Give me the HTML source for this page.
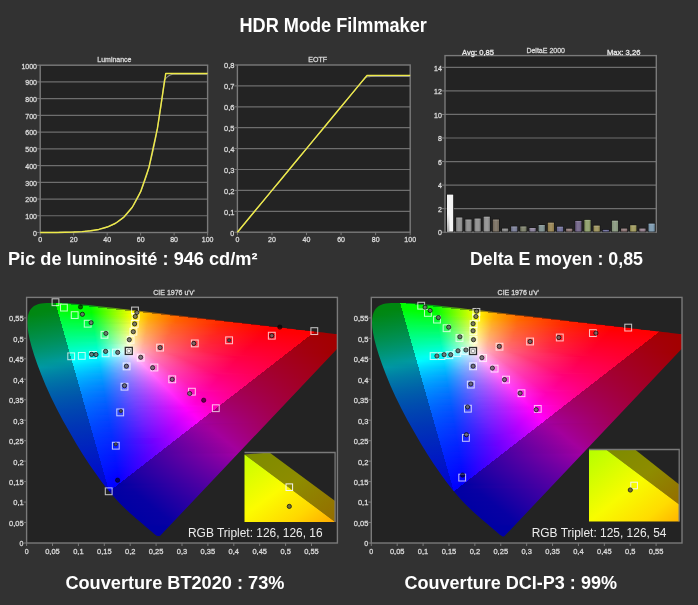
<!DOCTYPE html>
<html><head><meta charset="utf-8"><style>
html,body{margin:0;padding:0;background:#323232;width:698px;height:605px;overflow:hidden}
svg{position:absolute;left:0;top:0;font-family:"Liberation Sans", sans-serif;will-change:transform}
.cie,.bgp{position:absolute;overflow:hidden}
.bgp{background:#232323}
.cie i{position:absolute;display:block}
</style></head><body>
<div class="bgp" style="left:26.6px;top:297.4px;width:310.79999999999995px;height:245.60000000000002px"></div><div class="cie" style="left:26px;top:297px;width:312px;height:246px;clip-path:polygon(133.7px 239.3px,133.6px 239.2px,133.6px 239.2px,133.5px 239.3px,133.5px 239.3px,133.4px 239.3px,133.3px 239.3px,133.2px 239.3px,133.2px 239.3px,133.1px 239.4px,133.1px 239.5px,133.0px 239.5px,132.9px 239.5px,132.7px 239.5px,132.6px 239.5px,132.4px 239.5px,132.3px 239.5px,132.1px 239.5px,131.9px 239.4px,131.6px 239.3px,131.2px 239.1px,130.8px 238.8px,130.2px 238.4px,129.6px 237.9px,128.9px 237.4px,128.1px 236.7px,127.1px 236.0px,126.1px 235.1px,124.9px 234.1px,123.6px 233.0px,122.2px 231.7px,120.7px 230.4px,118.9px 228.9px,117.0px 227.3px,114.9px 225.5px,112.5px 223.5px,110.0px 221.4px,107.3px 219.1px,104.4px 216.5px,101.2px 213.6px,97.8px 210.3px,94.2px 206.7px,90.3px 202.6px,85.8px 197.5px,80.8px 191.4px,75.2px 184.2px,69.4px 176.1px,63.2px 167.2px,56.7px 157.2px,50.1px 146.5px,43.5px 135.1px,36.9px 123.5px,30.6px 111.6px,24.8px 99.8px,19.7px 88.4px,15.2px 77.5px,11.3px 67.3px,8.1px 58.0px,5.6px 49.7px,3.7px 42.4px,2.4px 36.0px,1.6px 30.5px,1.3px 25.8px,1.5px 21.7px,2.0px 18.2px,3.0px 15.2px,4.3px 12.7px,6.0px 10.7px,8.0px 9.1px,10.2px 7.9px,12.6px 7.1px,15.1px 6.5px,17.8px 6.2px,20.7px 6.0px,23.6px 5.9px,26.5px 5.8px,29.5px 5.8px,32.4px 5.9px,35.4px 6.0px,38.5px 6.1px,41.6px 6.3px,44.9px 6.5px,48.2px 6.8px,51.7px 7.1px,55.3px 7.4px,59.0px 7.7px,62.8px 8.1px,66.9px 8.5px,71.0px 9.0px,75.4px 9.5px,79.9px 10.0px,84.6px 10.5px,89.5px 11.1px,94.7px 11.7px,100.0px 12.3px,105.5px 12.9px,111.3px 13.6px,117.3px 14.3px,123.5px 15.1px,129.9px 15.8px,136.5px 16.6px,143.3px 17.4px,150.3px 18.2px,157.5px 19.1px,164.8px 19.9px,172.3px 20.8px,179.9px 21.7px,187.5px 22.6px,195.0px 23.5px,202.3px 24.4px,209.6px 25.2px,216.9px 26.1px,224.0px 26.9px,230.9px 27.7px,237.4px 28.5px,243.6px 29.2px,249.6px 29.9px,255.2px 30.6px,260.5px 31.2px,265.5px 31.8px,270.1px 32.4px,274.4px 32.9px,278.4px 33.3px,282.1px 33.8px,285.6px 34.2px,288.9px 34.6px,292.0px 34.9px,294.9px 35.3px,297.7px 35.6px,300.2px 35.9px,302.6px 36.2px,304.8px 36.5px,306.8px 36.7px,308.6px 36.9px,310.2px 37.1px,311.6px 37.3px,313.0px 37.4px,314.1px 37.6px,315.2px 37.7px,316.2px 37.8px,317.0px 37.9px,317.7px 38.0px,318.3px 38.1px,318.8px 38.1px,319.3px 38.2px,319.8px 38.2px,320.2px 38.3px,320.6px 38.3px,321.0px 38.4px,321.3px 38.4px,321.7px 38.5px,322.1px 38.5px,322.5px 38.5px,322.7px 38.6px,322.9px 38.6px,323.1px 38.6px,323.2px 38.6px,323.3px 38.7px,323.4px 38.7px,323.5px 38.7px,323.5px 38.7px)"><i style="top:6px;left:0;width:312px;height:1px;background:linear-gradient(90deg,#008710 13.5px,#008710 29.5px,#00ff00 30.5px,#00ff00 35.5px,#00a314 36.5px,#00a314 46.5px)"></i><i style="top:7px;left:0;width:312px;height:1px;background:linear-gradient(90deg,#008710 9.5px,#008710 29.5px,#00ff00 30.5px,#00ff00 44.5px,#00a314 45.5px,#00a314 58.5px)"></i><i style="top:8px;left:0;width:312px;height:1px;background:linear-gradient(90deg,#008710 7.5px,#008710 29.5px,#00ff00 30.5px,#00ff00 53.5px,#00a314 54.5px,#05a313 65.5px,#0ea312 67.5px)"></i><i style="top:9px;left:0;width:312px;height:1px;background:linear-gradient(90deg,#008710 5.5px,#008710 29.5px,#00ff00 30.5px,#00ff00 62.5px,#00a314 63.5px,#34a30f 77.5px)"></i><i style="top:10px;left:0;width:312px;height:1px;background:linear-gradient(90deg,#008710 4.5px,#008710 30.5px,#00ff00 31.5px,#00ff00 64.5px,#30ff00 71.5px,#23a310 72.5px,#51a30d 85.5px)"></i><i style="top:11px;left:0;width:312px;height:1px;background:linear-gradient(90deg,#008710 3.5px,#008710 30.5px,#00ff00 31.5px,#00ff00 64.5px,#63ff00 80.5px,#43a30e 81.5px,#72a30c 94.5px)"></i><i style="top:12px;left:0;width:312px;height:1px;background:linear-gradient(90deg,#008710 2.5px,#008710 30.5px,#00ff00 31.5px,#00ff00 64.5px,#96ff00 89.5px,#64a30c 90.5px,#95a30a 103.5px)"></i><i style="top:13px;left:0;width:312px;height:1px;background:linear-gradient(90deg,#008710 2.5px,#008714 31.5px,#00ff07 32.5px,#06ff00 65.5px,#cbff00 98.5px,#86a30b 99.5px,#a39d09 108.5px,#a39208 111.5px)"></i><i style="top:14px;left:0;width:312px;height:1px;background:linear-gradient(90deg,#008710 1.5px,#008716 31.5px,#00ff0d 32.5px,#04ff00 65.5px,#fffa00 107.5px,#a39c09 108.5px,#a37706 120.5px)"></i><i style="top:15px;left:0;width:312px;height:1px;background:linear-gradient(90deg,#008710 1.5px,#008719 31.5px,#00ff13 32.5px,#03ff00 65.5px,#feff00 106.5px,#ffca00 116.5px,#a37e07 117.5px,#a36405 128.5px)"></i><i style="top:16px;left:0;width:312px;height:1px;background:linear-gradient(90deg,#008710 1.5px,#00881b 31.5px,#00ff18 32.5px,#01ff07 65.5px,#84ff00 86.5px,#fff900 107.5px,#ffa900 124.5px,#ffa600 125.5px,#a36805 126.5px,#a35403 137.5px)"></i><i style="top:17px;left:0;width:312px;height:1px;background:linear-gradient(90deg,#008710 0.5px,#00881e 32.5px,#00ff1d 33.5px,#00ff0e 65.5px,#96ff00 89.5px,#ffff00 106.5px,#ffb000 122.5px,#ff8a00 134.5px,#a35704 135.5px,#a34803 145.5px)"></i><i style="top:18px;left:0;width:312px;height:1px;background:linear-gradient(90deg,#008712 0.5px,#008820 32.5px,#00ff22 33.5px,#00ff15 65.5px,#f9ff00 105.5px,#ffa500 125.5px,#ff7400 143.5px,#a34903 144.5px,#a33d02 154.5px)"></i><i style="top:19px;left:0;width:312px;height:1px;background:linear-gradient(90deg,#008715 0.5px,#008823 32.5px,#00ff27 33.5px,#00ff1b 65.5px,#fffd00 106.5px,#ffaf00 122.5px,#ff6800 149.5px,#ff6200 152.5px,#a33e02 153.5px,#a33402 162.5px)"></i><i style="top:20px;left:0;width:312px;height:1px;background:linear-gradient(90deg,#008718 0.5px,#008925 33.5px,#00ff2b 34.5px,#05ff21 66.5px,#fffd09 106.5px,#ffae00 122.5px,#ff6700 149.5px,#ff5300 161.5px,#a33401 162.5px,#a32c01 171.5px)"></i><i style="top:21px;left:0;width:312px;height:1px;background:linear-gradient(90deg,#00881a 0.5px,#008928 33.5px,#00ff30 34.5px,#03ff27 66.5px,#fffc12 106.5px,#ffad03 122.5px,#ff6600 149.5px,#ff4500 170.5px,#a32b01 171.5px,#a32501 179.5px)"></i><i style="top:22px;left:0;width:312px;height:1px;background:linear-gradient(90deg,#00881d 0.5px,#00892a 33.5px,#00ff35 34.5px,#01ff2c 66.5px,#95ff24 89.5px,#fffb1a 106.5px,#ffac0a 122.5px,#ff6500 149.5px,#ff3900 179.5px,#a32401 180.5px,#a31e01 188.5px)"></i><i style="top:23px;left:0;width:312px;height:1px;background:linear-gradient(90deg,#00881f 0.5px,#008a2c 33.5px,#00ff39 34.5px,#00ff32 66.5px,#89ff2b 87.5px,#fffb22 106.5px,#ffac11 122.5px,#ff6500 149.5px,#ff2f00 188.5px,#a31d01 189.5px,#a31900 196.5px)"></i><i style="top:24px;left:0;width:312px;height:1px;background:linear-gradient(90deg,#008821 0.5px,#008a2f 34.5px,#00ff3e 35.5px,#00ff37 66.5px,#fdff2b 105.5px,#ffab17 122.5px,#ff6404 149.5px,#ff2500 197.5px,#a31700 198.5px,#a31400 204.5px)"></i><i style="top:25px;left:0;width:312px;height:1px;background:linear-gradient(90deg,#008923 0.5px,#008a31 34.5px,#00ff42 35.5px,#00ff3d 66.5px,#fffa31 106.5px,#ffaa1d 122.5px,#ff630a 149.5px,#ff2500 197.5px,#ff1d00 206.5px,#a31200 207.5px,#a30e00 213.5px)"></i><i style="top:26px;left:0;width:312px;height:1px;background:linear-gradient(90deg,#008926 0.5px,#008b33 34.5px,#00ff47 35.5px,#05ff42 67.5px,#fff938 106.5px,#ffa922 122.5px,#ff630e 149.5px,#ff2400 197.5px,#ff1400 215.5px,#a30d00 216.5px,#a30a00 221.5px)"></i><i style="top:27px;left:0;width:312px;height:1px;background:linear-gradient(90deg,#008928 0.5px,#008b36 35.5px,#00ff4b 36.5px,#04ff48 67.5px,#ffff40 105.5px,#ffb02a 120.5px,#ff6a15 145.5px,#ff2800 192.5px,#ff0d00 224.5px,#a30700 225.5px,#a30500 230.5px)"></i><i style="top:28px;left:0;width:312px;height:1px;background:linear-gradient(90deg,#00892a 0.5px,#008b38 35.5px,#00ff50 36.5px,#02ff4d 67.5px,#bcff49 95.5px,#ffff47 105.5px,#ffb02f 120.5px,#ff6919 145.5px,#ff2803 192.5px,#ff0400 233.5px,#a30200 234.5px,#a30000 238.5px)"></i><i style="top:29px;left:0;width:312px;height:1px;background:linear-gradient(90deg,#008a2c 0.5px,#008c3b 35.5px,#00ff54 36.5px,#00ff52 67.5px,#7bff51 85.5px,#fffe4e 105.5px,#ffaf34 120.5px,#ff681d 145.5px,#ff2706 192.5px,#ff0000 242.5px,#a30000 243.5px,#a30000 247.5px)"></i><i style="top:30px;left:0;width:312px;height:1px;background:linear-gradient(90deg,#008a2f 0.5px,#008c3d 35.5px,#00ff59 36.5px,#00ff58 67.5px,#fffd55 105.5px,#ffae39 120.5px,#ff6821 145.5px,#ff260a 192.5px,#ff0000 242.5px,#ff0000 251.5px,#a30000 252.5px,#a30000 255.5px)"></i><i style="top:31px;left:0;width:312px;height:1px;background:linear-gradient(90deg,#008a31 0.5px,#008d40 36.5px,#00ff5d 37.5px,#00ff5d 67.5px,#fffd5b 105.5px,#ffad3e 120.5px,#ff6725 145.5px,#ff260d 192.5px,#ff0000 241.5px,#ff0000 260.5px,#a30000 261.5px,#a30000 264.5px)"></i><i style="top:32px;left:0;width:312px;height:1px;background:linear-gradient(90deg,#008b33 0.5px,#008d42 36.5px,#00ff62 37.5px,#06ff62 68.5px,#fffc62 105.5px,#ffad43 120.5px,#ff6628 145.5px,#ff2510 192.5px,#ff0000 241.5px,#ff0000 269.5px,#a30000 270.5px,#a30000 272.5px)"></i><i style="top:33px;left:0;width:312px;height:1px;background:linear-gradient(90deg,#008b35 0.5px,#008d45 36.5px,#00ff66 37.5px,#05ff68 68.5px,#fffb69 105.5px,#ffac48 120.5px,#ff652c 145.5px,#ff2412 192.5px,#ff0003 240.5px,#ff0000 278.5px,#a30000 279.5px,#a30000 281.5px)"></i><i style="top:34px;left:0;width:312px;height:1px;background:linear-gradient(90deg,#008b38 0.5px,#008e47 37.5px,#00ff6b 38.5px,#03ff6d 68.5px,#fcff71 104.5px,#ffab4d 120.5px,#ff6530 145.5px,#ff2415 192.5px,#ff0006 239.5px,#ff0000 287.5px,#a30000 288.5px,#a30000 289.5px)"></i><i style="top:35px;left:0;width:312px;height:1px;background:linear-gradient(90deg,#008c3a 0.5px,#008e4a 37.5px,#00ff70 38.5px,#01ff72 68.5px,#87ff75 87.5px,#fffa76 105.5px,#ffaa52 120.5px,#ff6433 145.5px,#ff2318 192.5px,#ff0009 238.5px,#ff0000 287.5px,#a30000 288.5px,#a30000 298.5px)"></i><i style="top:36px;left:0;width:312px;height:1px;background:linear-gradient(90deg,#008c3c 0.5px,#008f4c 37.5px,#00ff74 38.5px,#00ff78 68.5px,#9bff7c 90.5px,#fff97c 105.5px,#ffa957 120.5px,#ff6337 145.5px,#ff221a 192.5px,#ff000b 237.5px,#ff0000 285.5px,#a30000 286.5px,#a30000 306.5px)"></i><i style="top:37px;left:0;width:312px;height:1px;background:linear-gradient(90deg,#008d3f 1.5px,#008f4f 37.5px,#00ff79 38.5px,#00ff7d 68.5px,#feff86 104.5px,#ffad5e 119.5px,#ff673c 143.5px,#ff261e 188.5px,#ff000e 236.5px,#ff0002 284.5px,#a30001 285.5px,#a30000 311.5px)"></i><i style="top:38px;left:0;width:312px;height:1px;background:linear-gradient(90deg,#008d42 1.5px,#008f52 38.5px,#00ff7d 39.5px,#00ff83 68.5px,#ffff8d 104.5px,#ffb065 118.5px,#ff6a42 141.5px,#ff2923 184.5px,#ff0010 235.5px,#ff0005 283.5px,#a30003 284.5px,#a30000 311.5px)"></i><i style="top:39px;left:0;width:312px;height:1px;background:linear-gradient(90deg,#008d44 1.5px,#009054 38.5px,#00ff82 39.5px,#05ff88 69.5px,#fffe93 104.5px,#ffaf6a 118.5px,#ff6946 141.5px,#ff2826 184.5px,#ff0013 234.5px,#ff0007 282.5px,#a30004 283.5px,#a30000 311.5px)"></i><i style="top:40px;left:0;width:312px;height:1px;background:linear-gradient(90deg,#008e46 1.5px,#009057 38.5px,#00ff87 39.5px,#04ff8e 69.5px,#fffe9a 104.5px,#ffae6f 118.5px,#ff6949 141.5px,#ff2828 184.5px,#ff0015 233.5px,#ff0009 280.5px,#a30006 281.5px,#a30000 311.5px)"></i><i style="top:41px;left:0;width:312px;height:1px;background:linear-gradient(90deg,#008e49 2.5px,#00915a 39.5px,#00ff8b 40.5px,#02ff93 69.5px,#9bff9b 90.5px,#fffda0 104.5px,#ffae74 118.5px,#ff684d 141.5px,#ff272b 184.5px,#ff0017 232.5px,#ff000b 279.5px,#a30007 280.5px,#a30000 311.5px)"></i><i style="top:42px;left:0;width:312px;height:1px;background:linear-gradient(90deg,#008f4c 2.5px,#00915d 39.5px,#00ff90 40.5px,#00ff99 69.5px,#86ffa0 87.5px,#fffca7 104.5px,#ffad78 118.5px,#ff6750 141.5px,#ff262d 184.5px,#ff001a 231.5px,#ff000d 278.5px,#a30008 279.5px,#a30000 311.5px)"></i><i style="top:43px;left:0;width:312px;height:1px;background:linear-gradient(90deg,#008f4e 2.5px,#009160 39.5px,#00ff95 40.5px,#00ff9e 69.5px,#fffcad 104.5px,#ffac7d 118.5px,#ff6654 141.5px,#ff262f 184.5px,#ff001c 230.5px,#ff000f 276.5px,#a3000a 277.5px,#a30000 311.5px)"></i><i style="top:44px;left:0;width:312px;height:1px;background:linear-gradient(90deg,#008f51 2.5px,#009262 39.5px,#00ff99 40.5px,#00ffa4 69.5px,#fffbb4 104.5px,#ffab82 118.5px,#ff6557 141.5px,#ff2532 184.5px,#ff001e 229.5px,#ff0011 275.5px,#a3000b 276.5px,#a30000 311.5px)"></i><i style="top:45px;left:0;width:312px;height:1px;background:linear-gradient(90deg,#009053 2.5px,#009266 40.5px,#00ff9f 41.5px,#06ffaa 70.5px,#fffabb 104.5px,#ffaa87 118.5px,#ff655b 141.5px,#ff2434 184.5px,#ff0020 228.5px,#ff0013 274.5px,#a3000c 275.5px,#a30000 311.5px)"></i><i style="top:46px;left:0;width:312px;height:1px;background:linear-gradient(90deg,#009057 3.5px,#009368 40.5px,#00ffa3 41.5px,#04ffb0 70.5px,#fff9c1 104.5px,#ffa98c 118.5px,#ff645e 141.5px,#ff2236 185.5px,#ff0023 227.5px,#ff0015 273.5px,#a3000d 274.5px,#a30000 311.5px)"></i><i style="top:47px;left:0;width:312px;height:1px;background:linear-gradient(90deg,#009159 3.5px,#00936b 40.5px,#00ffa8 41.5px,#02ffb5 70.5px,#fdffcc 103.5px,#ffad94 117.5px,#ff6765 139.5px,#ff273c 180.5px,#ff0025 226.5px,#ff0017 271.5px,#a3000f 272.5px,#a30000 311.5px)"></i><i style="top:48px;left:0;width:312px;height:1px;background:linear-gradient(90deg,#00915c 3.5px,#00946f 41.5px,#00ffad 42.5px,#00ffbb 70.5px,#76ffc5 85.5px,#feffd3 103.5px,#ffb19c 116.5px,#ff696a 138.5px,#ff2940 178.5px,#ff0027 224.5px,#ff0019 270.5px,#a30010 271.5px,#a30000 311.5px)"></i><i style="top:49px;left:0;width:312px;height:1px;background:linear-gradient(90deg,#00915f 4.5px,#009472 41.5px,#00ffb2 42.5px,#00ffc1 70.5px,#ffffdb 103.5px,#ffb0a1 116.5px,#ff686e 138.5px,#ff2741 179.5px,#ff002a 223.5px,#ff001b 269.5px,#a30011 270.5px,#a30000 311.5px)"></i><i style="top:50px;left:0;width:312px;height:1px;background:linear-gradient(90deg,#009262 4.5px,#009475 41.5px,#00ffb7 42.5px,#00ffc7 70.5px,#fffee2 103.5px,#ffafa6 116.5px,#ff6771 138.5px,#ff2644 179.5px,#ff002c 222.5px,#ff001d 267.5px,#a30012 268.5px,#a30000 311.5px)"></i><i style="top:51px;left:0;width:312px;height:1px;background:linear-gradient(90deg,#009264 4.5px,#009578 41.5px,#00ffbc 42.5px,#00ffcc 70.5px,#fffee9 103.5px,#ffaeab 116.5px,#ff6976 137.5px,#ff2748 177.5px,#ff002e 221.5px,#ff001f 266.5px,#a30013 267.5px,#a30000 311.5px)"></i><i style="top:52px;left:0;width:312px;height:1px;background:linear-gradient(90deg,#009367 4.5px,#00957b 42.5px,#00ffc1 43.5px,#05ffd3 71.5px,#fffdf0 103.5px,#ffadb0 116.5px,#ff687a 137.5px,#ff274a 177.5px,#ff0031 220.5px,#ff0021 265.5px,#a30015 266.5px,#a30000 311.5px)"></i><i style="top:53px;left:0;width:312px;height:1px;background:linear-gradient(90deg,#00936b 5.5px,#00967e 42.5px,#00ffc6 43.5px,#03ffd9 71.5px,#fffcf6 103.5px,#ffacb5 116.5px,#ff677e 137.5px,#ff264c 177.5px,#ff0033 219.5px,#ff0023 264.5px,#a30016 265.5px,#a30000 310.5px)"></i><i style="top:54px;left:0;width:312px;height:1px;background:linear-gradient(90deg,#00936d 5.5px,#009681 42.5px,#00ffcb 43.5px,#01ffdf 71.5px,#8bffef 88.5px,#fffbfd 103.5px,#ffabba 116.5px,#ff6681 137.5px,#ff254f 177.5px,#ff0035 218.5px,#ff0025 262.5px,#a30017 263.5px,#a30000 310.5px)"></i><i style="top:55px;left:0;width:312px;height:1px;background:linear-gradient(90deg,#009470 5.5px,#009785 43.5px,#00ffd1 44.5px,#00ffe5 71.5px,#a2fff9 91.5px,#fff2fd 104.5px,#ffa6bb 117.5px,#ff6181 139.5px,#ff204e 181.5px,#ff0037 218.5px,#ff0027 261.5px,#a30018 262.5px,#a30000 309.5px)"></i><i style="top:56px;left:0;width:312px;height:1px;background:linear-gradient(90deg,#009474 6.5px,#009788 43.5px,#00ffd6 44.5px,#00ffeb 71.5px,#affbff 93.5px,#ffeafd 105.5px,#ff9cb9 119.5px,#ff577d 143.5px,#ff1549 190.5px,#ff0039 218.5px,#ff0028 260.5px,#a30019 261.5px,#a30001 308.5px)"></i><i style="top:57px;left:0;width:312px;height:1px;background:linear-gradient(90deg,#009577 6.5px,#00978b 43.5px,#00ffdb 44.5px,#00fff1 71.5px,#95f8ff 90.5px,#ffe2fd 106.5px,#ff97ba 120.5px,#ff547f 144.5px,#ff134a 192.5px,#ff003b 217.5px,#ff002b 258.5px,#a3001b 259.5px,#a30003 307.5px)"></i><i style="top:58px;left:0;width:312px;height:1px;background:linear-gradient(90deg,#00957a 6.5px,#00988f 43.5px,#00ffe0 44.5px,#06fff9 72.5px,#76f6ff 86.5px,#ffdafd 107.5px,#ff8fb8 122.5px,#ff4c7b 148.5px,#ff0a47 200.5px,#ff003a 223.5px,#ff002c 257.5px,#a3001c 258.5px,#a30004 306.5px)"></i><i style="top:59px;left:0;width:312px;height:1px;background:linear-gradient(90deg,#00967d 7.5px,#009893 44.5px,#00ffe6 45.5px,#04ffff 72.5px,#6cf1ff 85.5px,#ffd2fd 108.5px,#ff87b5 124.5px,#ff4478 152.5px,#ff0145 207.5px,#ff002e 256.5px,#a3001d 257.5px,#a30005 305.5px)"></i><i style="top:60px;left:0;width:312px;height:1px;background:linear-gradient(90deg,#009681 7.5px,#009996 44.5px,#00ffec 45.5px,#02f9ff 72.5px,#62ecff 84.5px,#ffcbfd 109.5px,#ff83b7 125.5px,#ff417a 153.5px,#ff0046 208.5px,#ff0030 255.5px,#a3001e 256.5px,#a30007 304.5px)"></i><i style="top:61px;left:0;width:312px;height:1px;background:linear-gradient(90deg,#009684 7.5px,#00999a 44.5px,#00fff1 45.5px,#00f5ff 70.5px,#00f3ff 72.5px,#58e7ff 83.5px,#ffc4fd 110.5px,#ff7eb8 126.5px,#ff3d7a 155.5px,#ff0046 211.5px,#ff0032 253.5px,#a30020 254.5px,#a30008 303.5px)"></i><i style="top:62px;left:0;width:312px;height:1px;background:linear-gradient(90deg,#009788 8.5px,#009a9e 45.5px,#00fff7 46.5px,#00edff 72.5px,#69deff 86.5px,#ffbdfd 111.5px,#ff77b6 128.5px,#ff3878 158.5px,#ff0048 210.5px,#ff0034 252.5px,#a30021 253.5px,#a30009 302.5px)"></i><i style="top:63px;left:0;width:312px;height:1px;background:linear-gradient(90deg,#00978b 8.5px,#009aa1 45.5px,#00fffd 46.5px,#00e8ff 72.5px,#73d6ff 88.5px,#ffb7fd 112.5px,#ff73b7 129.5px,#ff3579 159.5px,#ff004b 209.5px,#ff0036 251.5px,#a30022 252.5px,#a3000a 301.5px)"></i><i style="top:64px;left:0;width:312px;height:1px;background:linear-gradient(90deg,#00988e 8.5px,#0099a4 45.5px,#00fcff 46.5px,#06e1ff 73.5px,#76d0ff 89.5px,#ffb0fd 113.5px,#ff6db5 131.5px,#ff3078 162.5px,#ff004e 208.5px,#ff0039 249.5px,#a30024 250.5px,#a3000b 300.5px)"></i><i style="top:65px;left:0;width:312px;height:1px;background:linear-gradient(90deg,#009892 9.5px,#0096a4 45.5px,#00f7ff 46.5px,#04dcff 73.5px,#6dccff 88.5px,#ffaafc 114.5px,#ff69b6 132.5px,#ff2c78 164.5px,#ff0050 207.5px,#ff003b 248.5px,#a30025 249.5px,#a3000c 299.5px)"></i><i style="top:66px;left:0;width:312px;height:1px;background:linear-gradient(90deg,#009995 9.5px,#0093a4 46.5px,#00f1ff 47.5px,#02d7ff 73.5px,#64c8ff 87.5px,#ffa5fc 115.5px,#ff65b7 133.5px,#ff2a79 165.5px,#ff0053 206.5px,#ff003c 247.5px,#a30026 248.5px,#a3000d 298.5px)"></i><i style="top:67px;left:0;width:312px;height:1px;background:linear-gradient(90deg,#009999 9.5px,#0091a4 46.5px,#00ecff 47.5px,#00d2ff 73.5px,#56c6ff 85.5px,#ff9ffc 116.5px,#ff5fb5 135.5px,#ff2578 168.5px,#ff0055 206.5px,#ff003e 246.5px,#a30027 247.5px,#a3000f 297.5px)"></i><i style="top:68px;left:0;width:312px;height:1px;background:linear-gradient(90deg,#009a9d 10.5px,#008ea4 46.5px,#00e7ff 47.5px,#00ceff 73.5px,#65beff 88.5px,#ff99fc 117.5px,#ff5cb6 136.5px,#ff2278 170.5px,#ff0057 205.5px,#ff0041 244.5px,#a30029 245.5px,#a30010 296.5px)"></i><i style="top:69px;left:0;width:312px;height:1px;background:linear-gradient(90deg,#009aa1 10.5px,#008ba4 47.5px,#00e2ff 48.5px,#00c9ff 73.5px,#6eb7ff 90.5px,#ff94fc 118.5px,#ff56b4 138.5px,#ff1d77 173.5px,#ff005a 204.5px,#ff0043 243.5px,#a3002a 244.5px,#a30011 295.5px)"></i><i style="top:70px;left:0;width:312px;height:1px;background:linear-gradient(90deg,#009aa4 10.5px,#0089a5 47.5px,#00ddff 48.5px,#06c4ff 74.5px,#76b1ff 92.5px,#ff8ffc 119.5px,#ff53b5 139.5px,#ff1b78 174.5px,#ff005c 203.5px,#ff0045 242.5px,#a3002c 243.5px,#a30012 294.5px)"></i><i style="top:71px;left:0;width:312px;height:1px;background:linear-gradient(90deg,#0097a4 11.5px,#0086a5 47.5px,#00d9ff 48.5px,#04c0ff 74.5px,#6eaeff 91.5px,#ff8afc 120.5px,#ff50b6 140.5px,#ff1878 176.5px,#ff005f 202.5px,#ff0047 240.5px,#a3002d 241.5px,#a30013 293.5px)"></i><i style="top:72px;left:0;width:312px;height:1px;background:linear-gradient(90deg,#0094a4 11.5px,#0084a5 47.5px,#00d5ff 48.5px,#03bcff 74.5px,#66abff 90.5px,#ff85fc 121.5px,#ff4bb4 142.5px,#ff1477 179.5px,#ff0061 202.5px,#ff004a 239.5px,#a3002f 240.5px,#a30014 292.5px)"></i><i style="top:73px;left:0;width:312px;height:1px;background:linear-gradient(90deg,#0091a4 12.5px,#0081a5 48.5px,#00d0ff 49.5px,#01b8ff 74.5px,#5aa9ff 88.5px,#ff80fc 122.5px,#ff48b5 143.5px,#ff1178 180.5px,#ff0064 201.5px,#ff004c 238.5px,#a30030 239.5px,#a30015 292.5px)"></i><i style="top:74px;left:0;width:312px;height:1px;background:linear-gradient(90deg,#008ea4 12.5px,#007fa6 48.5px,#00ccff 49.5px,#00b4ff 74.5px,#5da5ff 89.5px,#ff7bfc 123.5px,#ff45b6 144.5px,#ff0f79 181.5px,#ff0067 200.5px,#ff004e 237.5px,#a30031 238.5px,#a30016 291.5px)"></i><i style="top:75px;left:0;width:312px;height:1px;background:linear-gradient(90deg,#008ca4 12.5px,#007da6 48.5px,#00c8ff 49.5px,#00b0ff 74.5px,#6a9eff 92.5px,#ff77fc 124.5px,#ff40b5 146.5px,#ff0a77 185.5px,#ff0065 204.5px,#ff0050 235.5px,#a30033 236.5px,#a30017 290.5px)"></i><i style="top:76px;left:0;width:312px;height:1px;background:linear-gradient(90deg,#0089a5 13.5px,#007ba6 49.5px,#00c3ff 50.5px,#06acff 75.5px,#7697ff 95.5px,#ff73fc 125.5px,#ff3db5 147.5px,#ff0778 186.5px,#ff005c 219.5px,#ff0053 234.5px,#a30034 235.5px,#a30018 289.5px)"></i><i style="top:77px;left:0;width:312px;height:1px;background:linear-gradient(90deg,#0086a5 13.5px,#0079a6 49.5px,#00c0ff 50.5px,#05a8ff 75.5px,#6f95ff 94.5px,#ff6efc 126.5px,#ff39b4 149.5px,#ff0277 189.5px,#ff0055 233.5px,#a30036 234.5px,#a30019 288.5px)"></i><i style="top:78px;left:0;width:312px;height:1px;background:linear-gradient(90deg,#0084a5 14.5px,#0077a6 49.5px,#00bcff 50.5px,#03a5ff 75.5px,#6893ff 93.5px,#ff6afc 127.5px,#ff36b5 150.5px,#ff0077 191.5px,#ff0057 231.5px,#a30038 232.5px,#a3001a 287.5px)"></i><i style="top:79px;left:0;width:312px;height:1px;background:linear-gradient(90deg,#0082a5 14.5px,#0075a7 49.5px,#00b9ff 50.5px,#01a2ff 75.5px,#6191ff 92.5px,#ff66fc 128.5px,#ff33b5 151.5px,#ff0078 192.5px,#ff005a 230.5px,#a30039 231.5px,#a3001b 286.5px)"></i><i style="top:80px;left:0;width:312px;height:1px;background:linear-gradient(90deg,#007fa5 14.5px,#0073a7 50.5px,#00b5ff 51.5px,#009fff 75.5px,#5a8fff 91.5px,#ff62fc 129.5px,#ff2fb4 153.5px,#ff007a 192.5px,#ff005c 229.5px,#a3003a 230.5px,#a3001c 285.5px)"></i><i style="top:81px;left:0;width:312px;height:1px;background:linear-gradient(90deg,#007da6 15.5px,#0071a7 50.5px,#00b1ff 51.5px,#009cff 75.5px,#628aff 93.5px,#ff5efc 130.5px,#ff2cb5 154.5px,#ff007d 191.5px,#ff005e 228.5px,#a3003c 229.5px,#a3001d 284.5px)"></i><i style="top:82px;left:0;width:312px;height:1px;background:linear-gradient(90deg,#007ba6 15.5px,#006fa7 50.5px,#00aeff 51.5px,#0698ff 76.5px,#7781ff 98.5px,#ff5afc 131.5px,#ff2ab6 155.5px,#ff0080 190.5px,#ff0061 226.5px,#a3003e 227.5px,#a3001f 283.5px)"></i><i style="top:83px;left:0;width:312px;height:1px;background:linear-gradient(90deg,#0079a6 16.5px,#006da8 51.5px,#00aaff 52.5px,#0595ff 76.5px,#7080ff 97.5px,#ff57fc 132.5px,#ff26b4 157.5px,#ff0082 190.5px,#ff0064 225.5px,#a3003f 226.5px,#a30020 282.5px)"></i><i style="top:84px;left:0;width:312px;height:1px;background:linear-gradient(90deg,#0077a6 16.5px,#006ba8 51.5px,#00a7ff 52.5px,#0392ff 76.5px,#697eff 96.5px,#ff53fc 133.5px,#ff23b5 158.5px,#ff0086 189.5px,#ff0066 224.5px,#a30041 225.5px,#a30021 281.5px)"></i><i style="top:85px;left:0;width:312px;height:1px;background:linear-gradient(90deg,#0075a7 16.5px,#006aa8 51.5px,#00a4ff 52.5px,#028fff 76.5px,#637cff 95.5px,#ff4ffc 134.5px,#ff1fb4 160.5px,#ff0089 188.5px,#ff0069 222.5px,#a30043 223.5px,#a30022 280.5px)"></i><i style="top:86px;left:0;width:312px;height:1px;background:linear-gradient(90deg,#0072a7 17.5px,#0068a9 51.5px,#00a2ff 52.5px,#008cff 76.5px,#597cff 93.5px,#ff4cfb 135.5px,#ff1db4 161.5px,#ff008c 187.5px,#ff006b 221.5px,#a30044 222.5px,#a30023 279.5px)"></i><i style="top:87px;left:0;width:312px;height:1px;background:linear-gradient(90deg,#0071a7 17.5px,#0066a9 52.5px,#009eff 53.5px,#008aff 76.5px,#5f77ff 95.5px,#ff48fb 136.5px,#ff1ab5 162.5px,#ff008f 186.5px,#ff006e 220.5px,#a30046 221.5px,#a30024 278.5px)"></i><i style="top:88px;left:0;width:312px;height:1px;background:linear-gradient(90deg,#006fa8 18.5px,#0065a9 52.5px,#009bff 53.5px,#0686ff 77.5px,#776fff 101.5px,#ff45fb 137.5px,#ff16b4 164.5px,#ff0093 185.5px,#ff0070 219.5px,#a30047 220.5px,#a30025 277.5px)"></i><i style="top:89px;left:0;width:312px;height:1px;background:linear-gradient(90deg,#006da8 18.5px,#0063a9 52.5px,#0099ff 53.5px,#0584ff 77.5px,#716dff 100.5px,#ff42fb 138.5px,#ff14b5 165.5px,#ff0095 185.5px,#ff0074 217.5px,#a30049 218.5px,#a30027 276.5px)"></i><i style="top:90px;left:0;width:312px;height:1px;background:linear-gradient(90deg,#006ba8 19.5px,#0061aa 53.5px,#0095ff 54.5px,#0481ff 77.5px,#6b6cff 99.5px,#ff3efb 139.5px,#ff10b3 167.5px,#ff0098 184.5px,#ff0076 216.5px,#a3004b 217.5px,#a30028 275.5px)"></i><i style="top:91px;left:0;width:312px;height:1px;background:linear-gradient(90deg,#0069a8 19.5px,#0060aa 53.5px,#0093ff 54.5px,#027fff 77.5px,#656bff 98.5px,#ff3bfb 140.5px,#ff0db4 168.5px,#ff009b 184.5px,#ff0079 215.5px,#a3004d 216.5px,#a30028 275.5px)"></i><i style="top:92px;left:0;width:312px;height:1px;background:linear-gradient(90deg,#0068a9 19.5px,#005eaa 53.5px,#0090ff 54.5px,#017cff 77.5px,#5b6aff 96.5px,#ff38fb 141.5px,#ff0bb5 169.5px,#ff009d 184.5px,#ff007c 213.5px,#a3004f 214.5px,#a3002a 274.5px)"></i><i style="top:93px;left:0;width:312px;height:1px;background:linear-gradient(90deg,#0066a9 20.5px,#005dab 53.5px,#008eff 54.5px,#007aff 77.5px,#5d67ff 97.5px,#ff35fb 142.5px,#ff07b4 171.5px,#ff0082 209.5px,#ff007f 212.5px,#a30051 213.5px,#a3002b 273.5px)"></i><i style="top:94px;left:0;width:312px;height:1px;background:linear-gradient(90deg,#0064a9 20.5px,#005bab 54.5px,#008bff 55.5px,#0677ff 78.5px,#775eff 104.5px,#ff32fb 143.5px,#ff04b4 172.5px,#ff0082 211.5px,#a30052 212.5px,#a3002c 272.5px)"></i><i style="top:95px;left:0;width:312px;height:1px;background:linear-gradient(90deg,#0062aa 21.5px,#005aab 54.5px,#0088ff 55.5px,#0575ff 78.5px,#715dff 103.5px,#ff2efb 144.5px,#ff00b5 173.5px,#ff0084 210.5px,#a30054 211.5px,#a3002d 271.5px)"></i><i style="top:96px;left:0;width:312px;height:1px;background:linear-gradient(90deg,#0061aa 21.5px,#0059ac 54.5px,#0086ff 55.5px,#0472ff 78.5px,#6c5cff 102.5px,#ff2bfb 145.5px,#ff00b4 175.5px,#ff0088 208.5px,#a30056 209.5px,#a3002f 270.5px)"></i><i style="top:97px;left:0;width:312px;height:1px;background:linear-gradient(90deg,#005faa 22.5px,#0057ac 55.5px,#0083ff 56.5px,#0270ff 78.5px,#665bff 101.5px,#ff28fb 146.5px,#ff00b6 175.5px,#ff008b 207.5px,#a30058 208.5px,#a30030 269.5px)"></i><i style="top:98px;left:0;width:312px;height:1px;background:linear-gradient(90deg,#005eab 22.5px,#0056ac 55.5px,#0081ff 56.5px,#016eff 78.5px,#5d5bff 99.5px,#ff25fb 147.5px,#ff00ba 174.5px,#ff008e 206.5px,#a3005a 207.5px,#a30031 268.5px)"></i><i style="top:99px;left:0;width:312px;height:1px;background:linear-gradient(90deg,#005cab 23.5px,#0054ad 55.5px,#007fff 56.5px,#006cff 78.5px,#585aff 98.5px,#ff22fb 148.5px,#ff00be 173.5px,#ff0092 204.5px,#a3005d 205.5px,#a30032 267.5px)"></i><i style="top:100px;left:0;width:312px;height:1px;background:linear-gradient(90deg,#005bab 23.5px,#0053ad 55.5px,#007dff 56.5px,#0669ff 79.5px,#774fff 107.5px,#ff20fb 149.5px,#ff00c3 172.5px,#ff0095 203.5px,#a3005f 204.5px,#a30034 266.5px)"></i><i style="top:101px;left:0;width:312px;height:1px;background:linear-gradient(90deg,#0059ac 24.5px,#0052ad 56.5px,#007aff 57.5px,#0567ff 79.5px,#724fff 106.5px,#ff1dfb 150.5px,#ff00c5 172.5px,#ff0098 202.5px,#a30060 203.5px,#a30035 265.5px)"></i><i style="top:102px;left:0;width:312px;height:1px;background:linear-gradient(90deg,#0058ac 24.5px,#0050ae 56.5px,#0078ff 57.5px,#0466ff 79.5px,#6c4eff 105.5px,#ff1afb 151.5px,#ff00c9 171.5px,#ff009c 200.5px,#a30063 201.5px,#a30036 264.5px)"></i><i style="top:103px;left:0;width:312px;height:1px;background:linear-gradient(90deg,#0056ac 25.5px,#004fae 56.5px,#0076ff 57.5px,#0364ff 79.5px,#674dff 104.5px,#ff17fb 152.5px,#ff00ce 170.5px,#ff009f 199.5px,#a30065 200.5px,#a30038 263.5px)"></i><i style="top:104px;left:0;width:312px;height:1px;background:linear-gradient(90deg,#0055ac 25.5px,#004eae 56.5px,#0074ff 57.5px,#0162ff 79.5px,#624cff 103.5px,#ff14fb 153.5px,#ff00d0 170.5px,#ff00a3 198.5px,#a30067 199.5px,#a30039 262.5px)"></i><i style="top:105px;left:0;width:312px;height:1px;background:linear-gradient(90deg,#0053ad 26.5px,#004daf 57.5px,#0071ff 58.5px,#0060ff 79.5px,#574dff 100.5px,#ff11fb 154.5px,#ff00d5 169.5px,#ff00a6 197.5px,#a30069 198.5px,#a3003a 261.5px)"></i><i style="top:106px;left:0;width:312px;height:1px;background:linear-gradient(90deg,#0052ad 26.5px,#004baf 57.5px,#006fff 58.5px,#065dff 80.5px,#7742ff 110.5px,#ff0efb 155.5px,#ff00d7 169.5px,#ff00aa 195.5px,#a3006c 196.5px,#a3003c 260.5px)"></i><i style="top:107px;left:0;width:312px;height:1px;background:linear-gradient(90deg,#0051ae 27.5px,#004aaf 57.5px,#006dff 58.5px,#055cff 80.5px,#7242ff 109.5px,#ff0bfb 156.5px,#ff00da 169.5px,#ff00ae 194.5px,#a3006e 195.5px,#a3003d 259.5px)"></i><i style="top:108px;left:0;width:312px;height:1px;background:linear-gradient(90deg,#004fae 27.5px,#0049b0 58.5px,#006bff 59.5px,#045aff 80.5px,#6d41ff 108.5px,#ff07fb 157.5px,#ff00c8 179.5px,#ff00b1 193.5px,#a30071 194.5px,#a3003f 258.5px)"></i><i style="top:109px;left:0;width:312px;height:1px;background:linear-gradient(90deg,#004eae 28.5px,#0048b0 58.5px,#0069ff 59.5px,#0358ff 80.5px,#6840ff 107.5px,#ff04fb 158.5px,#ff00b6 191.5px,#a30074 192.5px,#a30040 257.5px)"></i><i style="top:110px;left:0;width:312px;height:1px;background:linear-gradient(90deg,#004daf 28.5px,#0047b0 58.5px,#0067ff 59.5px,#0257ff 80.5px,#6440ff 106.5px,#ff00fb 159.5px,#ff00ba 190.5px,#a30076 191.5px,#a30041 257.5px)"></i><i style="top:111px;left:0;width:312px;height:1px;background:linear-gradient(90deg,#004baf 29.5px,#0046b1 58.5px,#0066ff 59.5px,#0155ff 80.5px,#5c40ff 104.5px,#ff00fb 160.5px,#ff00be 189.5px,#a30078 190.5px,#a30042 256.5px)"></i><i style="top:112px;left:0;width:312px;height:1px;background:linear-gradient(90deg,#004aaf 29.5px,#0044b1 59.5px,#0063ff 60.5px,#0653ff 81.5px,#7736ff 113.5px,#ff00fb 161.5px,#ff00c1 188.5px,#a3007b 189.5px,#a30044 255.5px)"></i><i style="top:113px;left:0;width:312px;height:1px;background:linear-gradient(90deg,#0049b0 30.5px,#0043b1 59.5px,#0062ff 60.5px,#0551ff 81.5px,#7236ff 112.5px,#ff00fe 161.5px,#ff00c7 186.5px,#a3007e 187.5px,#a30045 254.5px)"></i><i style="top:114px;left:0;width:312px;height:1px;background:linear-gradient(90deg,#0048b0 30.5px,#0042b2 59.5px,#0060ff 60.5px,#0450ff 81.5px,#6e35ff 111.5px,#fb00ff 160.5px,#ff00cb 185.5px,#a30081 186.5px,#a30047 253.5px)"></i><i style="top:115px;left:0;width:312px;height:1px;background:linear-gradient(90deg,#0047b0 31.5px,#0041b2 60.5px,#005eff 61.5px,#034eff 81.5px,#6935ff 110.5px,#f500ff 159.5px,#ff00ee 169.5px,#ff00cf 184.5px,#a30083 185.5px,#a30048 252.5px)"></i><i style="top:116px;left:0;width:312px;height:1px;background:linear-gradient(90deg,#0046b1 31.5px,#0040b2 60.5px,#005cff 61.5px,#024dff 81.5px,#6534ff 109.5px,#f000ff 158.5px,#ff00f6 167.5px,#ff00d5 182.5px,#a30087 183.5px,#a3004a 251.5px)"></i><i style="top:117px;left:0;width:312px;height:1px;background:linear-gradient(90deg,#0044b1 32.5px,#003fb3 60.5px,#005bff 61.5px,#014bff 81.5px,#5e35ff 107.5px,#eb00ff 157.5px,#ff00f8 167.5px,#ff00d9 181.5px,#a30089 182.5px,#a3004b 250.5px)"></i><i style="top:118px;left:0;width:312px;height:1px;background:linear-gradient(90deg,#0043b1 32.5px,#003eb3 60.5px,#0059ff 61.5px,#0649ff 82.5px,#772bff 116.5px,#e600ff 156.5px,#ff00f8 168.5px,#ff00dd 180.5px,#a3008c 181.5px,#a3004d 249.5px)"></i><i style="top:119px;left:0;width:312px;height:1px;background:linear-gradient(90deg,#0042b2 33.5px,#003db3 61.5px,#0057ff 62.5px,#0548ff 82.5px,#732bff 115.5px,#e100ff 155.5px,#ff00f8 169.5px,#ff00e1 179.5px,#a3008f 180.5px,#a3004f 248.5px)"></i><i style="top:120px;left:0;width:312px;height:1px;background:linear-gradient(90deg,#0041b2 33.5px,#003cb4 61.5px,#0056ff 62.5px,#0446ff 82.5px,#6e2aff 114.5px,#de00ff 155.5px,#ff00f8 170.5px,#ff00e8 177.5px,#a30093 178.5px,#a30050 247.5px)"></i><i style="top:121px;left:0;width:312px;height:1px;background:linear-gradient(90deg,#0040b2 34.5px,#003bb4 61.5px,#0054ff 62.5px,#0345ff 82.5px,#6a2aff 113.5px,#d900ff 154.5px,#ff00f8 171.5px,#ff00ec 176.5px,#a30096 177.5px,#a30052 246.5px)"></i><i style="top:122px;left:0;width:312px;height:1px;background:linear-gradient(90deg,#003fb3 34.5px,#003ab4 62.5px,#0052ff 63.5px,#0243ff 82.5px,#662aff 112.5px,#d500ff 153.5px,#ff00f8 172.5px,#ff00f1 175.5px,#a30099 176.5px,#a30054 245.5px)"></i><i style="top:123px;left:0;width:312px;height:1px;background:linear-gradient(90deg,#003eb3 35.5px,#0039b5 62.5px,#0051ff 63.5px,#0142ff 82.5px,#5f2aff 110.5px,#d000ff 152.5px,#ff00f8 173.5px,#a3009d 174.5px,#a30055 244.5px)"></i><i style="top:124px;left:0;width:312px;height:1px;background:linear-gradient(90deg,#003db4 35.5px,#0038b5 62.5px,#004fff 63.5px,#0640ff 83.5px,#7720ff 119.5px,#cb00ff 151.5px,#ff00fd 172.5px,#a300a0 173.5px,#a30057 243.5px)"></i><i style="top:125px;left:0;width:312px;height:1px;background:linear-gradient(90deg,#003bb4 36.5px,#0037b6 62.5px,#004eff 63.5px,#053fff 83.5px,#7320ff 118.5px,#c900ff 151.5px,#fc00ff 171.5px,#a300a3 172.5px,#a30059 242.5px)"></i><i style="top:126px;left:0;width:312px;height:1px;background:linear-gradient(90deg,#003ab4 37.5px,#0036b6 63.5px,#004cff 64.5px,#043dff 83.5px,#6f20ff 117.5px,#c500ff 150.5px,#f700ff 170.5px,#9f00a3 171.5px,#a3005b 241.5px)"></i><i style="top:127px;left:0;width:312px;height:1px;background:linear-gradient(90deg,#0039b5 37.5px,#0035b6 63.5px,#004bff 64.5px,#033cff 83.5px,#6b20ff 116.5px,#c000ff 149.5px,#f000ff 168.5px,#9b00a3 169.5px,#a3008f 190.5px,#a3005d 240.5px)"></i><i style="top:128px;left:0;width:312px;height:1px;background:linear-gradient(90deg,#0038b5 38.5px,#0034b7 63.5px,#0049ff 64.5px,#033bff 83.5px,#671fff 115.5px,#bc00ff 148.5px,#eb00ff 167.5px,#9800a3 168.5px,#a30097 185.5px,#a3005e 239.5px)"></i><i style="top:129px;left:0;width:312px;height:1px;background:linear-gradient(90deg,#0037b5 38.5px,#0033b7 64.5px,#0047ff 65.5px,#023aff 83.5px,#6020ff 113.5px,#b700ff 147.5px,#e600ff 166.5px,#9500a3 167.5px,#a30099 185.5px,#a3005f 239.5px)"></i><i style="top:130px;left:0;width:312px;height:1px;background:linear-gradient(90deg,#0036b6 39.5px,#0032b7 64.5px,#0046ff 65.5px,#0638ff 84.5px,#7716ff 122.5px,#b300ff 146.5px,#df00ff 164.5px,#9000a3 165.5px,#a3009a 185.5px,#a30061 238.5px)"></i><i style="top:131px;left:0;width:312px;height:1px;background:linear-gradient(90deg,#0035b6 39.5px,#0032b8 64.5px,#0045ff 65.5px,#0537ff 84.5px,#7316ff 121.5px,#af00ff 145.5px,#db00ff 163.5px,#8d00a3 164.5px,#a3009c 185.5px,#a30063 237.5px)"></i><i style="top:132px;left:0;width:312px;height:1px;background:linear-gradient(90deg,#0034b7 40.5px,#0031b8 64.5px,#0044ff 65.5px,#0435ff 84.5px,#6f16ff 120.5px,#ab00ff 144.5px,#d600ff 162.5px,#8b00a3 163.5px,#a3009c 186.5px,#a30065 236.5px)"></i><i style="top:133px;left:0;width:312px;height:1px;background:linear-gradient(90deg,#0033b7 41.5px,#0030b9 65.5px,#0042ff 66.5px,#0434ff 84.5px,#6c16ff 119.5px,#a700ff 143.5px,#d200ff 161.5px,#8800a3 162.5px,#a3009d 187.5px,#a30067 235.5px)"></i><i style="top:134px;left:0;width:312px;height:1px;background:linear-gradient(90deg,#0032b7 41.5px,#002fb9 65.5px,#0041ff 66.5px,#0333ff 84.5px,#6816ff 118.5px,#a300ff 142.5px,#cb00ff 159.5px,#8400a3 160.5px,#a3009d 188.5px,#a30069 234.5px)"></i><i style="top:135px;left:0;width:312px;height:1px;background:linear-gradient(90deg,#0031b8 42.5px,#002eb9 65.5px,#003fff 66.5px,#0731ff 85.5px,#7b0cff 126.5px,#a400ff 143.5px,#c700ff 158.5px,#8100a3 159.5px,#a3009c 190.5px,#a3006b 233.5px)"></i><i style="top:136px;left:0;width:312px;height:1px;background:linear-gradient(90deg,#0031b8 42.5px,#002dba 66.5px,#003dff 67.5px,#0630ff 85.5px,#770cff 125.5px,#a000ff 142.5px,#c300ff 157.5px,#7e00a3 158.5px,#a3009c 191.5px,#a3006d 232.5px)"></i><i style="top:137px;left:0;width:312px;height:1px;background:linear-gradient(90deg,#0030b9 43.5px,#002cba 66.5px,#003cff 67.5px,#052fff 85.5px,#730cff 124.5px,#9c00ff 141.5px,#bd00ff 155.5px,#7a00a3 156.5px,#a3009d 192.5px,#a30070 231.5px)"></i><i style="top:138px;left:0;width:312px;height:1px;background:linear-gradient(90deg,#002fb9 43.5px,#002bba 66.5px,#003bff 67.5px,#042eff 85.5px,#700cff 123.5px,#9800ff 140.5px,#b900ff 154.5px,#7800a3 155.5px,#a3009d 193.5px,#a30072 230.5px)"></i><i style="top:139px;left:0;width:312px;height:1px;background:linear-gradient(90deg,#002eb9 44.5px,#002bbb 66.5px,#003aff 67.5px,#042dff 85.5px,#6c0cff 122.5px,#9400ff 139.5px,#b500ff 153.5px,#7500a3 154.5px,#a3009d 194.5px,#a30074 229.5px)"></i><i style="top:140px;left:0;width:312px;height:1px;background:linear-gradient(90deg,#002dba 45.5px,#002abb 67.5px,#0038ff 68.5px,#032cff 85.5px,#690cff 121.5px,#9300ff 139.5px,#b100ff 152.5px,#7200a3 153.5px,#a3009e 195.5px,#a30076 228.5px)"></i><i style="top:141px;left:0;width:312px;height:1px;background:linear-gradient(90deg,#002cba 45.5px,#0029bc 67.5px,#0037ff 68.5px,#072aff 86.5px,#7a00ff 129.5px,#ab00ff 150.5px,#6f00a3 151.5px,#a3009c 197.5px,#a30079 227.5px)"></i><i style="top:142px;left:0;width:312px;height:1px;background:linear-gradient(90deg,#002bbb 46.5px,#0028bc 67.5px,#0036ff 68.5px,#0629ff 86.5px,#7700ff 128.5px,#a700ff 149.5px,#6c00a3 150.5px,#a3009d 198.5px,#a3007b 226.5px)"></i><i style="top:143px;left:0;width:312px;height:1px;background:linear-gradient(90deg,#002abb 46.5px,#0027bc 68.5px,#0034ff 69.5px,#0528ff 86.5px,#7300ff 127.5px,#a300ff 148.5px,#6a00a3 149.5px,#a3009d 199.5px,#a3007d 225.5px)"></i><i style="top:144px;left:0;width:312px;height:1px;background:linear-gradient(90deg,#0029bb 47.5px,#0026bd 68.5px,#0033ff 69.5px,#0527ff 86.5px,#7000ff 126.5px,#9d00ff 146.5px,#6600a3 147.5px,#a3009e 200.5px,#a30080 224.5px)"></i><i style="top:145px;left:0;width:312px;height:1px;background:linear-gradient(90deg,#0028bc 48.5px,#0025bd 68.5px,#0032ff 69.5px,#0426ff 86.5px,#6d01ff 125.5px,#9a00ff 145.5px,#6400a3 146.5px,#a3009e 201.5px,#a30082 223.5px)"></i><i style="top:146px;left:0;width:312px;height:1px;background:linear-gradient(90deg,#0027bc 48.5px,#0025bd 68.5px,#0031ff 69.5px,#0325ff 86.5px,#6901ff 124.5px,#9600ff 144.5px,#6100a3 145.5px,#a3009d 203.5px,#a30085 222.5px)"></i><i style="top:147px;left:0;width:312px;height:1px;background:linear-gradient(90deg,#0027bd 49.5px,#0024be 69.5px,#0030ff 70.5px,#0723ff 87.5px,#7800ff 131.5px,#9300ff 143.5px,#5f00a3 144.5px,#a3009d 204.5px,#a30086 222.5px)"></i><i style="top:148px;left:0;width:312px;height:1px;background:linear-gradient(90deg,#0026bd 49.5px,#0023be 69.5px,#002fff 70.5px,#0622ff 87.5px,#7500ff 130.5px,#8d00ff 141.5px,#5c00a3 142.5px,#a3009d 205.5px,#a30089 221.5px)"></i><i style="top:149px;left:0;width:312px;height:1px;background:linear-gradient(90deg,#0025bd 50.5px,#0022bf 69.5px,#002eff 70.5px,#0521ff 87.5px,#7100ff 129.5px,#8a00ff 140.5px,#5900a3 141.5px,#a3009e 206.5px,#a3008c 220.5px)"></i><i style="top:150px;left:0;width:312px;height:1px;background:linear-gradient(90deg,#0024be 51.5px,#0021bf 70.5px,#002cff 71.5px,#0520ff 87.5px,#6e00ff 128.5px,#8600ff 139.5px,#5700a3 140.5px,#a3009d 208.5px,#a3008e 219.5px)"></i><i style="top:151px;left:0;width:312px;height:1px;background:linear-gradient(90deg,#0023be 51.5px,#0021c0 70.5px,#002bff 71.5px,#041fff 87.5px,#6b00ff 127.5px,#8100ff 137.5px,#5400a3 138.5px,#a3009d 209.5px,#a30091 218.5px)"></i><i style="top:152px;left:0;width:312px;height:1px;background:linear-gradient(90deg,#0022bf 52.5px,#0020c0 70.5px,#002aff 71.5px,#031eff 87.5px,#6800ff 126.5px,#7d00ff 136.5px,#5200a3 137.5px,#a3009d 210.5px,#a30094 217.5px)"></i><i style="top:153px;left:0;width:312px;height:1px;background:linear-gradient(90deg,#0022bf 52.5px,#001fc0 70.5px,#0029ff 71.5px,#071dff 88.5px,#6500ff 125.5px,#7a00ff 135.5px,#4f00a3 136.5px,#a3009e 211.5px,#a30097 216.5px)"></i><i style="top:154px;left:0;width:312px;height:1px;background:linear-gradient(90deg,#0021c0 53.5px,#001ec1 71.5px,#0028ff 72.5px,#061cff 88.5px,#6400ff 125.5px,#7700ff 134.5px,#4d00a3 135.5px,#a3009e 212.5px,#a3009a 215.5px)"></i><i style="top:155px;left:0;width:312px;height:1px;background:linear-gradient(90deg,#0020c0 54.5px,#001dc1 71.5px,#0027ff 72.5px,#051bff 88.5px,#6000ff 124.5px,#7200ff 132.5px,#4a00a3 133.5px,#a3009d 214.5px)"></i><i style="top:156px;left:0;width:312px;height:1px;background:linear-gradient(90deg,#001fc0 54.5px,#001dc2 71.5px,#0026ff 72.5px,#051aff 88.5px,#5d00ff 123.5px,#6f00ff 131.5px,#4800a3 132.5px,#a300a0 213.5px)"></i><i style="top:157px;left:0;width:312px;height:1px;background:linear-gradient(90deg,#001ec1 55.5px,#001cc2 72.5px,#0024ff 73.5px,#0419ff 88.5px,#5a00ff 122.5px,#6b00ff 130.5px,#4600a3 131.5px,#a300a3 212.5px)"></i><i style="top:158px;left:0;width:312px;height:1px;background:linear-gradient(90deg,#001dc1 56.5px,#001bc2 72.5px,#0023ff 73.5px,#0318ff 88.5px,#5700ff 121.5px,#6600ff 128.5px,#4300a3 129.5px,#a000a3 211.5px)"></i><i style="top:159px;left:0;width:312px;height:1px;background:linear-gradient(90deg,#001dc2 56.5px,#001ac3 72.5px,#0022ff 73.5px,#0716ff 89.5px,#5400ff 120.5px,#6300ff 127.5px,#4100a3 128.5px,#9d00a3 210.5px)"></i><i style="top:160px;left:0;width:312px;height:1px;background:linear-gradient(90deg,#001cc2 57.5px,#001ac3 72.5px,#0021ff 73.5px,#0615ff 89.5px,#5100ff 119.5px,#6000ff 126.5px,#3f00a3 127.5px,#9900a3 209.5px)"></i><i style="top:161px;left:0;width:312px;height:1px;background:linear-gradient(90deg,#001bc3 57.5px,#0019c4 73.5px,#0020ff 74.5px,#0515ff 89.5px,#4e00ff 118.5px,#5d00ff 125.5px,#3d00a3 126.5px,#9600a3 208.5px)"></i><i style="top:162px;left:0;width:312px;height:1px;background:linear-gradient(90deg,#001ac3 58.5px,#0018c4 73.5px,#001fff 74.5px,#0514ff 89.5px,#4b00ff 117.5px,#5800ff 123.5px,#3a00a3 124.5px,#9300a3 207.5px)"></i><i style="top:163px;left:0;width:312px;height:1px;background:linear-gradient(90deg,#0019c4 59.5px,#0017c5 73.5px,#001eff 74.5px,#0413ff 89.5px,#4b00ff 117.5px,#5500ff 122.5px,#3800a3 123.5px,#9000a3 206.5px)"></i><i style="top:164px;left:0;width:312px;height:1px;background:linear-gradient(90deg,#0018c4 59.5px,#0017c5 74.5px,#001dff 75.5px,#0312ff 89.5px,#4800ff 116.5px,#5200ff 121.5px,#3600a3 122.5px,#8d00a3 205.5px)"></i><i style="top:165px;left:0;width:312px;height:1px;background:linear-gradient(90deg,#0018c4 60.5px,#0016c5 74.5px,#001cff 75.5px,#0710ff 90.5px,#4700ff 116.5px,#4d00ff 119.5px,#3300a3 120.5px,#8a00a3 204.5px)"></i><i style="top:166px;left:0;width:312px;height:1px;background:linear-gradient(90deg,#0017c5 61.5px,#0015c6 74.5px,#001bff 75.5px,#060fff 90.5px,#4400ff 115.5px,#4a00ff 118.5px,#3100a3 119.5px,#8900a3 204.5px)"></i><i style="top:167px;left:0;width:312px;height:1px;background:linear-gradient(90deg,#0016c5 61.5px,#0014c6 74.5px,#001aff 75.5px,#050fff 90.5px,#4300ff 115.5px,#4800ff 117.5px,#2f00a3 118.5px,#8600a3 203.5px)"></i><i style="top:168px;left:0;width:312px;height:1px;background:linear-gradient(90deg,#0015c6 62.5px,#0013c7 75.5px,#0018ff 76.5px,#050eff 90.5px,#4300ff 115.5px,#4500ff 116.5px,#2d00a3 117.5px,#8300a3 202.5px)"></i><i style="top:169px;left:0;width:312px;height:1px;background:linear-gradient(90deg,#0014c6 63.5px,#0013c7 75.5px,#0018ff 76.5px,#040dff 90.5px,#4000ff 114.5px,#2a00a3 115.5px,#8000a3 201.5px)"></i><i style="top:170px;left:0;width:312px;height:1px;background:linear-gradient(90deg,#0014c7 63.5px,#0012c8 75.5px,#0017ff 76.5px,#030cff 90.5px,#3d00ff 113.5px,#2800a3 114.5px,#7e00a3 200.5px)"></i><i style="top:171px;left:0;width:312px;height:1px;background:linear-gradient(90deg,#0013c7 64.5px,#0011c8 76.5px,#0015ff 77.5px,#060aff 91.5px,#3a00ff 112.5px,#2600a3 113.5px,#7b00a3 199.5px)"></i><i style="top:172px;left:0;width:312px;height:1px;background:linear-gradient(90deg,#0012c8 65.5px,#0010c9 76.5px,#0014ff 77.5px,#0609ff 91.5px,#3500ff 110.5px,#2300a3 111.5px,#7800a3 198.5px)"></i><i style="top:173px;left:0;width:312px;height:1px;background:linear-gradient(90deg,#0011c8 66.5px,#0010c9 76.5px,#0014ff 77.5px,#0508ff 91.5px,#3200ff 109.5px,#2100a3 110.5px,#7600a3 197.5px)"></i><i style="top:174px;left:0;width:312px;height:1px;background:linear-gradient(90deg,#0010c9 66.5px,#000fca 76.5px,#0013ff 77.5px,#0507ff 91.5px,#3000ff 108.5px,#2000a3 109.5px,#7300a3 196.5px)"></i><i style="top:175px;left:0;width:312px;height:1px;background:linear-gradient(90deg,#000fc9 67.5px,#000eca 77.5px,#0011ff 78.5px,#0406ff 91.5px,#2d00ff 107.5px,#1e00a3 108.5px,#7100a3 195.5px)"></i><i style="top:176px;left:0;width:312px;height:1px;background:linear-gradient(90deg,#000fca 68.5px,#000dcb 77.5px,#0010ff 78.5px,#0406ff 91.5px,#2800ff 105.5px,#1b00a3 106.5px,#6e00a3 194.5px)"></i><i style="top:177px;left:0;width:312px;height:1px;background:linear-gradient(90deg,#000eca 68.5px,#000dcb 77.5px,#0010ff 78.5px,#0603ff 92.5px,#2500ff 104.5px,#1900a3 105.5px,#6c00a3 193.5px)"></i><i style="top:178px;left:0;width:312px;height:1px;background:linear-gradient(90deg,#000dcb 69.5px,#000ccc 78.5px,#000eff 79.5px,#0602ff 92.5px,#2200ff 103.5px,#1700a3 104.5px,#6900a3 192.5px)"></i><i style="top:179px;left:0;width:312px;height:1px;background:linear-gradient(90deg,#000ccb 70.5px,#000bcc 78.5px,#000dff 79.5px,#0501ff 92.5px,#1d00ff 101.5px,#1400a3 102.5px,#6700a3 191.5px)"></i><i style="top:180px;left:0;width:312px;height:1px;background:linear-gradient(90deg,#000bcc 71.5px,#000acd 78.5px,#000cff 79.5px,#0500ff 92.5px,#1a00ff 100.5px,#1200a3 101.5px,#6400a3 190.5px)"></i><i style="top:181px;left:0;width:312px;height:1px;background:linear-gradient(90deg,#000acc 71.5px,#0009cd 78.5px,#000cff 79.5px,#0400ff 92.5px,#1700ff 99.5px,#1000a3 100.5px,#6200a3 189.5px)"></i><i style="top:182px;left:0;width:312px;height:1px;background:linear-gradient(90deg,#000acd 72.5px,#0009ce 79.5px,#000aff 80.5px,#0700ff 93.5px,#1400ff 98.5px,#0e00a3 99.5px,#5f00a3 188.5px)"></i><i style="top:183px;left:0;width:312px;height:1px;background:linear-gradient(90deg,#0009ce 73.5px,#0008ce 79.5px,#0009ff 80.5px,#0600ff 93.5px,#0f00ff 96.5px,#0b00a3 97.5px,#5d00a3 187.5px)"></i><i style="top:184px;left:0;width:312px;height:1px;background:linear-gradient(90deg,#0008ce 73.5px,#0007cf 79.5px,#0008ff 80.5px,#0600ff 93.5px,#0c00ff 95.5px,#0900a3 96.5px,#5b00a3 186.5px)"></i><i style="top:185px;left:0;width:312px;height:1px;background:linear-gradient(90deg,#0007cf 74.5px,#0006cf 80.5px,#0007ff 81.5px,#0500ff 93.5px,#0800ff 94.5px,#0700a3 95.5px,#5a00a3 186.5px)"></i><i style="top:186px;left:0;width:312px;height:1px;background:linear-gradient(90deg,#0006d0 75.5px,#0005d0 80.5px,#0006ff 81.5px,#0100ff 92.5px,#0300a3 93.5px,#5700a3 185.5px)"></i><i style="top:187px;left:0;width:312px;height:1px;background:linear-gradient(90deg,#0005d0 76.5px,#0004d1 80.5px,#0005ff 81.5px,#0000ff 91.5px,#0000a3 92.5px,#5500a3 184.5px)"></i><i style="top:188px;left:0;width:312px;height:1px;background:linear-gradient(90deg,#0004d1 77.5px,#0003d1 80.5px,#0004ff 81.5px,#0000ff 90.5px,#0000a3 91.5px,#5300a3 183.5px)"></i><i style="top:189px;left:0;width:312px;height:1px;background:linear-gradient(90deg,#0003d2 77.5px,#0002d2 81.5px,#0002ff 82.5px,#0000ff 89.5px,#0000a3 90.5px,#5100a3 182.5px)"></i><i style="top:190px;left:0;width:312px;height:1px;background:linear-gradient(90deg,#0002d2 78.5px,#0001d3 81.5px,#0000ff 82.5px,#0000ff 87.5px,#0000a3 88.5px,#2000a3 129.5px,#4e00a3 181.5px)"></i><i style="top:191px;left:0;width:312px;height:1px;background:linear-gradient(90deg,#0000d3 79.5px,#0000d4 81.5px,#0000ff 82.5px,#0000ff 86.5px,#0000a3 87.5px,#0d00a3 109.5px,#4c00a3 180.5px)"></i><i style="top:192px;left:0;width:312px;height:1px;background:linear-gradient(90deg,#0000d4 80.5px,#0000d4 82.5px,#0000ff 83.5px,#0000ff 85.5px,#0000a3 86.5px,#0b00a3 108.5px,#4a00a3 179.5px)"></i><i style="top:193px;left:0;width:312px;height:1px;background:linear-gradient(90deg,#0000d4 81.5px,#0000d4 82.5px,#0000ff 83.5px,#0000a3 84.5px,#0900a3 107.5px,#4800a3 178.5px)"></i><i style="top:194px;left:0;width:312px;height:1px;background:linear-gradient(90deg,#0000d4 81.5px,#0000d4 82.5px,#0000a3 83.5px,#0800a3 108.5px,#4600a3 177.5px)"></i><i style="top:195px;left:0;width:312px;height:1px;background:linear-gradient(90deg,#0000a3 82.5px,#0700a3 108.5px,#4400a3 176.5px)"></i><i style="top:196px;left:0;width:312px;height:1px;background:linear-gradient(90deg,#0000a3 83.5px,#0800a3 110.5px,#4200a3 175.5px)"></i><i style="top:197px;left:0;width:312px;height:1px;background:linear-gradient(90deg,#0000a3 84.5px,#0800a3 111.5px,#4000a3 174.5px)"></i><i style="top:198px;left:0;width:312px;height:1px;background:linear-gradient(90deg,#0000a3 85.5px,#0700a3 112.5px,#3d00a3 173.5px)"></i><i style="top:199px;left:0;width:312px;height:1px;background:linear-gradient(90deg,#0000a3 86.5px,#0700a3 113.5px,#3b00a3 172.5px)"></i><i style="top:200px;left:0;width:312px;height:1px;background:linear-gradient(90deg,#0000a3 86.5px,#0700a3 114.5px,#3900a3 171.5px)"></i><i style="top:201px;left:0;width:312px;height:1px;background:linear-gradient(90deg,#0000a3 87.5px,#0800a3 116.5px,#3700a3 170.5px)"></i><i style="top:202px;left:0;width:312px;height:1px;background:linear-gradient(90deg,#0000a3 88.5px,#0700a3 117.5px,#3500a3 169.5px)"></i><i style="top:203px;left:0;width:312px;height:1px;background:linear-gradient(90deg,#0000a3 89.5px,#0700a3 118.5px,#3300a3 168.5px)"></i><i style="top:204px;left:0;width:312px;height:1px;background:linear-gradient(90deg,#0000a3 90.5px,#0700a3 119.5px,#3200a3 168.5px)"></i><i style="top:205px;left:0;width:312px;height:1px;background:linear-gradient(90deg,#0000a3 91.5px,#0800a3 121.5px,#3000a3 167.5px)"></i><i style="top:206px;left:0;width:312px;height:1px;background:linear-gradient(90deg,#0000a3 92.5px,#0700a3 122.5px,#2e00a3 166.5px)"></i><i style="top:207px;left:0;width:312px;height:1px;background:linear-gradient(90deg,#0000a3 93.5px,#0700a3 123.5px,#2c00a3 165.5px)"></i><i style="top:208px;left:0;width:312px;height:1px;background:linear-gradient(90deg,#0000a3 94.5px,#0700a3 124.5px,#2a00a3 164.5px)"></i><i style="top:209px;left:0;width:312px;height:1px;background:linear-gradient(90deg,#0000a3 95.5px,#0700a3 125.5px,#2900a3 163.5px)"></i><i style="top:210px;left:0;width:312px;height:1px;background:linear-gradient(90deg,#0000a3 96.5px,#0800a3 127.5px,#2700a3 162.5px)"></i><i style="top:211px;left:0;width:312px;height:1px;background:linear-gradient(90deg,#0000a3 97.5px,#0700a3 128.5px,#2500a3 161.5px)"></i><i style="top:212px;left:0;width:312px;height:1px;background:linear-gradient(90deg,#0000a3 98.5px,#0700a3 129.5px,#2300a3 160.5px)"></i><i style="top:213px;left:0;width:312px;height:1px;background:linear-gradient(90deg,#0000a3 99.5px,#0700a3 130.5px,#2100a3 159.5px)"></i><i style="top:214px;left:0;width:312px;height:1px;background:linear-gradient(90deg,#0000a3 100.5px,#0800a3 132.5px,#1f00a3 158.5px)"></i><i style="top:215px;left:0;width:312px;height:1px;background:linear-gradient(90deg,#0000a3 101.5px,#0700a3 133.5px,#1d00a3 157.5px)"></i><i style="top:216px;left:0;width:312px;height:1px;background:linear-gradient(90deg,#0000a3 102.5px,#0700a3 134.5px,#1b00a3 156.5px)"></i><i style="top:217px;left:0;width:312px;height:1px;background:linear-gradient(90deg,#0000a3 104.5px,#0700a3 135.5px,#1900a3 155.5px)"></i><i style="top:218px;left:0;width:312px;height:1px;background:linear-gradient(90deg,#0000a3 105.5px,#0800a3 137.5px,#1700a3 154.5px)"></i><i style="top:219px;left:0;width:312px;height:1px;background:linear-gradient(90deg,#0000a3 106.5px,#0700a3 138.5px,#1500a3 153.5px)"></i><i style="top:220px;left:0;width:312px;height:1px;background:linear-gradient(90deg,#0000a3 107.5px,#0700a3 139.5px,#1300a3 152.5px)"></i><i style="top:221px;left:0;width:312px;height:1px;background:linear-gradient(90deg,#0000a3 108.5px,#0700a3 140.5px,#1100a3 151.5px)"></i><i style="top:222px;left:0;width:312px;height:1px;background:linear-gradient(90deg,#0000a3 109.5px,#0800a3 142.5px,#1000a3 151.5px)"></i><i style="top:223px;left:0;width:312px;height:1px;background:linear-gradient(90deg,#0000a3 111.5px,#0700a3 143.5px,#0e00a3 150.5px)"></i><i style="top:224px;left:0;width:312px;height:1px;background:linear-gradient(90deg,#0000a3 112.5px,#0700a3 144.5px,#0c00a3 149.5px)"></i><i style="top:225px;left:0;width:312px;height:1px;background:linear-gradient(90deg,#0000a3 113.5px,#0700a3 145.5px,#0a00a3 148.5px)"></i><i style="top:226px;left:0;width:312px;height:1px;background:linear-gradient(90deg,#0000a3 114.5px,#0800a3 147.5px)"></i><i style="top:227px;left:0;width:312px;height:1px;background:linear-gradient(90deg,#0000a3 115.5px,#0500a3 146.5px)"></i><i style="top:228px;left:0;width:312px;height:1px;background:linear-gradient(90deg,#0000a3 116.5px,#0300a3 145.5px)"></i><i style="top:229px;left:0;width:312px;height:1px;background:linear-gradient(90deg,#0000a3 118.5px,#0000a3 144.5px)"></i><i style="top:230px;left:0;width:312px;height:1px;background:linear-gradient(90deg,#0000a3 119.5px,#0000a3 143.5px)"></i><i style="top:231px;left:0;width:312px;height:1px;background:linear-gradient(90deg,#0000a3 120.5px,#0000a3 142.5px)"></i><i style="top:232px;left:0;width:312px;height:1px;background:linear-gradient(90deg,#0000a3 121.5px,#0000a3 141.5px)"></i><i style="top:233px;left:0;width:312px;height:1px;background:linear-gradient(90deg,#0000a3 122.5px,#0000a3 140.5px)"></i><i style="top:234px;left:0;width:312px;height:1px;background:linear-gradient(90deg,#0000a3 123.5px,#0000a3 139.5px)"></i><i style="top:235px;left:0;width:312px;height:1px;background:linear-gradient(90deg,#0000a3 125.5px,#0000a3 138.5px)"></i><i style="top:236px;left:0;width:312px;height:1px;background:linear-gradient(90deg,#0000a3 126.5px,#0000a3 137.5px)"></i><i style="top:237px;left:0;width:312px;height:1px;background:linear-gradient(90deg,#0000a3 127.5px,#0000a3 136.5px)"></i><i style="top:238px;left:0;width:312px;height:1px;background:linear-gradient(90deg,#0000a3 128.5px,#0000a3 135.5px)"></i></div><div class="bgp" style="left:371.3px;top:297.4px;width:310.7px;height:245.60000000000002px"></div><div class="cie" style="left:371px;top:297px;width:311px;height:246px;clip-path:polygon(133.3px 239.3px,133.3px 239.2px,133.2px 239.2px,133.2px 239.3px,133.1px 239.3px,133.1px 239.3px,133.0px 239.3px,132.9px 239.3px,132.8px 239.3px,132.8px 239.4px,132.7px 239.5px,132.7px 239.5px,132.6px 239.5px,132.4px 239.5px,132.2px 239.5px,132.1px 239.5px,131.9px 239.5px,131.7px 239.5px,131.5px 239.4px,131.3px 239.3px,130.9px 239.1px,130.4px 238.8px,129.9px 238.4px,129.2px 237.9px,128.5px 237.4px,127.7px 236.7px,126.8px 236.0px,125.7px 235.1px,124.6px 234.1px,123.3px 233.0px,121.9px 231.7px,120.3px 230.4px,118.6px 228.9px,116.7px 227.3px,114.5px 225.5px,112.2px 223.5px,109.7px 221.4px,107.0px 219.1px,104.1px 216.5px,100.9px 213.6px,97.5px 210.3px,93.9px 206.7px,89.9px 202.6px,85.5px 197.5px,80.5px 191.4px,74.9px 184.2px,69.0px 176.1px,62.9px 167.2px,56.4px 157.2px,49.8px 146.5px,43.2px 135.1px,36.6px 123.5px,30.3px 111.6px,24.5px 99.8px,19.4px 88.4px,14.9px 77.5px,11.0px 67.3px,7.8px 58.0px,5.3px 49.7px,3.4px 42.4px,2.1px 36.0px,1.3px 30.5px,1.0px 25.8px,1.2px 21.7px,1.7px 18.2px,2.7px 15.2px,4.0px 12.7px,5.7px 10.7px,7.7px 9.1px,9.9px 7.9px,12.3px 7.1px,14.8px 6.5px,17.5px 6.2px,20.4px 6.0px,23.3px 5.9px,26.2px 5.8px,29.2px 5.8px,32.1px 5.9px,35.1px 6.0px,38.2px 6.1px,41.3px 6.3px,44.6px 6.5px,47.9px 6.8px,51.4px 7.1px,54.9px 7.4px,58.7px 7.7px,62.5px 8.1px,66.5px 8.5px,70.7px 9.0px,75.1px 9.5px,79.6px 10.0px,84.3px 10.5px,89.2px 11.1px,94.3px 11.7px,99.7px 12.3px,105.2px 12.9px,111.0px 13.6px,116.9px 14.3px,123.1px 15.1px,129.5px 15.8px,136.1px 16.6px,143.0px 17.4px,150.0px 18.2px,157.2px 19.1px,164.5px 19.9px,171.9px 20.8px,179.5px 21.7px,187.1px 22.6px,194.6px 23.5px,202.0px 24.4px,209.3px 25.2px,216.5px 26.1px,223.6px 26.9px,230.5px 27.7px,237.0px 28.5px,243.2px 29.2px,249.2px 29.9px,254.8px 30.6px,260.1px 31.2px,265.1px 31.8px,269.7px 32.4px,274.0px 32.9px,278.0px 33.3px,281.7px 33.8px,285.2px 34.2px,288.5px 34.6px,291.6px 34.9px,294.5px 35.3px,297.3px 35.6px,299.8px 35.9px,302.2px 36.2px,304.4px 36.5px,306.4px 36.7px,308.2px 36.9px,309.8px 37.1px,311.2px 37.3px,312.6px 37.4px,313.7px 37.6px,314.8px 37.7px,315.8px 37.8px,316.6px 37.9px,317.3px 38.0px,317.9px 38.1px,318.4px 38.1px,318.9px 38.2px,319.4px 38.2px,319.8px 38.3px,320.2px 38.3px,320.6px 38.4px,320.9px 38.4px,321.3px 38.5px,321.7px 38.5px,322.0px 38.5px,322.3px 38.6px,322.5px 38.6px,322.7px 38.6px,322.8px 38.6px,322.9px 38.7px,323.0px 38.7px,323.1px 38.7px,323.1px 38.7px)"><i style="top:6px;left:0;width:311px;height:1px;background:linear-gradient(90deg,#008710 13.5px,#008710 28.5px,#00ff00 29.5px,#00ff00 34.5px,#00a314 35.5px,#00a314 46.5px)"></i><i style="top:7px;left:0;width:311px;height:1px;background:linear-gradient(90deg,#008710 9.5px,#008710 29.5px,#00ff00 30.5px,#00ff00 43.5px,#00a314 44.5px,#00a314 57.5px)"></i><i style="top:8px;left:0;width:311px;height:1px;background:linear-gradient(90deg,#008710 7.5px,#008710 29.5px,#00ff00 30.5px,#00ff00 52.5px,#00a314 53.5px,#07a313 65.5px,#10a312 67.5px)"></i><i style="top:9px;left:0;width:311px;height:1px;background:linear-gradient(90deg,#008710 5.5px,#008710 29.5px,#00ff00 30.5px,#00ff00 61.5px,#00a314 62.5px,#31a30f 76.5px)"></i><i style="top:10px;left:0;width:311px;height:1px;background:linear-gradient(90deg,#008710 4.5px,#008710 29.5px,#00ff00 30.5px,#04ff00 64.5px,#2cff00 70.5px,#20a310 71.5px,#52a30d 85.5px)"></i><i style="top:11px;left:0;width:311px;height:1px;background:linear-gradient(90deg,#008710 3.5px,#008710 30.5px,#00ff00 31.5px,#02ff00 64.5px,#60ff00 79.5px,#41a30e 80.5px,#73a30b 94.5px)"></i><i style="top:12px;left:0;width:311px;height:1px;background:linear-gradient(90deg,#008710 2.5px,#008710 30.5px,#00ff00 31.5px,#00ff00 64.5px,#7bff00 84.5px,#92ff00 88.5px,#61a30c 89.5px,#92a30a 102.5px)"></i><i style="top:13px;left:0;width:311px;height:1px;background:linear-gradient(90deg,#008710 2.5px,#008713 30.5px,#00ff08 31.5px,#00ff00 64.5px,#a9ff00 92.5px,#c7ff00 97.5px,#83a30b 98.5px,#a39f09 107.5px,#a39108 111.5px)"></i><i style="top:14px;left:0;width:311px;height:1px;background:linear-gradient(90deg,#008710 1.5px,#008717 31.5px,#00ff0d 32.5px,#00ff00 64.5px,#fffe00 106.5px,#fff800 107.5px,#a39b09 108.5px,#a37906 119.5px)"></i><i style="top:15px;left:0;width:311px;height:1px;background:linear-gradient(90deg,#008710 1.5px,#008819 31.5px,#00ff13 32.5px,#06ff00 65.5px,#fffe00 106.5px,#ffc800 116.5px,#a37d07 117.5px,#a36405 128.5px)"></i><i style="top:16px;left:0;width:311px;height:1px;background:linear-gradient(90deg,#008710 0.5px,#00881c 31.5px,#00ff18 32.5px,#04ff07 65.5px,#fffd00 106.5px,#ffaf00 122.5px,#ffa500 125.5px,#a36705 126.5px,#a35503 136.5px)"></i><i style="top:17px;left:0;width:311px;height:1px;background:linear-gradient(90deg,#008710 0.5px,#00881e 31.5px,#00ff1d 32.5px,#03ff0e 65.5px,#c2ff00 96.5px,#fffc00 106.5px,#ffaf00 122.5px,#ff8a00 134.5px,#a35604 135.5px,#a34703 145.5px)"></i><i style="top:18px;left:0;width:311px;height:1px;background:linear-gradient(90deg,#008712 0.5px,#008821 32.5px,#00ff22 33.5px,#01ff15 65.5px,#86ff07 86.5px,#fffc00 106.5px,#ffae00 122.5px,#ff7400 143.5px,#a34903 144.5px,#a33d02 153.5px)"></i><i style="top:19px;left:0;width:311px;height:1px;background:linear-gradient(90deg,#008715 0.5px,#008823 32.5px,#00ff27 33.5px,#00ff1b 65.5px,#92ff0e 88.5px,#fffb00 106.5px,#ffad00 122.5px,#ff6700 149.5px,#ff6100 152.5px,#a33d02 153.5px,#a33401 162.5px)"></i><i style="top:20px;left:0;width:311px;height:1px;background:linear-gradient(90deg,#008718 0.5px,#008925 32.5px,#00ff2b 33.5px,#00ff21 65.5px,#fffb09 106.5px,#ffad00 122.5px,#ff6600 149.5px,#ff5200 161.5px,#a33301 162.5px,#a32c01 170.5px)"></i><i style="top:21px;left:0;width:311px;height:1px;background:linear-gradient(90deg,#00881a 0.5px,#008928 33.5px,#00ff30 34.5px,#00ff27 65.5px,#fffa12 106.5px,#ffac03 122.5px,#ff6600 149.5px,#ff4500 170.5px,#a32b01 171.5px,#a32501 179.5px)"></i><i style="top:22px;left:0;width:311px;height:1px;background:linear-gradient(90deg,#00881d 0.5px,#00892a 33.5px,#00ff35 34.5px,#05ff2c 66.5px,#fff91a 106.5px,#ffab0a 122.5px,#ff6500 149.5px,#ff3900 179.5px,#a32401 180.5px,#a31f01 187.5px)"></i><i style="top:23px;left:0;width:311px;height:1px;background:linear-gradient(90deg,#00881f 0.5px,#008a2c 33.5px,#00ff39 34.5px,#03ff32 66.5px,#ffff23 105.5px,#ffae11 121.5px,#ff6800 147.5px,#ff2f00 188.5px,#a31d01 189.5px,#a31900 196.5px)"></i><i style="top:24px;left:0;width:311px;height:1px;background:linear-gradient(90deg,#008821 0.5px,#008a2e 33.5px,#00ff3e 34.5px,#01ff37 66.5px,#97ff31 89.5px,#ffff2b 105.5px,#ffb118 120.5px,#ff6b07 145.5px,#ff2a00 192.5px,#ff2500 197.5px,#a31700 198.5px,#a31300 204.5px)"></i><i style="top:25px;left:0;width:311px;height:1px;background:linear-gradient(90deg,#008924 0.5px,#008a31 34.5px,#00ff42 35.5px,#00ff3d 66.5px,#85ff38 86.5px,#fffe32 105.5px,#ffb11e 120.5px,#ff6b0c 145.5px,#ff2d00 188.5px,#ff1c00 206.5px,#a31200 207.5px,#a30e00 213.5px)"></i><i style="top:26px;left:0;width:311px;height:1px;background:linear-gradient(90deg,#008926 0.5px,#008b33 34.5px,#00ff47 35.5px,#00ff42 66.5px,#fffd39 105.5px,#ffb024 120.5px,#ff6a10 145.5px,#ff2900 192.5px,#ff1400 215.5px,#a30c00 216.5px,#a30a00 221.5px)"></i><i style="top:27px;left:0;width:311px;height:1px;background:linear-gradient(90deg,#008928 0.5px,#008b36 34.5px,#00ff4b 35.5px,#00ff48 66.5px,#fffd40 105.5px,#ffaf29 120.5px,#ff6915 145.5px,#ff2800 192.5px,#ff0c00 224.5px,#a30700 225.5px,#a30500 229.5px)"></i><i style="top:28px;left:0;width:311px;height:1px;background:linear-gradient(90deg,#00892a 0.5px,#008b38 35.5px,#00ff50 36.5px,#06ff4d 67.5px,#fffc47 105.5px,#ffae2f 120.5px,#ff6819 145.5px,#ff2703 192.5px,#ff0400 233.5px,#a30200 234.5px,#a30000 238.5px)"></i><i style="top:29px;left:0;width:311px;height:1px;background:linear-gradient(90deg,#008a2d 0.5px,#008c3b 35.5px,#00ff54 36.5px,#04ff52 67.5px,#fffc4d 105.5px,#ffae34 120.5px,#ff681d 145.5px,#ff2706 192.5px,#ff0000 242.5px,#a30000 243.5px,#a30000 246.5px)"></i><i style="top:30px;left:0;width:311px;height:1px;background:linear-gradient(90deg,#008a2f 0.5px,#008c3d 35.5px,#00ff59 36.5px,#02ff58 67.5px,#fcff55 104.5px,#ffa938 121.5px,#ff631f 147.5px,#ff2208 196.5px,#ff0000 243.5px,#ff0000 251.5px,#a30000 252.5px,#a30000 255.5px)"></i><i style="top:31px;left:0;width:311px;height:1px;background:linear-gradient(90deg,#008a31 0.5px,#008d3f 35.5px,#00ff5d 36.5px,#00ff5d 67.5px,#77ff5d 84.5px,#fffa5b 105.5px,#ffac3e 120.5px,#ff6624 145.5px,#ff250d 192.5px,#ff0000 242.5px,#ff0000 260.5px,#a30000 261.5px,#a30000 263.5px)"></i><i style="top:32px;left:0;width:311px;height:1px;background:linear-gradient(90deg,#008b33 0.5px,#008d42 36.5px,#00ff62 37.5px,#00ff62 67.5px,#beff63 95.5px,#fffa61 105.5px,#ffab43 120.5px,#ff6528 145.5px,#ff250f 192.5px,#ff0000 241.5px,#ff0000 269.5px,#a30000 270.5px,#a30000 272.5px)"></i><i style="top:33px;left:0;width:311px;height:1px;background:linear-gradient(90deg,#008b36 0.5px,#008d45 36.5px,#00ff66 37.5px,#00ff68 67.5px,#fff968 105.5px,#ffaa48 120.5px,#ff652c 145.5px,#ff2412 192.5px,#ff0003 239.5px,#ff0000 278.5px,#a30000 279.5px,#a30000 280.5px)"></i><i style="top:34px;left:0;width:311px;height:1px;background:linear-gradient(90deg,#008b38 0.5px,#008e47 36.5px,#00ff6b 37.5px,#00ff6d 67.5px,#ffff71 104.5px,#ffae4e 119.5px,#ff6831 143.5px,#ff2716 188.5px,#ff0006 238.5px,#ff0000 287.5px,#a30000 288.5px,#a30000 289.5px)"></i><i style="top:35px;left:0;width:311px;height:1px;background:linear-gradient(90deg,#008c3a 0.5px,#008e4a 37.5px,#00ff70 38.5px,#05ff73 68.5px,#ffff78 104.5px,#ffb155 118.5px,#ff6936 142.5px,#ff291a 186.5px,#ff0009 237.5px,#ff0000 286.5px,#a30000 287.5px,#a30000 297.5px)"></i><i style="top:36px;left:0;width:311px;height:1px;background:linear-gradient(90deg,#008c3d 0.5px,#008f4d 37.5px,#00ff74 38.5px,#03ff78 68.5px,#fffe7e 104.5px,#ffb05a 118.5px,#ff6939 142.5px,#ff281d 186.5px,#ff000c 236.5px,#ff0000 285.5px,#a30000 286.5px,#a30000 306.5px)"></i><i style="top:37px;left:0;width:311px;height:1px;background:linear-gradient(90deg,#008d3f 0.5px,#008f4f 37.5px,#00ff79 38.5px,#01ff7d 68.5px,#89ff81 87.5px,#fffd85 104.5px,#ffaf5f 118.5px,#ff683d 142.5px,#ff271f 186.5px,#ff000e 235.5px,#ff0002 284.5px,#a30001 285.5px,#a30000 310.5px)"></i><i style="top:38px;left:0;width:311px;height:1px;background:linear-gradient(90deg,#008d42 1.5px,#008f52 37.5px,#00ff7d 38.5px,#00ff83 68.5px,#96ff88 89.5px,#fffd8b 104.5px,#ffaf64 118.5px,#ff6741 142.5px,#ff2722 186.5px,#ff0010 234.5px,#ff0005 282.5px,#a30003 283.5px,#a30000 310.5px)"></i><i style="top:39px;left:0;width:311px;height:1px;background:linear-gradient(90deg,#008d44 1.5px,#009055 38.5px,#00ff82 39.5px,#00ff88 68.5px,#fffc92 104.5px,#ffae69 118.5px,#ff6644 142.5px,#ff2624 186.5px,#ff0013 233.5px,#ff0007 281.5px,#a30004 282.5px,#a30000 310.5px)"></i><i style="top:40px;left:0;width:311px;height:1px;background:linear-gradient(90deg,#008e47 1.5px,#009057 38.5px,#00ff87 39.5px,#00ff8e 68.5px,#fffb98 104.5px,#ffad6e 118.5px,#ff6648 142.5px,#ff2426 187.5px,#ff0015 232.5px,#ff0009 280.5px,#a30005 281.5px,#a30000 310.5px)"></i><i style="top:41px;left:0;width:311px;height:1px;background:linear-gradient(90deg,#008e49 1.5px,#00915a 38.5px,#00ff8b 39.5px,#05ff93 69.5px,#fffb9f 104.5px,#ffac73 118.5px,#ff674c 141.5px,#ff262a 185.5px,#ff0017 231.5px,#ff000b 279.5px,#a30007 280.5px,#a30000 310.5px)"></i><i style="top:42px;left:0;width:311px;height:1px;background:linear-gradient(90deg,#008e4c 1.5px,#00915d 39.5px,#00ff90 40.5px,#04ff99 69.5px,#fffaa5 104.5px,#ffab78 118.5px,#ff6650 141.5px,#ff252c 185.5px,#ff001a 230.5px,#ff000d 277.5px,#a30008 278.5px,#a30000 310.5px)"></i><i style="top:43px;left:0;width:311px;height:1px;background:linear-gradient(90deg,#008f4e 2.5px,#009260 39.5px,#00ff95 40.5px,#02ff9e 69.5px,#9dffa8 90.5px,#fff9ac 104.5px,#ffab7c 118.5px,#ff6553 141.5px,#ff242f 185.5px,#ff001c 229.5px,#ff000f 276.5px,#a3000a 277.5px,#a30000 310.5px)"></i><i style="top:44px;left:0;width:311px;height:1px;background:linear-gradient(90deg,#008f51 2.5px,#009262 39.5px,#00ff9a 40.5px,#00ffa4 69.5px,#88ffad 87.5px,#feffb7 103.5px,#ffae84 117.5px,#ff6758 140.5px,#ff2632 183.5px,#ff001e 228.5px,#ff0011 275.5px,#a3000b 276.5px,#a30000 310.5px)"></i><i style="top:45px;left:0;width:311px;height:1px;background:linear-gradient(90deg,#009054 2.5px,#009265 39.5px,#00ff9e 40.5px,#00ffaa 69.5px,#ffffbe 103.5px,#ffb28c 116.5px,#ff6b5f 138.5px,#ff2937 179.5px,#ff0021 227.5px,#ff0013 273.5px,#a3000c 274.5px,#a30000 310.5px)"></i><i style="top:46px;left:0;width:311px;height:1px;background:linear-gradient(90deg,#009056 2.5px,#009369 40.5px,#00ffa3 41.5px,#00ffaf 69.5px,#ffffc5 103.5px,#ffb191 116.5px,#ff6a62 138.5px,#ff293a 179.5px,#ff0023 226.5px,#ff0015 272.5px,#a3000d 273.5px,#a30000 310.5px)"></i><i style="top:47px;left:0;width:311px;height:1px;background:linear-gradient(90deg,#009159 3.5px,#00936b 40.5px,#00ffa8 41.5px,#00ffb5 69.5px,#fffecb 103.5px,#ffb096 116.5px,#ff6966 138.5px,#ff283c 179.5px,#ff0025 225.5px,#ff0017 271.5px,#a3000e 272.5px,#a30000 310.5px)"></i><i style="top:48px;left:0;width:311px;height:1px;background:linear-gradient(90deg,#00915c 3.5px,#00946e 40.5px,#00ffad 41.5px,#04ffbb 70.5px,#fffdd2 103.5px,#ffaf9b 116.5px,#ff6869 138.5px,#ff273f 179.5px,#ff0027 224.5px,#ff0019 270.5px,#a30010 271.5px,#a30000 310.5px)"></i><i style="top:49px;left:0;width:311px;height:1px;background:linear-gradient(90deg,#00915f 3.5px,#009472 41.5px,#00ffb2 42.5px,#02ffc1 70.5px,#fffcd9 103.5px,#ffaea0 116.5px,#ff676d 138.5px,#ff2641 179.5px,#ff0029 224.5px,#ff001b 268.5px,#a30011 269.5px,#a30000 310.5px)"></i><i style="top:50px;left:0;width:311px;height:1px;background:linear-gradient(90deg,#009262 4.5px,#009475 41.5px,#00ffb7 42.5px,#00ffc7 70.5px,#78ffd2 85.5px,#fffce0 103.5px,#ffada5 116.5px,#ff6671 138.5px,#ff2643 179.5px,#ff002b 223.5px,#ff001d 267.5px,#a30012 268.5px,#a30000 310.5px)"></i><i style="top:51px;left:0;width:311px;height:1px;background:linear-gradient(90deg,#009265 4.5px,#009578 41.5px,#00ffbc 42.5px,#00ffcd 70.5px,#fbffe9 102.5px,#ffa8a6 117.5px,#ff6171 140.5px,#ff2043 183.5px,#ff002e 222.5px,#ff001f 266.5px,#a30013 267.5px,#a30000 310.5px)"></i><i style="top:52px;left:0;width:311px;height:1px;background:linear-gradient(90deg,#009367 4.5px,#00957b 41.5px,#00ffc1 42.5px,#00ffd3 70.5px,#fffaed 103.5px,#ffacaf 116.5px,#ff6578 138.5px,#ff2448 179.5px,#ff0030 221.5px,#ff0021 264.5px,#a30015 265.5px,#a30000 310.5px)"></i><i style="top:53px;left:0;width:311px;height:1px;background:linear-gradient(90deg,#00936a 4.5px,#00967e 42.5px,#00ffc7 43.5px,#00ffd9 70.5px,#fff9f4 103.5px,#ffabb4 116.5px,#ff647b 138.5px,#ff234b 179.5px,#ff0033 219.5px,#ff0023 263.5px,#a30016 264.5px,#a30000 310.5px)"></i><i style="top:54px;left:0;width:311px;height:1px;background:linear-gradient(90deg,#00936e 5.5px,#009681 42.5px,#00ffcc 43.5px,#05ffdf 71.5px,#fcfeff 102.5px,#ffaab9 116.5px,#ff637f 138.5px,#ff224d 179.5px,#ff0035 218.5px,#ff0025 262.5px,#a30017 263.5px,#a30000 309.5px)"></i><i style="top:55px;left:0;width:311px;height:1px;background:linear-gradient(90deg,#009471 5.5px,#009785 42.5px,#00ffd1 43.5px,#03ffe5 71.5px,#d2fdff 97.5px,#fff0fb 104.5px,#ffa4ba 117.5px,#ff6080 139.5px,#ff1f4e 181.5px,#ff0037 218.5px,#ff0026 261.5px,#a30018 262.5px,#a30000 308.5px)"></i><i style="top:56px;left:0;width:311px;height:1px;background:linear-gradient(90deg,#009473 5.5px,#009788 43.5px,#00ffd6 44.5px,#01ffec 71.5px,#8dfffd 88.5px,#ffe7fb 105.5px,#ff9bb8 119.5px,#ff567d 143.5px,#ff1449 191.5px,#ff0039 218.5px,#ff0029 259.5px,#a3001a 260.5px,#a30002 307.5px)"></i><i style="top:57px;left:0;width:311px;height:1px;background:linear-gradient(90deg,#009577 6.5px,#00978c 43.5px,#00ffdb 44.5px,#00fff2 71.5px,#7cfcff 86.5px,#ffdffb 106.5px,#ff92b5 121.5px,#ff4e79 147.5px,#ff0b45 199.5px,#ff003a 220.5px,#ff002a 258.5px,#a3001b 259.5px,#a30003 306.5px)"></i><i style="top:58px;left:0;width:311px;height:1px;background:linear-gradient(90deg,#00957a 6.5px,#00988f 43.5px,#00ffe1 44.5px,#00fff8 71.5px,#71f7ff 85.5px,#ffd8fb 107.5px,#ff8eb6 122.5px,#ff4b7b 148.5px,#ff0947 200.5px,#ff003a 222.5px,#ff002c 257.5px,#a3001c 258.5px,#a30005 305.5px)"></i><i style="top:59px;left:0;width:311px;height:1px;background:linear-gradient(90deg,#00967d 6.5px,#009892 43.5px,#00ffe6 44.5px,#00fffe 71.5px,#7ceeff 87.5px,#ffd0fb 108.5px,#ff86b4 124.5px,#ff4378 152.5px,#ff0044 207.5px,#ff002f 255.5px,#a3001e 256.5px,#a30006 304.5px)"></i><i style="top:60px;left:0;width:311px;height:1px;background:linear-gradient(90deg,#009681 7.5px,#009996 44.5px,#00ffec 45.5px,#06f9ff 72.5px,#78e8ff 87.5px,#ffc9fb 109.5px,#ff81b5 125.5px,#ff3f78 154.5px,#ff0044 211.5px,#ff0030 254.5px,#a3001f 255.5px,#a30007 303.5px)"></i><i style="top:61px;left:0;width:311px;height:1px;background:linear-gradient(90deg,#009684 7.5px,#00999a 44.5px,#00fff1 45.5px,#00f6ff 69.5px,#04f3ff 72.5px,#6ee3ff 86.5px,#ffc2fb 110.5px,#ff7ab3 127.5px,#ff3976 157.5px,#ff0046 210.5px,#ff0032 253.5px,#a30020 254.5px,#a30008 303.5px)"></i><i style="top:62px;left:0;width:311px;height:1px;background:linear-gradient(90deg,#009787 7.5px,#009a9d 44.5px,#00fff7 45.5px,#00eeff 71.5px,#9dd4ff 94.5px,#ffbbfb 111.5px,#ff76b5 128.5px,#ff3778 158.5px,#ff0049 209.5px,#ff0034 252.5px,#a30021 253.5px,#a30009 302.5px)"></i><i style="top:63px;left:0;width:311px;height:1px;background:linear-gradient(90deg,#00978b 8.5px,#009aa1 45.5px,#00fffd 46.5px,#00e7ff 72.5px,#5cdaff 84.5px,#ffb5fb 112.5px,#ff72b6 129.5px,#ff3579 159.5px,#ff004b 208.5px,#ff0036 250.5px,#a30023 251.5px,#a3000a 301.5px)"></i><i style="top:64px;left:0;width:311px;height:1px;background:linear-gradient(90deg,#00988e 8.5px,#0099a4 45.5px,#00fcff 46.5px,#00e2ff 72.5px,#66d3ff 86.5px,#ffaffb 113.5px,#ff6cb4 131.5px,#ff2e76 163.5px,#ff004d 208.5px,#ff0038 249.5px,#a30024 250.5px,#a3000b 300.5px)"></i><i style="top:65px;left:0;width:311px;height:1px;background:linear-gradient(90deg,#009892 8.5px,#0096a4 45.5px,#00f6ff 46.5px,#00ddff 72.5px,#75caff 89.5px,#ffa9fb 114.5px,#ff68b5 132.5px,#ff2c78 164.5px,#ff0050 207.5px,#ff003a 248.5px,#a30025 249.5px,#a3000c 299.5px)"></i><i style="top:66px;left:0;width:311px;height:1px;background:linear-gradient(90deg,#009996 9.5px,#0094a4 45.5px,#00f1ff 46.5px,#06d7ff 73.5px,#78c4ff 90.5px,#ffa3fb 115.5px,#ff62b3 134.5px,#ff2776 167.5px,#ff0052 206.5px,#ff003d 246.5px,#a30027 247.5px,#a3000d 298.5px)"></i><i style="top:67px;left:0;width:311px;height:1px;background:linear-gradient(90deg,#009999 9.5px,#0090a4 46.5px,#00ecff 47.5px,#04d2ff 73.5px,#6fc1ff 89.5px,#ff9dfb 116.5px,#ff5eb4 135.5px,#ff2476 169.5px,#ff0055 205.5px,#ff003f 245.5px,#a30028 246.5px,#a3000e 297.5px)"></i><i style="top:68px;left:0;width:311px;height:1px;background:linear-gradient(90deg,#00999d 9.5px,#008ea4 46.5px,#00e7ff 47.5px,#02ceff 73.5px,#61bfff 87.5px,#ff98fb 117.5px,#ff5bb5 136.5px,#ff2278 170.5px,#ff0057 205.5px,#ff0041 244.5px,#a30029 245.5px,#a3000f 296.5px)"></i><i style="top:69px;left:0;width:311px;height:1px;background:linear-gradient(90deg,#009aa1 10.5px,#008ba4 46.5px,#00e2ff 47.5px,#00c9ff 73.5px,#59bbff 86.5px,#ff93fb 118.5px,#ff55b3 138.5px,#ff1d76 173.5px,#ff005a 204.5px,#ff0043 243.5px,#a3002a 244.5px,#a30011 295.5px)"></i><i style="top:70px;left:0;width:311px;height:1px;background:linear-gradient(90deg,#009aa4 10.5px,#0089a5 47.5px,#00ddff 48.5px,#00c5ff 73.5px,#62b5ff 88.5px,#ff8dfa 119.5px,#ff52b4 139.5px,#ff1b78 174.5px,#ff005c 203.5px,#ff0045 241.5px,#a3002c 242.5px,#a30012 294.5px)"></i><i style="top:71px;left:0;width:311px;height:1px;background:linear-gradient(90deg,#0096a4 11.5px,#0086a5 47.5px,#00d9ff 48.5px,#00c1ff 73.5px,#6bafff 90.5px,#ff88fa 120.5px,#ff4db3 141.5px,#ff1575 178.5px,#ff005e 203.5px,#ff0047 240.5px,#a3002d 241.5px,#a30013 293.5px)"></i><i style="top:72px;left:0;width:311px;height:1px;background:linear-gradient(90deg,#0094a4 11.5px,#0084a5 47.5px,#00d4ff 48.5px,#06bcff 74.5px,#78a7ff 93.5px,#ff84fa 121.5px,#ff4ab4 142.5px,#ff1376 179.5px,#ff0061 202.5px,#ff0049 239.5px,#a3002e 240.5px,#a30014 292.5px)"></i><i style="top:73px;left:0;width:311px;height:1px;background:linear-gradient(90deg,#0091a4 11.5px,#0082a5 47.5px,#00d0ff 48.5px,#04b8ff 74.5px,#70a5ff 92.5px,#ff7ffa 122.5px,#ff47b4 143.5px,#ff1178 180.5px,#ff0064 201.5px,#ff004c 237.5px,#a30030 238.5px,#a30015 291.5px)"></i><i style="top:74px;left:0;width:311px;height:1px;background:linear-gradient(90deg,#008ea4 12.5px,#007fa6 48.5px,#00cbff 49.5px,#03b4ff 74.5px,#69a2ff 91.5px,#ff7afa 123.5px,#ff42b3 145.5px,#ff0b75 184.5px,#ff0064 203.5px,#ff004e 236.5px,#a30032 237.5px,#a30016 290.5px)"></i><i style="top:75px;left:0;width:311px;height:1px;background:linear-gradient(90deg,#008ca4 12.5px,#007da6 48.5px,#00c8ff 49.5px,#01b0ff 74.5px,#5ca1ff 89.5px,#ff76fa 124.5px,#ff3fb4 146.5px,#ff0977 185.5px,#ff0064 205.5px,#ff0050 235.5px,#a30033 236.5px,#a30017 289.5px)"></i><i style="top:76px;left:0;width:311px;height:1px;background:linear-gradient(90deg,#0089a5 12.5px,#007ba6 48.5px,#00c4ff 49.5px,#00adff 74.5px,#5f9cff 90.5px,#ff71fa 125.5px,#ff3cb5 147.5px,#ff0778 186.5px,#ff0057 226.5px,#ff0052 234.5px,#a30034 235.5px,#a30018 288.5px)"></i><i style="top:77px;left:0;width:311px;height:1px;background:linear-gradient(90deg,#0086a5 13.5px,#0079a6 48.5px,#00c0ff 49.5px,#00a9ff 74.5px,#6797ff 92.5px,#ff6dfa 126.5px,#ff38b3 149.5px,#ff0076 190.5px,#ff0055 232.5px,#a30036 233.5px,#a30019 287.5px)"></i><i style="top:78px;left:0;width:311px;height:1px;background:linear-gradient(90deg,#0084a5 13.5px,#0077a6 49.5px,#00bcff 50.5px,#06a5ff 75.5px,#788fff 96.5px,#ff69fa 127.5px,#ff35b4 150.5px,#ff0077 191.5px,#ff0057 231.5px,#a30037 232.5px,#a3001a 286.5px)"></i><i style="top:79px;left:0;width:311px;height:1px;background:linear-gradient(90deg,#0081a5 14.5px,#0075a7 49.5px,#00b9ff 50.5px,#05a1ff 75.5px,#718dff 95.5px,#ff65fa 128.5px,#ff31b3 152.5px,#ff0077 193.5px,#ff0059 230.5px,#a30039 231.5px,#a3001b 285.5px)"></i><i style="top:80px;left:0;width:311px;height:1px;background:linear-gradient(90deg,#007fa6 14.5px,#0073a7 49.5px,#00b5ff 50.5px,#039eff 75.5px,#6a8bff 94.5px,#ff61fa 129.5px,#ff2eb3 153.5px,#ff007a 192.5px,#ff005c 228.5px,#a3003b 229.5px,#a3001c 285.5px)"></i><i style="top:81px;left:0;width:311px;height:1px;background:linear-gradient(90deg,#007da6 14.5px,#0071a7 50.5px,#00b1ff 51.5px,#019bff 75.5px,#5f8aff 92.5px,#ff5dfa 130.5px,#ff2cb4 154.5px,#ff007d 191.5px,#ff005f 227.5px,#a3003c 228.5px,#a3001d 284.5px)"></i><i style="top:82px;left:0;width:311px;height:1px;background:linear-gradient(90deg,#007ba6 15.5px,#006fa8 50.5px,#00aeff 51.5px,#0098ff 75.5px,#5888ff 91.5px,#ff59fa 131.5px,#ff28b3 156.5px,#ff0080 190.5px,#ff0061 226.5px,#a3003d 227.5px,#a3001e 283.5px)"></i><i style="top:83px;left:0;width:311px;height:1px;background:linear-gradient(90deg,#0079a6 15.5px,#006da8 50.5px,#00abff 51.5px,#0095ff 75.5px,#6482ff 94.5px,#ff56fa 132.5px,#ff25b4 157.5px,#ff0083 189.5px,#ff0063 225.5px,#a3003f 226.5px,#a3001f 282.5px)"></i><i style="top:84px;left:0;width:311px;height:1px;background:linear-gradient(90deg,#0076a7 16.5px,#006ca8 50.5px,#00a8ff 51.5px,#0691ff 76.5px,#787bff 99.5px,#ff52fa 133.5px,#ff23b4 158.5px,#ff0086 188.5px,#ff0066 223.5px,#a30041 224.5px,#a30021 281.5px)"></i><i style="top:85px;left:0;width:311px;height:1px;background:linear-gradient(90deg,#0075a7 16.5px,#006aa8 51.5px,#00a4ff 52.5px,#058fff 76.5px,#7279ff 98.5px,#ff4efa 134.5px,#ff1fb3 160.5px,#ff008a 187.5px,#ff0069 222.5px,#a30042 223.5px,#a30022 280.5px)"></i><i style="top:86px;left:0;width:311px;height:1px;background:linear-gradient(90deg,#0072a7 17.5px,#0068a9 51.5px,#00a1ff 52.5px,#038cff 76.5px,#6b77ff 97.5px,#ff4bfa 135.5px,#ff1cb4 161.5px,#ff008d 186.5px,#ff006b 221.5px,#a30044 222.5px,#a30023 279.5px)"></i><i style="top:87px;left:0;width:311px;height:1px;background:linear-gradient(90deg,#0071a7 17.5px,#0066a9 51.5px,#009eff 52.5px,#0289ff 76.5px,#6177ff 95.5px,#ff47fa 136.5px,#ff18b2 163.5px,#ff008f 186.5px,#ff006e 219.5px,#a30046 220.5px,#a30024 278.5px)"></i><i style="top:88px;left:0;width:311px;height:1px;background:linear-gradient(90deg,#006fa8 17.5px,#0065a9 52.5px,#009bff 53.5px,#0087ff 76.5px,#5776ff 93.5px,#ff44fa 137.5px,#ff16b3 164.5px,#ff0092 185.5px,#ff0071 218.5px,#a30048 219.5px,#a30025 277.5px)"></i><i style="top:89px;left:0;width:311px;height:1px;background:linear-gradient(90deg,#006da8 18.5px,#0063a9 52.5px,#0098ff 53.5px,#0084ff 76.5px,#5d72ff 95.5px,#ff41fa 138.5px,#ff13b4 165.5px,#ff0096 184.5px,#ff0073 217.5px,#a30049 218.5px,#a30026 276.5px)"></i><i style="top:90px;left:0;width:311px;height:1px;background:linear-gradient(90deg,#006ba8 18.5px,#0061aa 52.5px,#0096ff 53.5px,#0681ff 77.5px,#7869ff 102.5px,#ff3dfa 139.5px,#ff10b3 167.5px,#ff0098 184.5px,#ff0076 216.5px,#a3004b 217.5px,#a30028 275.5px)"></i><i style="top:91px;left:0;width:311px;height:1px;background:linear-gradient(90deg,#0069a8 19.5px,#0060aa 52.5px,#0093ff 53.5px,#057eff 77.5px,#7267ff 101.5px,#ff3afa 140.5px,#ff0db3 168.5px,#ff009a 184.5px,#ff0079 214.5px,#a3004d 215.5px,#a30029 274.5px)"></i><i style="top:92px;left:0;width:311px;height:1px;background:linear-gradient(90deg,#0067a9 19.5px,#005eaa 53.5px,#0090ff 54.5px,#047cff 77.5px,#6c66ff 100.5px,#ff37fa 141.5px,#ff09b2 170.5px,#ff0097 188.5px,#ff007c 213.5px,#a3004f 214.5px,#a3002a 273.5px)"></i><i style="top:93px;left:0;width:311px;height:1px;background:linear-gradient(90deg,#0066a9 20.5px,#005dab 53.5px,#008dff 54.5px,#027aff 77.5px,#6366ff 98.5px,#ff34fa 142.5px,#ff06b3 171.5px,#ff007f 212.5px,#a30050 213.5px,#a3002b 272.5px)"></i><i style="top:94px;left:0;width:311px;height:1px;background:linear-gradient(90deg,#0064a9 20.5px,#005bab 53.5px,#008bff 54.5px,#0177ff 77.5px,#5d65ff 97.5px,#ff31fa 143.5px,#ff03b4 172.5px,#ff0082 210.5px,#a30053 211.5px,#a3002c 271.5px)"></i><i style="top:95px;left:0;width:311px;height:1px;background:linear-gradient(90deg,#0063aa 20.5px,#005aab 54.5px,#0088ff 55.5px,#0075ff 77.5px,#5c63ff 97.5px,#ff2efa 144.5px,#ff00b2 174.5px,#ff0085 209.5px,#a30054 210.5px,#a3002e 270.5px)"></i><i style="top:96px;left:0;width:311px;height:1px;background:linear-gradient(90deg,#0061aa 21.5px,#0058ac 54.5px,#0086ff 55.5px,#0672ff 78.5px,#7859ff 105.5px,#ff2bfa 145.5px,#ff00b3 175.5px,#ff0088 208.5px,#a30056 209.5px,#a3002f 269.5px)"></i><i style="top:97px;left:0;width:311px;height:1px;background:linear-gradient(90deg,#005faa 21.5px,#0057ac 54.5px,#0083ff 55.5px,#0570ff 78.5px,#7258ff 104.5px,#ff28fa 146.5px,#ff00b5 175.5px,#ff008b 207.5px,#a30058 208.5px,#a30030 268.5px)"></i><i style="top:98px;left:0;width:311px;height:1px;background:linear-gradient(90deg,#005eab 22.5px,#0056ac 54.5px,#0081ff 55.5px,#046eff 78.5px,#6d57ff 103.5px,#ff25fa 147.5px,#ff00ba 174.5px,#ff008f 205.5px,#a3005b 206.5px,#a30031 267.5px)"></i><i style="top:99px;left:0;width:311px;height:1px;background:linear-gradient(90deg,#005cab 22.5px,#0054ad 55.5px,#007eff 56.5px,#026cff 78.5px,#6856ff 102.5px,#ff22fa 148.5px,#ff00be 173.5px,#ff0092 204.5px,#a3005c 205.5px,#a30032 267.5px)"></i><i style="top:100px;left:0;width:311px;height:1px;background:linear-gradient(90deg,#005bab 23.5px,#0053ad 55.5px,#007cff 56.5px,#016aff 78.5px,#5f56ff 100.5px,#ff1ffa 149.5px,#ff00c2 172.5px,#ff0095 203.5px,#a3005e 204.5px,#a30033 266.5px)"></i><i style="top:101px;left:0;width:311px;height:1px;background:linear-gradient(90deg,#0059ab 23.5px,#0052ad 55.5px,#007aff 56.5px,#0068ff 78.5px,#5a55ff 99.5px,#ff1cfa 150.5px,#ff00c6 171.5px,#ff0099 201.5px,#a30061 202.5px,#a30035 265.5px)"></i><i style="top:102px;left:0;width:311px;height:1px;background:linear-gradient(90deg,#0058ac 24.5px,#0050ae 56.5px,#0077ff 57.5px,#0665ff 79.5px,#784bff 108.5px,#ff19fa 151.5px,#ff00cb 170.5px,#ff009c 200.5px,#a30063 201.5px,#a30036 264.5px)"></i><i style="top:103px;left:0;width:311px;height:1px;background:linear-gradient(90deg,#0056ac 24.5px,#004fae 56.5px,#0075ff 57.5px,#0563ff 79.5px,#734aff 107.5px,#ff16fa 152.5px,#ff00cf 169.5px,#ff009f 199.5px,#a30065 200.5px,#a30037 263.5px)"></i><i style="top:104px;left:0;width:311px;height:1px;background:linear-gradient(90deg,#0055ac 25.5px,#004eae 56.5px,#0074ff 57.5px,#0462ff 79.5px,#6e49ff 106.5px,#ff13fa 153.5px,#ff00d2 169.5px,#ff00a2 198.5px,#a30067 199.5px,#a30039 262.5px)"></i><i style="top:105px;left:0;width:311px;height:1px;background:linear-gradient(90deg,#0053ad 25.5px,#004daf 56.5px,#0072ff 57.5px,#0360ff 79.5px,#6948ff 105.5px,#ff10fa 154.5px,#ff00d6 168.5px,#ff00a7 196.5px,#a3006a 197.5px,#a3003a 261.5px)"></i><i style="top:106px;left:0;width:311px;height:1px;background:linear-gradient(90deg,#0052ad 26.5px,#004baf 57.5px,#006fff 58.5px,#025eff 79.5px,#6149ff 103.5px,#ff0dfa 155.5px,#ff00d9 168.5px,#ff00aa 195.5px,#a3006c 196.5px,#a3003c 260.5px)"></i><i style="top:107px;left:0;width:311px;height:1px;background:linear-gradient(90deg,#0051ad 26.5px,#004aaf 57.5px,#006dff 58.5px,#005cff 79.5px,#5949ff 101.5px,#ff0afa 156.5px,#ff00d7 170.5px,#ff00ad 194.5px,#a3006e 195.5px,#a3003d 259.5px)"></i><i style="top:108px;left:0;width:311px;height:1px;background:linear-gradient(90deg,#004fae 27.5px,#0049b0 57.5px,#006bff 58.5px,#065aff 80.5px,#783eff 111.5px,#ff07fa 157.5px,#ff00b2 192.5px,#a30071 193.5px,#a3003e 258.5px)"></i><i style="top:109px;left:0;width:311px;height:1px;background:linear-gradient(90deg,#004eae 27.5px,#0048b0 58.5px,#0069ff 59.5px,#0558ff 80.5px,#733dff 110.5px,#ff03fa 158.5px,#ff00b6 191.5px,#a30073 192.5px,#a30040 257.5px)"></i><i style="top:110px;left:0;width:311px;height:1px;background:linear-gradient(90deg,#004daf 28.5px,#0047b0 58.5px,#0067ff 59.5px,#0456ff 80.5px,#6e3dff 109.5px,#ff00fa 159.5px,#ff00b9 190.5px,#a30076 191.5px,#a30041 256.5px)"></i><i style="top:111px;left:0;width:311px;height:1px;background:linear-gradient(90deg,#004caf 28.5px,#0046b1 58.5px,#0066ff 59.5px,#0355ff 80.5px,#6a3cff 108.5px,#ff00fa 160.5px,#ff00bd 189.5px,#a30078 190.5px,#a30043 255.5px)"></i><i style="top:112px;left:0;width:311px;height:1px;background:linear-gradient(90deg,#004aaf 29.5px,#0045b1 58.5px,#0064ff 59.5px,#0253ff 80.5px,#623cff 106.5px,#ff00fa 161.5px,#ff00c2 187.5px,#a3007b 188.5px,#a30044 254.5px)"></i><i style="top:113px;left:0;width:311px;height:1px;background:linear-gradient(90deg,#0049b0 29.5px,#0043b1 59.5px,#0061ff 60.5px,#0152ff 80.5px,#5a3dff 104.5px,#ff00fd 161.5px,#ff00c6 186.5px,#a3007e 187.5px,#a30046 253.5px)"></i><i style="top:114px;left:0;width:311px;height:1px;background:linear-gradient(90deg,#0048b0 30.5px,#0042b2 59.5px,#0060ff 60.5px,#064fff 81.5px,#7832ff 114.5px,#fc00ff 160.5px,#ff00ca 185.5px,#a30080 186.5px,#a30047 252.5px)"></i><i style="top:115px;left:0;width:311px;height:1px;background:linear-gradient(90deg,#0047b0 30.5px,#0041b2 59.5px,#005eff 60.5px,#054eff 81.5px,#7332ff 113.5px,#f600ff 159.5px,#ff00eb 170.5px,#ff00d0 183.5px,#a30084 184.5px,#a30049 251.5px)"></i><i style="top:116px;left:0;width:311px;height:1px;background:linear-gradient(90deg,#0045b1 31.5px,#0040b2 60.5px,#005cff 61.5px,#044cff 81.5px,#6f31ff 112.5px,#f100ff 158.5px,#ff00f5 167.5px,#ff00d4 182.5px,#a30086 183.5px,#a3004a 250.5px)"></i><i style="top:117px;left:0;width:311px;height:1px;background:linear-gradient(90deg,#0044b1 31.5px,#003fb3 60.5px,#005aff 61.5px,#034bff 81.5px,#6b31ff 111.5px,#ec00ff 157.5px,#ff00f7 167.5px,#ff00d8 181.5px,#a30089 182.5px,#a3004b 250.5px)"></i><i style="top:118px;left:0;width:311px;height:1px;background:linear-gradient(90deg,#0043b1 32.5px,#003eb3 60.5px,#0059ff 61.5px,#0249ff 81.5px,#6331ff 109.5px,#e700ff 156.5px,#ff00f7 168.5px,#ff00dc 180.5px,#a3008c 181.5px,#a3004d 249.5px)"></i><i style="top:119px;left:0;width:311px;height:1px;background:linear-gradient(90deg,#0042b2 32.5px,#003db3 60.5px,#0058ff 61.5px,#0148ff 81.5px,#5f31ff 108.5px,#e200ff 155.5px,#ff00fa 168.5px,#ff00e3 178.5px,#a30090 179.5px,#a3004e 248.5px)"></i><i style="top:120px;left:0;width:311px;height:1px;background:linear-gradient(90deg,#0041b2 33.5px,#003cb4 61.5px,#0055ff 62.5px,#0646ff 82.5px,#7827ff 117.5px,#dd00ff 154.5px,#ff00fa 169.5px,#ff00e7 177.5px,#a30093 178.5px,#a30050 247.5px)"></i><i style="top:121px;left:0;width:311px;height:1px;background:linear-gradient(90deg,#0040b2 34.5px,#003bb4 61.5px,#0054ff 62.5px,#0545ff 82.5px,#7427ff 116.5px,#d800ff 153.5px,#ff00fa 170.5px,#ff00ec 176.5px,#a30095 177.5px,#a30052 246.5px)"></i><i style="top:122px;left:0;width:311px;height:1px;background:linear-gradient(90deg,#003fb3 34.5px,#003ab4 61.5px,#0052ff 62.5px,#0443ff 82.5px,#6f26ff 115.5px,#d300ff 152.5px,#ff00fa 171.5px,#ff00f3 174.5px,#a3009a 175.5px,#a30053 245.5px)"></i><i style="top:123px;left:0;width:311px;height:1px;background:linear-gradient(90deg,#003eb3 35.5px,#0039b5 62.5px,#0050ff 63.5px,#0342ff 82.5px,#6b26ff 114.5px,#ce00ff 151.5px,#ff00fa 172.5px,#ff00f7 173.5px,#a3009d 174.5px,#a30055 244.5px)"></i><i style="top:124px;left:0;width:311px;height:1px;background:linear-gradient(90deg,#003db4 35.5px,#0038b5 62.5px,#004fff 63.5px,#0241ff 82.5px,#6726ff 113.5px,#cc00ff 151.5px,#ff00fc 172.5px,#a300a0 173.5px,#a30057 243.5px)"></i><i style="top:125px;left:0;width:311px;height:1px;background:linear-gradient(90deg,#003bb4 36.5px,#0037b6 62.5px,#004eff 63.5px,#013fff 82.5px,#6127ff 111.5px,#c700ff 150.5px,#fd00ff 171.5px,#a300a3 172.5px,#a30059 242.5px)"></i><i style="top:126px;left:0;width:311px;height:1px;background:linear-gradient(90deg,#003ab4 36.5px,#0036b6 62.5px,#004cff 63.5px,#063dff 83.5px,#781dff 120.5px,#c300ff 149.5px,#f500ff 169.5px,#9f00a3 170.5px,#a3005a 241.5px)"></i><i style="top:127px;left:0;width:311px;height:1px;background:linear-gradient(90deg,#0039b5 37.5px,#0035b6 63.5px,#004aff 64.5px,#053cff 83.5px,#741cff 119.5px,#bf00ff 148.5px,#f000ff 168.5px,#9b00a3 169.5px,#a3008a 194.5px,#a3005c 240.5px)"></i><i style="top:128px;left:0;width:311px;height:1px;background:linear-gradient(90deg,#0038b5 37.5px,#0034b7 63.5px,#0049ff 64.5px,#043bff 83.5px,#701cff 118.5px,#ba00ff 147.5px,#ec00ff 167.5px,#9800a3 168.5px,#a30096 185.5px,#a3005e 239.5px)"></i><i style="top:129px;left:0;width:311px;height:1px;background:linear-gradient(90deg,#0037b5 38.5px,#0033b7 63.5px,#0048ff 64.5px,#0339ff 83.5px,#6c1cff 117.5px,#b600ff 146.5px,#e500ff 165.5px,#9400a3 166.5px,#a30099 184.5px,#a30060 238.5px)"></i><i style="top:130px;left:0;width:311px;height:1px;background:linear-gradient(90deg,#0036b6 39.5px,#0032b7 64.5px,#0046ff 65.5px,#0338ff 83.5px,#681cff 116.5px,#b400ff 146.5px,#e000ff 164.5px,#9100a3 165.5px,#a3009b 184.5px,#a30062 237.5px)"></i><i style="top:131px;left:0;width:311px;height:1px;background:linear-gradient(90deg,#0035b6 39.5px,#0031b8 64.5px,#0045ff 65.5px,#0736ff 84.5px,#7c13ff 124.5px,#b000ff 145.5px,#dc00ff 163.5px,#8e00a3 164.5px,#a3009b 185.5px,#a30064 236.5px)"></i><i style="top:132px;left:0;width:311px;height:1px;background:linear-gradient(90deg,#0034b7 40.5px,#0031b8 64.5px,#0043ff 65.5px,#0635ff 84.5px,#7813ff 123.5px,#ac00ff 144.5px,#d700ff 162.5px,#8b00a3 163.5px,#a3009c 186.5px,#a30066 235.5px)"></i><i style="top:133px;left:0;width:311px;height:1px;background:linear-gradient(90deg,#0033b7 40.5px,#0030b8 64.5px,#0042ff 65.5px,#0534ff 84.5px,#7412ff 122.5px,#aa00ff 144.5px,#d000ff 160.5px,#8700a3 161.5px,#a3009c 187.5px,#a30068 234.5px)"></i><i style="top:134px;left:0;width:311px;height:1px;background:linear-gradient(90deg,#0032b7 41.5px,#002fb9 65.5px,#0040ff 66.5px,#0433ff 84.5px,#7012ff 121.5px,#a600ff 143.5px,#cc00ff 159.5px,#8400a3 160.5px,#a3009c 188.5px,#a3006a 233.5px)"></i><i style="top:135px;left:0;width:311px;height:1px;background:linear-gradient(90deg,#0032b8 41.5px,#002eb9 65.5px,#003fff 66.5px,#0432ff 84.5px,#6d12ff 120.5px,#a200ff 142.5px,#c800ff 158.5px,#8100a3 159.5px,#a3009d 189.5px,#a3006c 232.5px)"></i><i style="top:136px;left:0;width:311px;height:1px;background:linear-gradient(90deg,#0031b8 42.5px,#002dba 65.5px,#003eff 66.5px,#0331ff 84.5px,#6912ff 119.5px,#9e00ff 141.5px,#c200ff 156.5px,#7d00a3 157.5px,#a3009d 190.5px,#a3006d 232.5px)"></i><i style="top:137px;left:0;width:311px;height:1px;background:linear-gradient(90deg,#0030b9 43.5px,#002cba 66.5px,#003cff 67.5px,#072fff 85.5px,#7b08ff 127.5px,#b000ff 149.5px,#bd00ff 155.5px,#7b00a3 156.5px,#a3009d 191.5px,#a3006f 231.5px)"></i><i style="top:138px;left:0;width:311px;height:1px;background:linear-gradient(90deg,#002fb9 43.5px,#002bba 66.5px,#003bff 67.5px,#062eff 85.5px,#7808ff 126.5px,#ac00ff 148.5px,#b900ff 154.5px,#7800a3 155.5px,#a3009c 193.5px,#a30071 230.5px)"></i><i style="top:139px;left:0;width:311px;height:1px;background:linear-gradient(90deg,#002eb9 44.5px,#002abb 66.5px,#003aff 67.5px,#052dff 85.5px,#7408ff 125.5px,#a800ff 147.5px,#b600ff 153.5px,#7500a3 154.5px,#a3009d 194.5px,#a30074 229.5px)"></i><i style="top:140px;left:0;width:311px;height:1px;background:linear-gradient(90deg,#002dba 44.5px,#002abb 66.5px,#0039ff 67.5px,#042cff 85.5px,#7108ff 124.5px,#a400ff 146.5px,#af00ff 151.5px,#7200a3 152.5px,#a3009d 195.5px,#a30076 228.5px)"></i><i style="top:141px;left:0;width:311px;height:1px;background:linear-gradient(90deg,#002cba 45.5px,#0029bc 67.5px,#0037ff 68.5px,#042aff 85.5px,#6d08ff 123.5px,#a000ff 145.5px,#ac00ff 150.5px,#6f00a3 151.5px,#a3009d 196.5px,#a30078 227.5px)"></i><i style="top:142px;left:0;width:311px;height:1px;background:linear-gradient(90deg,#002bbb 45.5px,#0028bc 67.5px,#0036ff 68.5px,#0329ff 85.5px,#6a08ff 122.5px,#9c00ff 144.5px,#a800ff 149.5px,#6d00a3 150.5px,#a3009e 197.5px,#a3007b 226.5px)"></i><i style="top:143px;left:0;width:311px;height:1px;background:linear-gradient(90deg,#002abb 46.5px,#0027bc 67.5px,#0035ff 68.5px,#0728ff 86.5px,#7b00ff 130.5px,#a200ff 147.5px,#6900a3 148.5px,#a3009d 199.5px,#a3007d 225.5px)"></i><i style="top:144px;left:0;width:311px;height:1px;background:linear-gradient(90deg,#0029bb 47.5px,#0026bd 68.5px,#0033ff 69.5px,#0627ff 86.5px,#7800ff 129.5px,#9e00ff 146.5px,#6700a3 147.5px,#a3009d 200.5px,#a3007f 224.5px)"></i><i style="top:145px;left:0;width:311px;height:1px;background:linear-gradient(90deg,#0028bc 47.5px,#0025bd 68.5px,#0032ff 69.5px,#0526ff 86.5px,#7400ff 128.5px,#9b00ff 145.5px,#6400a3 146.5px,#a3009d 201.5px,#a30082 223.5px)"></i><i style="top:146px;left:0;width:311px;height:1px;background:linear-gradient(90deg,#0027bc 48.5px,#0025be 68.5px,#0031ff 69.5px,#0525ff 86.5px,#7100ff 127.5px,#9700ff 144.5px,#6200a3 145.5px,#a3009e 202.5px,#a30084 222.5px)"></i><i style="top:147px;left:0;width:311px;height:1px;background:linear-gradient(90deg,#0027bd 48.5px,#0024be 68.5px,#0030ff 69.5px,#0424ff 86.5px,#6e00ff 126.5px,#9100ff 142.5px,#5e00a3 143.5px,#a3009e 203.5px,#a30087 221.5px)"></i><i style="top:148px;left:0;width:311px;height:1px;background:linear-gradient(90deg,#0026bd 49.5px,#0023be 69.5px,#002eff 70.5px,#0323ff 86.5px,#6a00ff 125.5px,#8e00ff 141.5px,#5c00a3 142.5px,#a3009d 205.5px,#a3008a 220.5px)"></i><i style="top:149px;left:0;width:311px;height:1px;background:linear-gradient(90deg,#0025bd 50.5px,#0022bf 69.5px,#002dff 70.5px,#0721ff 87.5px,#7000ff 128.5px,#8a00ff 140.5px,#5a00a3 141.5px,#a3009d 206.5px,#a3008c 219.5px)"></i><i style="top:150px;left:0;width:311px;height:1px;background:linear-gradient(90deg,#0024be 50.5px,#0021bf 69.5px,#002cff 70.5px,#0620ff 87.5px,#6f00ff 128.5px,#8500ff 138.5px,#5600a3 139.5px,#a3009e 207.5px,#a3008f 218.5px)"></i><i style="top:151px;left:0;width:311px;height:1px;background:linear-gradient(90deg,#0023be 51.5px,#0021c0 70.5px,#002bff 71.5px,#051fff 87.5px,#6c00ff 127.5px,#8200ff 137.5px,#5400a3 138.5px,#a3009e 208.5px,#a30092 217.5px)"></i><i style="top:152px;left:0;width:311px;height:1px;background:linear-gradient(90deg,#0022bf 51.5px,#0020c0 70.5px,#002aff 71.5px,#051eff 87.5px,#6800ff 126.5px,#7e00ff 136.5px,#5200a3 137.5px,#a3009d 210.5px,#a30095 216.5px)"></i><i style="top:153px;left:0;width:311px;height:1px;background:linear-gradient(90deg,#0021bf 52.5px,#001fc0 70.5px,#0029ff 71.5px,#041dff 87.5px,#6500ff 125.5px,#7b00ff 135.5px,#5000a3 136.5px,#a3009d 211.5px,#a30098 215.5px)"></i><i style="top:154px;left:0;width:311px;height:1px;background:linear-gradient(90deg,#0021c0 53.5px,#001ec1 70.5px,#0028ff 71.5px,#031cff 87.5px,#6200ff 124.5px,#7600ff 133.5px,#4d00a3 134.5px,#a3009e 212.5px,#a3009a 215.5px)"></i><i style="top:155px;left:0;width:311px;height:1px;background:linear-gradient(90deg,#0020c0 53.5px,#001dc1 71.5px,#0026ff 72.5px,#071bff 88.5px,#6100ff 124.5px,#7200ff 132.5px,#4a00a3 133.5px,#a3009e 213.5px,#a3009d 214.5px)"></i><i style="top:156px;left:0;width:311px;height:1px;background:linear-gradient(90deg,#001fc0 54.5px,#001dc2 71.5px,#0025ff 72.5px,#061aff 88.5px,#5e00ff 123.5px,#6f00ff 131.5px,#4800a3 132.5px,#a300a0 213.5px)"></i><i style="top:157px;left:0;width:311px;height:1px;background:linear-gradient(90deg,#001ec1 55.5px,#001cc2 71.5px,#0025ff 72.5px,#0519ff 88.5px,#5b00ff 122.5px,#6a00ff 129.5px,#4500a3 130.5px,#a300a3 212.5px)"></i><i style="top:158px;left:0;width:311px;height:1px;background:linear-gradient(90deg,#001dc1 55.5px,#001bc2 72.5px,#0023ff 73.5px,#0518ff 88.5px,#5800ff 121.5px,#6700ff 128.5px,#4300a3 129.5px,#a000a3 211.5px)"></i><i style="top:159px;left:0;width:311px;height:1px;background:linear-gradient(90deg,#001cc2 56.5px,#001ac3 72.5px,#0022ff 73.5px,#0417ff 88.5px,#5500ff 120.5px,#6400ff 127.5px,#4100a3 128.5px,#9d00a3 210.5px)"></i><i style="top:160px;left:0;width:311px;height:1px;background:linear-gradient(90deg,#001cc2 57.5px,#001ac3 72.5px,#0021ff 73.5px,#0316ff 88.5px,#5200ff 119.5px,#6100ff 126.5px,#3f00a3 127.5px,#9a00a3 209.5px)"></i><i style="top:161px;left:0;width:311px;height:1px;background:linear-gradient(90deg,#001bc3 57.5px,#0019c4 72.5px,#0020ff 73.5px,#0714ff 89.5px,#4f00ff 118.5px,#5c00ff 124.5px,#3c00a3 125.5px,#9700a3 208.5px)"></i><i style="top:162px;left:0;width:311px;height:1px;background:linear-gradient(90deg,#001ac3 58.5px,#0018c4 73.5px,#001fff 74.5px,#0613ff 89.5px,#4c00ff 117.5px,#5900ff 123.5px,#3a00a3 124.5px,#9400a3 207.5px)"></i><i style="top:163px;left:0;width:311px;height:1px;background:linear-gradient(90deg,#0019c3 58.5px,#0017c5 73.5px,#001eff 74.5px,#0513ff 89.5px,#4b00ff 117.5px,#5600ff 122.5px,#3800a3 123.5px,#9100a3 206.5px)"></i><i style="top:164px;left:0;width:311px;height:1px;background:linear-gradient(90deg,#0018c4 59.5px,#0017c5 73.5px,#001dff 74.5px,#0512ff 89.5px,#4800ff 116.5px,#5100ff 120.5px,#3500a3 121.5px,#8e00a3 205.5px)"></i><i style="top:165px;left:0;width:311px;height:1px;background:linear-gradient(90deg,#0018c4 60.5px,#0016c5 74.5px,#001bff 75.5px,#0411ff 89.5px,#4500ff 115.5px,#4e00ff 119.5px,#3300a3 120.5px,#8b00a3 204.5px)"></i><i style="top:166px;left:0;width:311px;height:1px;background:linear-gradient(90deg,#0017c5 60.5px,#0015c6 74.5px,#001bff 75.5px,#0310ff 89.5px,#4300ff 114.5px,#4b00ff 118.5px,#3100a3 119.5px,#8800a3 203.5px)"></i><i style="top:167px;left:0;width:311px;height:1px;background:linear-gradient(90deg,#0016c5 61.5px,#0014c6 74.5px,#001aff 75.5px,#060eff 90.5px,#4200ff 114.5px,#4800ff 117.5px,#2f00a3 118.5px,#8500a3 202.5px)"></i><i style="top:168px;left:0;width:311px;height:1px;background:linear-gradient(90deg,#0015c6 62.5px,#0014c7 74.5px,#0019ff 75.5px,#060dff 90.5px,#3f00ff 113.5px,#4300ff 115.5px,#2c00a3 116.5px,#8200a3 201.5px)"></i><i style="top:169px;left:0;width:311px;height:1px;background:linear-gradient(90deg,#0014c6 62.5px,#0013c7 75.5px,#0017ff 76.5px,#050cff 90.5px,#3e00ff 113.5px,#4000ff 114.5px,#2a00a3 115.5px,#8000a3 200.5px)"></i><i style="top:170px;left:0;width:311px;height:1px;background:linear-gradient(90deg,#0014c7 63.5px,#0012c8 75.5px,#0017ff 76.5px,#050cff 90.5px,#3e00ff 113.5px,#2800a3 114.5px,#7d00a3 199.5px)"></i><i style="top:171px;left:0;width:311px;height:1px;background:linear-gradient(90deg,#0013c7 64.5px,#0011c8 75.5px,#0016ff 76.5px,#040bff 90.5px,#3900ff 111.5px,#2600a3 112.5px,#7a00a3 198.5px)"></i><i style="top:172px;left:0;width:311px;height:1px;background:linear-gradient(90deg,#0012c8 65.5px,#0010c9 76.5px,#0014ff 77.5px,#040aff 90.5px,#3600ff 110.5px,#2400a3 111.5px,#7800a3 197.5px)"></i><i style="top:173px;left:0;width:311px;height:1px;background:linear-gradient(90deg,#0011c8 65.5px,#0010c9 76.5px,#0013ff 77.5px,#0608ff 91.5px,#3300ff 109.5px,#2200a3 110.5px,#7600a3 197.5px)"></i><i style="top:174px;left:0;width:311px;height:1px;background:linear-gradient(90deg,#0010c9 66.5px,#000fca 76.5px,#0013ff 77.5px,#0607ff 91.5px,#2e00ff 107.5px,#1f00a3 108.5px,#7400a3 196.5px)"></i><i style="top:175px;left:0;width:311px;height:1px;background:linear-gradient(90deg,#000fc9 67.5px,#000eca 76.5px,#0012ff 77.5px,#0506ff 91.5px,#2b00ff 106.5px,#1d00a3 107.5px,#7100a3 195.5px)"></i><i style="top:176px;left:0;width:311px;height:1px;background:linear-gradient(90deg,#000fca 67.5px,#000dcb 77.5px,#0010ff 78.5px,#0505ff 91.5px,#2900ff 105.5px,#1b00a3 106.5px,#6e00a3 194.5px)"></i><i style="top:177px;left:0;width:311px;height:1px;background:linear-gradient(90deg,#000eca 68.5px,#000dcb 77.5px,#000fff 78.5px,#0404ff 91.5px,#2600ff 104.5px,#1900a3 105.5px,#6c00a3 193.5px)"></i><i style="top:178px;left:0;width:311px;height:1px;background:linear-gradient(90deg,#000dcb 69.5px,#000ccc 77.5px,#000fff 78.5px,#0702ff 92.5px,#2100ff 102.5px,#1600a3 103.5px,#6900a3 192.5px)"></i><i style="top:179px;left:0;width:311px;height:1px;background:linear-gradient(90deg,#000ccb 69.5px,#000bcc 78.5px,#000dff 79.5px,#0601ff 92.5px,#1e00ff 101.5px,#1400a3 102.5px,#6700a3 191.5px)"></i><i style="top:180px;left:0;width:311px;height:1px;background:linear-gradient(90deg,#000bcc 70.5px,#000acd 78.5px,#000cff 79.5px,#0600ff 92.5px,#1b00ff 100.5px,#1200a3 101.5px,#6500a3 190.5px)"></i><i style="top:181px;left:0;width:311px;height:1px;background:linear-gradient(90deg,#000acc 71.5px,#0009cd 78.5px,#000bff 79.5px,#0500ff 92.5px,#1600ff 98.5px,#0f00a3 99.5px,#6200a3 189.5px)"></i><i style="top:182px;left:0;width:311px;height:1px;background:linear-gradient(90deg,#0009cd 72.5px,#0009ce 78.5px,#000aff 79.5px,#0500ff 92.5px,#1300ff 97.5px,#0d00a3 98.5px,#6000a3 188.5px)"></i><i style="top:183px;left:0;width:311px;height:1px;background:linear-gradient(90deg,#0009ce 72.5px,#0008ce 79.5px,#0009ff 80.5px,#0400ff 92.5px,#1000ff 96.5px,#0b00a3 97.5px,#5d00a3 187.5px)"></i><i style="top:184px;left:0;width:311px;height:1px;background:linear-gradient(90deg,#0008ce 73.5px,#0007cf 79.5px,#0008ff 80.5px,#0700ff 93.5px,#0d00ff 95.5px,#0900a3 96.5px,#5b00a3 186.5px)"></i><i style="top:185px;left:0;width:311px;height:1px;background:linear-gradient(90deg,#0007cf 74.5px,#0006cf 79.5px,#0007ff 80.5px,#0600ff 93.5px,#0600a3 94.5px,#5900a3 185.5px)"></i><i style="top:186px;left:0;width:311px;height:1px;background:linear-gradient(90deg,#0006d0 75.5px,#0005d0 80.5px,#0005ff 81.5px,#0300ff 92.5px,#0300a3 93.5px,#5700a3 184.5px)"></i><i style="top:187px;left:0;width:311px;height:1px;background:linear-gradient(90deg,#0005d0 75.5px,#0004d1 80.5px,#0004ff 81.5px,#0000ff 91.5px,#0000a3 92.5px,#5400a3 183.5px)"></i><i style="top:188px;left:0;width:311px;height:1px;background:linear-gradient(90deg,#0004d1 76.5px,#0003d1 80.5px,#0003ff 81.5px,#0000ff 89.5px,#0000a3 90.5px,#5200a3 182.5px)"></i><i style="top:189px;left:0;width:311px;height:1px;background:linear-gradient(90deg,#0003d2 77.5px,#0002d2 80.5px,#0002ff 81.5px,#0000ff 88.5px,#0000a3 89.5px,#5000a3 181.5px)"></i><i style="top:190px;left:0;width:311px;height:1px;background:linear-gradient(90deg,#0002d2 78.5px,#0001d3 81.5px,#0000ff 82.5px,#0000ff 87.5px,#0000a3 88.5px,#4e00a3 180.5px)"></i><i style="top:191px;left:0;width:311px;height:1px;background:linear-gradient(90deg,#0000d4 79.5px,#0000d4 81.5px,#0000ff 82.5px,#0000ff 86.5px,#0000a3 87.5px,#0f00a3 111.5px,#4c00a3 179.5px)"></i><i style="top:192px;left:0;width:311px;height:1px;background:linear-gradient(90deg,#0000d4 79.5px,#0000d4 81.5px,#0000ff 82.5px,#0000ff 84.5px,#0000a3 85.5px,#0900a3 106.5px,#4a00a3 179.5px)"></i><i style="top:193px;left:0;width:311px;height:1px;background:linear-gradient(90deg,#0000d4 80.5px,#0000d4 81.5px,#0000ff 82.5px,#0000ff 83.5px,#0000a3 84.5px,#0900a3 107.5px,#4800a3 178.5px)"></i><i style="top:194px;left:0;width:311px;height:1px;background:linear-gradient(90deg,#0000d4 81.5px,#0000d4 82.5px,#0000a3 83.5px,#0900a3 108.5px,#4600a3 177.5px)"></i><i style="top:195px;left:0;width:311px;height:1px;background:linear-gradient(90deg,#0000a3 82.5px,#0900a3 109.5px,#4400a3 176.5px)"></i><i style="top:196px;left:0;width:311px;height:1px;background:linear-gradient(90deg,#0000a3 83.5px,#0700a3 109.5px,#4200a3 175.5px)"></i><i style="top:197px;left:0;width:311px;height:1px;background:linear-gradient(90deg,#0000a3 83.5px,#0700a3 110.5px,#4000a3 174.5px)"></i><i style="top:198px;left:0;width:311px;height:1px;background:linear-gradient(90deg,#0000a3 84.5px,#0800a3 112.5px,#3e00a3 173.5px)"></i><i style="top:199px;left:0;width:311px;height:1px;background:linear-gradient(90deg,#0000a3 85.5px,#0800a3 113.5px,#3c00a3 172.5px)"></i><i style="top:200px;left:0;width:311px;height:1px;background:linear-gradient(90deg,#0000a3 86.5px,#0700a3 114.5px,#3a00a3 171.5px)"></i><i style="top:201px;left:0;width:311px;height:1px;background:linear-gradient(90deg,#0000a3 87.5px,#0700a3 115.5px,#3800a3 170.5px)"></i><i style="top:202px;left:0;width:311px;height:1px;background:linear-gradient(90deg,#0000a3 88.5px,#0800a3 117.5px,#3600a3 169.5px)"></i><i style="top:203px;left:0;width:311px;height:1px;background:linear-gradient(90deg,#0000a3 89.5px,#0800a3 118.5px,#3400a3 168.5px)"></i><i style="top:204px;left:0;width:311px;height:1px;background:linear-gradient(90deg,#0000a3 90.5px,#0700a3 119.5px,#3200a3 167.5px)"></i><i style="top:205px;left:0;width:311px;height:1px;background:linear-gradient(90deg,#0000a3 91.5px,#0700a3 120.5px,#3000a3 166.5px)"></i><i style="top:206px;left:0;width:311px;height:1px;background:linear-gradient(90deg,#0000a3 92.5px,#0700a3 121.5px,#2e00a3 165.5px)"></i><i style="top:207px;left:0;width:311px;height:1px;background:linear-gradient(90deg,#0000a3 93.5px,#0800a3 123.5px,#2c00a3 164.5px)"></i><i style="top:208px;left:0;width:311px;height:1px;background:linear-gradient(90deg,#0000a3 94.5px,#0700a3 124.5px,#2a00a3 163.5px)"></i><i style="top:209px;left:0;width:311px;height:1px;background:linear-gradient(90deg,#0000a3 95.5px,#0700a3 125.5px,#2800a3 162.5px)"></i><i style="top:210px;left:0;width:311px;height:1px;background:linear-gradient(90deg,#0000a3 96.5px,#0700a3 126.5px,#2700a3 162.5px)"></i><i style="top:211px;left:0;width:311px;height:1px;background:linear-gradient(90deg,#0000a3 97.5px,#0800a3 128.5px,#2500a3 161.5px)"></i><i style="top:212px;left:0;width:311px;height:1px;background:linear-gradient(90deg,#0000a3 98.5px,#0700a3 129.5px,#2300a3 160.5px)"></i><i style="top:213px;left:0;width:311px;height:1px;background:linear-gradient(90deg,#0000a3 99.5px,#0700a3 130.5px,#2100a3 159.5px)"></i><i style="top:214px;left:0;width:311px;height:1px;background:linear-gradient(90deg,#0000a3 100.5px,#0700a3 131.5px,#1f00a3 158.5px)"></i><i style="top:215px;left:0;width:311px;height:1px;background:linear-gradient(90deg,#0000a3 101.5px,#0800a3 133.5px,#1d00a3 157.5px)"></i><i style="top:216px;left:0;width:311px;height:1px;background:linear-gradient(90deg,#0000a3 102.5px,#0700a3 134.5px,#1b00a3 156.5px)"></i><i style="top:217px;left:0;width:311px;height:1px;background:linear-gradient(90deg,#0000a3 103.5px,#0700a3 135.5px,#1900a3 155.5px)"></i><i style="top:218px;left:0;width:311px;height:1px;background:linear-gradient(90deg,#0000a3 104.5px,#0700a3 136.5px,#1700a3 154.5px)"></i><i style="top:219px;left:0;width:311px;height:1px;background:linear-gradient(90deg,#0000a3 106.5px,#0800a3 138.5px,#1500a3 153.5px)"></i><i style="top:220px;left:0;width:311px;height:1px;background:linear-gradient(90deg,#0000a3 107.5px,#0700a3 139.5px,#1300a3 152.5px)"></i><i style="top:221px;left:0;width:311px;height:1px;background:linear-gradient(90deg,#0000a3 108.5px,#0700a3 140.5px,#1200a3 151.5px)"></i><i style="top:222px;left:0;width:311px;height:1px;background:linear-gradient(90deg,#0000a3 109.5px,#0700a3 141.5px,#0f00a3 150.5px)"></i><i style="top:223px;left:0;width:311px;height:1px;background:linear-gradient(90deg,#0000a3 110.5px,#0700a3 142.5px,#0d00a3 149.5px)"></i><i style="top:224px;left:0;width:311px;height:1px;background:linear-gradient(90deg,#0000a3 111.5px,#0700a3 144.5px,#0b00a3 148.5px)"></i><i style="top:225px;left:0;width:311px;height:1px;background:linear-gradient(90deg,#0000a3 113.5px,#0700a3 145.5px,#0900a3 147.5px)"></i><i style="top:226px;left:0;width:311px;height:1px;background:linear-gradient(90deg,#0000a3 114.5px,#0700a3 146.5px)"></i><i style="top:227px;left:0;width:311px;height:1px;background:linear-gradient(90deg,#0000a3 115.5px,#0500a3 145.5px)"></i><i style="top:228px;left:0;width:311px;height:1px;background:linear-gradient(90deg,#0000a3 116.5px,#0200a3 144.5px)"></i><i style="top:229px;left:0;width:311px;height:1px;background:linear-gradient(90deg,#0000a3 117.5px,#0000a3 144.5px)"></i><i style="top:230px;left:0;width:311px;height:1px;background:linear-gradient(90deg,#0000a3 118.5px,#0000a3 143.5px)"></i><i style="top:231px;left:0;width:311px;height:1px;background:linear-gradient(90deg,#0000a3 120.5px,#0000a3 142.5px)"></i><i style="top:232px;left:0;width:311px;height:1px;background:linear-gradient(90deg,#0000a3 121.5px,#0000a3 141.5px)"></i><i style="top:233px;left:0;width:311px;height:1px;background:linear-gradient(90deg,#0000a3 122.5px,#0000a3 140.5px)"></i><i style="top:234px;left:0;width:311px;height:1px;background:linear-gradient(90deg,#0000a3 123.5px,#0000a3 139.5px)"></i><i style="top:235px;left:0;width:311px;height:1px;background:linear-gradient(90deg,#0000a3 124.5px,#0000a3 138.5px)"></i><i style="top:236px;left:0;width:311px;height:1px;background:linear-gradient(90deg,#0000a3 125.5px,#0000a3 137.5px)"></i><i style="top:237px;left:0;width:311px;height:1px;background:linear-gradient(90deg,#0000a3 127.5px,#0000a3 136.5px)"></i><i style="top:238px;left:0;width:311px;height:1px;background:linear-gradient(90deg,#0000a3 128.5px,#0000a3 135.5px)"></i><i style="top:239px;left:0;width:311px;height:1px;background:linear-gradient(90deg,#0000a3 130.5px,#0000a3 134.5px)"></i></div>
<svg width="698" height="605" viewBox="0 0 698 605">
<defs>
<linearGradient id="wb" x1="0" y1="0" x2="0" y2="1"><stop offset="0" stop-color="#b0b0b0" stop-opacity="0"/><stop offset="1" stop-color="#a0a0a0" stop-opacity="0.9"/></linearGradient>
<linearGradient id="yl" x1="0" y1="0" x2="1" y2="1"><stop offset="0" stop-color="#c4ff00"/><stop offset="0.45" stop-color="#fcfc00"/><stop offset="0.75" stop-color="#ffd800"/><stop offset="1" stop-color="#ffaa00"/></linearGradient>
<linearGradient id="ol" x1="0" y1="0" x2="1" y2="1"><stop offset="0" stop-color="#7c8c00"/><stop offset="0.5" stop-color="#8e8c00"/><stop offset="1" stop-color="#946c00"/></linearGradient>
<linearGradient id="yr" x1="0" y1="0" x2="1" y2="1"><stop offset="0" stop-color="#b4ff00"/><stop offset="0.5" stop-color="#f8fc00"/><stop offset="0.8" stop-color="#ffdc00"/><stop offset="1" stop-color="#ffb400"/></linearGradient>
</defs>
<rect x="40.20" y="65.20" width="167.40" height="167.30" fill="#232323" />
<line x1="37.20" y1="232.50" x2="40.20" y2="232.50" stroke="#7a7a7a" stroke-width="1.0"/>
<text x="37.00" y="235.80" font-size="7" text-anchor="end" fill="#d8d8d8" font-weight="normal" stroke="#d8d8d8" stroke-width="0.3" >0</text>
<line x1="40.20" y1="215.77" x2="207.60" y2="215.77" stroke="#6e6e6e" stroke-width="1.2"/>
<line x1="37.20" y1="215.77" x2="40.20" y2="215.77" stroke="#7a7a7a" stroke-width="1.0"/>
<text x="37.00" y="219.07" font-size="7" text-anchor="end" fill="#d8d8d8" font-weight="normal" stroke="#d8d8d8" stroke-width="0.3" >100</text>
<line x1="40.20" y1="199.04" x2="207.60" y2="199.04" stroke="#6e6e6e" stroke-width="1.2"/>
<line x1="37.20" y1="199.04" x2="40.20" y2="199.04" stroke="#7a7a7a" stroke-width="1.0"/>
<text x="37.00" y="202.34" font-size="7" text-anchor="end" fill="#d8d8d8" font-weight="normal" stroke="#d8d8d8" stroke-width="0.3" >200</text>
<line x1="40.20" y1="182.31" x2="207.60" y2="182.31" stroke="#6e6e6e" stroke-width="1.2"/>
<line x1="37.20" y1="182.31" x2="40.20" y2="182.31" stroke="#7a7a7a" stroke-width="1.0"/>
<text x="37.00" y="185.61" font-size="7" text-anchor="end" fill="#d8d8d8" font-weight="normal" stroke="#d8d8d8" stroke-width="0.3" >300</text>
<line x1="40.20" y1="165.58" x2="207.60" y2="165.58" stroke="#6e6e6e" stroke-width="1.2"/>
<line x1="37.20" y1="165.58" x2="40.20" y2="165.58" stroke="#7a7a7a" stroke-width="1.0"/>
<text x="37.00" y="168.88" font-size="7" text-anchor="end" fill="#d8d8d8" font-weight="normal" stroke="#d8d8d8" stroke-width="0.3" >400</text>
<line x1="40.20" y1="148.85" x2="207.60" y2="148.85" stroke="#6e6e6e" stroke-width="1.2"/>
<line x1="37.20" y1="148.85" x2="40.20" y2="148.85" stroke="#7a7a7a" stroke-width="1.0"/>
<text x="37.00" y="152.15" font-size="7" text-anchor="end" fill="#d8d8d8" font-weight="normal" stroke="#d8d8d8" stroke-width="0.3" >500</text>
<line x1="40.20" y1="132.12" x2="207.60" y2="132.12" stroke="#6e6e6e" stroke-width="1.2"/>
<line x1="37.20" y1="132.12" x2="40.20" y2="132.12" stroke="#7a7a7a" stroke-width="1.0"/>
<text x="37.00" y="135.42" font-size="7" text-anchor="end" fill="#d8d8d8" font-weight="normal" stroke="#d8d8d8" stroke-width="0.3" >600</text>
<line x1="40.20" y1="115.39" x2="207.60" y2="115.39" stroke="#6e6e6e" stroke-width="1.2"/>
<line x1="37.20" y1="115.39" x2="40.20" y2="115.39" stroke="#7a7a7a" stroke-width="1.0"/>
<text x="37.00" y="118.69" font-size="7" text-anchor="end" fill="#d8d8d8" font-weight="normal" stroke="#d8d8d8" stroke-width="0.3" >700</text>
<line x1="40.20" y1="98.66" x2="207.60" y2="98.66" stroke="#6e6e6e" stroke-width="1.2"/>
<line x1="37.20" y1="98.66" x2="40.20" y2="98.66" stroke="#7a7a7a" stroke-width="1.0"/>
<text x="37.00" y="101.96" font-size="7" text-anchor="end" fill="#d8d8d8" font-weight="normal" stroke="#d8d8d8" stroke-width="0.3" >800</text>
<line x1="40.20" y1="81.93" x2="207.60" y2="81.93" stroke="#6e6e6e" stroke-width="1.2"/>
<line x1="37.20" y1="81.93" x2="40.20" y2="81.93" stroke="#7a7a7a" stroke-width="1.0"/>
<text x="37.00" y="85.23" font-size="7" text-anchor="end" fill="#d8d8d8" font-weight="normal" stroke="#d8d8d8" stroke-width="0.3" >900</text>
<line x1="37.20" y1="65.20" x2="40.20" y2="65.20" stroke="#7a7a7a" stroke-width="1.0"/>
<text x="37.00" y="68.50" font-size="7" text-anchor="end" fill="#d8d8d8" font-weight="normal" stroke="#d8d8d8" stroke-width="0.3" >1000</text>
<line x1="40.20" y1="232.50" x2="40.20" y2="235.50" stroke="#7a7a7a" stroke-width="1.0"/>
<text x="40.20" y="242.40" font-size="7" text-anchor="middle" fill="#d8d8d8" font-weight="normal" stroke="#d8d8d8" stroke-width="0.3" >0</text>
<line x1="73.68" y1="232.50" x2="73.68" y2="235.50" stroke="#7a7a7a" stroke-width="1.0"/>
<text x="73.68" y="242.40" font-size="7" text-anchor="middle" fill="#d8d8d8" font-weight="normal" stroke="#d8d8d8" stroke-width="0.3" >20</text>
<line x1="107.16" y1="232.50" x2="107.16" y2="235.50" stroke="#7a7a7a" stroke-width="1.0"/>
<text x="107.16" y="242.40" font-size="7" text-anchor="middle" fill="#d8d8d8" font-weight="normal" stroke="#d8d8d8" stroke-width="0.3" >40</text>
<line x1="140.64" y1="232.50" x2="140.64" y2="235.50" stroke="#7a7a7a" stroke-width="1.0"/>
<text x="140.64" y="242.40" font-size="7" text-anchor="middle" fill="#d8d8d8" font-weight="normal" stroke="#d8d8d8" stroke-width="0.3" >60</text>
<line x1="174.12" y1="232.50" x2="174.12" y2="235.50" stroke="#7a7a7a" stroke-width="1.0"/>
<text x="174.12" y="242.40" font-size="7" text-anchor="middle" fill="#d8d8d8" font-weight="normal" stroke="#d8d8d8" stroke-width="0.3" >80</text>
<line x1="207.60" y1="232.50" x2="207.60" y2="235.50" stroke="#7a7a7a" stroke-width="1.0"/>
<text x="207.60" y="242.40" font-size="7" text-anchor="middle" fill="#d8d8d8" font-weight="normal" stroke="#d8d8d8" stroke-width="0.3" >100</text>
<rect x="40.20" y="65.20" width="167.40" height="167.30" fill="none" stroke="#7a7a7a" stroke-width="1.4"/>
<text x="114.40" y="62.20" font-size="7" text-anchor="middle" fill="#d8d8d8" font-weight="normal" stroke="#d8d8d8" stroke-width="0.3" id="t_lum">Luminance</text>
<polyline points="40.20,232.50 41.04,232.50 41.87,232.50 42.71,232.50 43.55,232.50 44.39,232.50 45.22,232.50 46.06,232.50 46.90,232.49 47.73,232.49 48.57,232.49 49.41,232.49 50.24,232.48 51.08,232.48 51.92,232.48 52.76,232.47 53.59,232.47 54.43,232.46 55.27,232.46 56.10,232.45 56.94,232.45 57.78,232.44 58.61,232.43 59.45,232.42 60.29,232.41 61.12,232.40 61.96,232.39 62.80,232.38 63.64,232.36 64.47,232.35 65.31,232.33 66.15,232.32 66.98,232.30 67.82,232.28 68.66,232.26 69.50,232.23 70.33,232.21 71.17,232.18 72.01,232.16 72.84,232.13 73.68,232.09 74.52,232.06 75.35,232.02 76.19,231.98 77.03,231.94 77.87,231.90 78.70,231.85 79.54,231.80 80.38,231.75 81.21,231.70 82.05,231.64 82.89,231.58 83.72,231.51 84.56,231.44 85.40,231.36 86.23,231.29 87.07,231.20 87.91,231.12 88.75,231.02 89.58,230.92 90.42,230.82 91.26,230.71 92.09,230.60 92.93,230.47 93.77,230.35 94.60,230.21 95.44,230.07 96.28,229.92 97.12,229.76 97.95,229.59 98.79,229.42 99.63,229.23 100.46,229.04 101.30,228.83 102.14,228.62 102.97,228.39 103.81,228.15 104.65,227.90 105.49,227.64 106.32,227.36 107.16,227.07 108.00,226.77 108.83,226.45 109.67,226.11 110.51,225.76 111.34,225.39 112.18,225.00 113.02,224.59 113.86,224.16 114.69,223.71 115.53,223.24 116.37,222.74 117.20,222.23 118.04,221.68 118.88,221.11 119.71,220.51 120.55,219.89 121.39,219.23 122.23,218.54 123.06,217.82 123.90,217.07 124.74,216.28 125.57,215.45 126.41,214.58 127.25,213.67 128.08,212.72 128.92,211.72 129.76,210.67 130.60,209.58 131.43,208.43 132.27,207.23 133.11,205.98 133.94,204.66 134.78,203.29 135.62,201.85 136.45,200.34 137.29,198.76 138.13,197.11 138.97,195.38 139.80,193.57 140.64,191.68 141.48,189.70 142.31,187.62 143.15,185.45 143.99,183.18 144.82,180.81 145.66,178.32 146.50,175.72 147.34,173.00 148.17,170.15 149.01,167.17 149.85,164.05 150.68,160.79 151.52,157.38 152.36,153.81 153.19,150.07 154.03,146.16 154.87,142.07 155.71,137.79 156.54,133.31 157.38,128.63 158.22,123.72 159.05,118.59 159.89,113.23 160.73,107.61 161.56,101.73 162.40,95.58 163.24,89.14 164.08,82.41 164.36,80.09 165.20,79.07 166.04,78.15 166.88,77.33 167.72,76.61 168.57,75.98 169.41,75.44 170.25,75.01 171.09,74.67 171.93,74.43 172.78,74.28 173.62,74.23 207.60,74.23" fill="none" stroke="#8c8c8c" stroke-width="1.1"/>
<polyline points="40.20,232.50 48.57,232.49 56.94,232.45 65.31,232.33 73.68,232.09 82.05,231.64 90.42,230.82 98.79,229.42 107.16,227.07 115.53,223.24 123.90,217.07 132.27,207.23 140.64,191.68 149.01,167.17 157.38,128.63 165.75,73.40 174.12,73.40 182.49,73.40 190.86,73.40 199.23,73.40 207.60,73.40" fill="none" stroke="#eeea48" stroke-width="1.45" stroke-linejoin="round"/>
<rect x="237.40" y="65.00" width="172.80" height="167.20" fill="#232323" />
<line x1="234.40" y1="232.20" x2="237.40" y2="232.20" stroke="#7a7a7a" stroke-width="1.0"/>
<text x="234.20" y="235.50" font-size="7" text-anchor="end" fill="#d8d8d8" font-weight="normal" stroke="#d8d8d8" stroke-width="0.3" >0</text>
<line x1="237.40" y1="211.30" x2="410.20" y2="211.30" stroke="#6e6e6e" stroke-width="1.2"/>
<line x1="234.40" y1="211.30" x2="237.40" y2="211.30" stroke="#7a7a7a" stroke-width="1.0"/>
<text x="234.50" y="214.60" font-size="7.5" text-anchor="end" fill="#d8d8d8" font-weight="normal" stroke="#d8d8d8" stroke-width="0.3" >0,1</text>
<line x1="237.40" y1="190.40" x2="410.20" y2="190.40" stroke="#6e6e6e" stroke-width="1.2"/>
<line x1="234.40" y1="190.40" x2="237.40" y2="190.40" stroke="#7a7a7a" stroke-width="1.0"/>
<text x="234.50" y="193.70" font-size="7.5" text-anchor="end" fill="#d8d8d8" font-weight="normal" stroke="#d8d8d8" stroke-width="0.3" >0,2</text>
<line x1="237.40" y1="169.50" x2="410.20" y2="169.50" stroke="#6e6e6e" stroke-width="1.2"/>
<line x1="234.40" y1="169.50" x2="237.40" y2="169.50" stroke="#7a7a7a" stroke-width="1.0"/>
<text x="234.50" y="172.80" font-size="7.5" text-anchor="end" fill="#d8d8d8" font-weight="normal" stroke="#d8d8d8" stroke-width="0.3" >0,3</text>
<line x1="237.40" y1="148.60" x2="410.20" y2="148.60" stroke="#6e6e6e" stroke-width="1.2"/>
<line x1="234.40" y1="148.60" x2="237.40" y2="148.60" stroke="#7a7a7a" stroke-width="1.0"/>
<text x="234.50" y="151.90" font-size="7.5" text-anchor="end" fill="#d8d8d8" font-weight="normal" stroke="#d8d8d8" stroke-width="0.3" >0,4</text>
<line x1="237.40" y1="127.70" x2="410.20" y2="127.70" stroke="#6e6e6e" stroke-width="1.2"/>
<line x1="234.40" y1="127.70" x2="237.40" y2="127.70" stroke="#7a7a7a" stroke-width="1.0"/>
<text x="234.50" y="131.00" font-size="7.5" text-anchor="end" fill="#d8d8d8" font-weight="normal" stroke="#d8d8d8" stroke-width="0.3" >0,5</text>
<line x1="237.40" y1="106.80" x2="410.20" y2="106.80" stroke="#6e6e6e" stroke-width="1.2"/>
<line x1="234.40" y1="106.80" x2="237.40" y2="106.80" stroke="#7a7a7a" stroke-width="1.0"/>
<text x="234.50" y="110.10" font-size="7.5" text-anchor="end" fill="#d8d8d8" font-weight="normal" stroke="#d8d8d8" stroke-width="0.3" >0,6</text>
<line x1="237.40" y1="85.90" x2="410.20" y2="85.90" stroke="#6e6e6e" stroke-width="1.2"/>
<line x1="234.40" y1="85.90" x2="237.40" y2="85.90" stroke="#7a7a7a" stroke-width="1.0"/>
<text x="234.50" y="89.20" font-size="7.5" text-anchor="end" fill="#d8d8d8" font-weight="normal" stroke="#d8d8d8" stroke-width="0.3" >0,7</text>
<line x1="234.40" y1="65.00" x2="237.40" y2="65.00" stroke="#7a7a7a" stroke-width="1.0"/>
<text x="234.50" y="68.30" font-size="7.5" text-anchor="end" fill="#d8d8d8" font-weight="normal" stroke="#d8d8d8" stroke-width="0.3" >0,8</text>
<line x1="237.40" y1="232.20" x2="237.40" y2="235.20" stroke="#7a7a7a" stroke-width="1.0"/>
<text x="237.40" y="242.10" font-size="7" text-anchor="middle" fill="#d8d8d8" font-weight="normal" stroke="#d8d8d8" stroke-width="0.3" >0</text>
<line x1="271.96" y1="232.20" x2="271.96" y2="235.20" stroke="#7a7a7a" stroke-width="1.0"/>
<text x="271.96" y="242.10" font-size="7" text-anchor="middle" fill="#d8d8d8" font-weight="normal" stroke="#d8d8d8" stroke-width="0.3" >20</text>
<line x1="306.52" y1="232.20" x2="306.52" y2="235.20" stroke="#7a7a7a" stroke-width="1.0"/>
<text x="306.52" y="242.10" font-size="7" text-anchor="middle" fill="#d8d8d8" font-weight="normal" stroke="#d8d8d8" stroke-width="0.3" >40</text>
<line x1="341.08" y1="232.20" x2="341.08" y2="235.20" stroke="#7a7a7a" stroke-width="1.0"/>
<text x="341.08" y="242.10" font-size="7" text-anchor="middle" fill="#d8d8d8" font-weight="normal" stroke="#d8d8d8" stroke-width="0.3" >60</text>
<line x1="375.64" y1="232.20" x2="375.64" y2="235.20" stroke="#7a7a7a" stroke-width="1.0"/>
<text x="375.64" y="242.10" font-size="7" text-anchor="middle" fill="#d8d8d8" font-weight="normal" stroke="#d8d8d8" stroke-width="0.3" >80</text>
<line x1="410.20" y1="232.20" x2="410.20" y2="235.20" stroke="#7a7a7a" stroke-width="1.0"/>
<text x="410.20" y="242.10" font-size="7" text-anchor="middle" fill="#d8d8d8" font-weight="normal" stroke="#d8d8d8" stroke-width="0.3" >100</text>
<rect x="237.40" y="65.00" width="172.80" height="167.20" fill="none" stroke="#7a7a7a" stroke-width="1.4"/>
<text x="317.70" y="62.20" font-size="7" text-anchor="middle" fill="#d8d8d8" font-weight="normal" stroke="#d8d8d8" stroke-width="0.3" id="t_eotf">EOTF</text>
<polyline points="237.40,232.20 238.26,231.16 239.13,230.11 239.99,229.06 240.86,228.02 241.72,226.98 242.58,225.93 243.45,224.88 244.31,223.84 245.18,222.79 246.04,221.75 246.90,220.70 247.77,219.66 248.63,218.62 249.50,217.57 250.36,216.52 251.22,215.48 252.09,214.44 252.95,213.39 253.82,212.34 254.68,211.30 255.54,210.26 256.41,209.21 257.27,208.16 258.14,207.12 259.00,206.07 259.86,205.03 260.73,203.99 261.59,202.94 262.46,201.90 263.32,200.85 264.18,199.81 265.05,198.76 265.91,197.72 266.78,196.67 267.64,195.63 268.50,194.58 269.37,193.54 270.23,192.49 271.10,191.44 271.96,190.40 272.82,189.35 273.69,188.31 274.55,187.27 275.42,186.22 276.28,185.18 277.14,184.13 278.01,183.09 278.87,182.04 279.74,181.00 280.60,179.95 281.46,178.91 282.33,177.86 283.19,176.82 284.06,175.77 284.92,174.73 285.78,173.68 286.65,172.63 287.51,171.59 288.38,170.55 289.24,169.50 290.10,168.46 290.97,167.41 291.83,166.37 292.70,165.32 293.56,164.27 294.42,163.23 295.29,162.19 296.15,161.14 297.02,160.09 297.88,159.05 298.74,158.00 299.61,156.96 300.47,155.92 301.34,154.87 302.20,153.82 303.06,152.78 303.93,151.73 304.79,150.69 305.66,149.65 306.52,148.60 307.38,147.56 308.25,146.51 309.11,145.47 309.98,144.42 310.84,143.38 311.70,142.33 312.57,141.28 313.43,140.24 314.30,139.19 315.16,138.15 316.02,137.11 316.89,136.06 317.75,135.01 318.62,133.97 319.48,132.93 320.34,131.88 321.21,130.84 322.07,129.79 322.94,128.75 323.80,127.70 324.66,126.66 325.53,125.61 326.39,124.57 327.26,123.52 328.12,122.47 328.98,121.43 329.85,120.39 330.71,119.34 331.58,118.30 332.44,117.25 333.30,116.21 334.17,115.16 335.03,114.12 335.90,113.07 336.76,112.03 337.62,110.98 338.49,109.94 339.35,108.89 340.22,107.85 341.08,106.80 341.94,105.75 342.81,104.71 343.67,103.67 344.54,102.62 345.40,101.57 346.26,100.53 347.13,99.49 347.99,98.44 348.86,97.40 349.72,96.35 350.58,95.31 351.45,94.26 352.31,93.22 353.18,92.17 354.04,91.12 354.90,90.08 355.77,89.03 356.63,87.99 357.50,86.95 358.36,85.90 359.22,84.86 360.09,83.81 360.95,82.77 361.82,81.72 362.68,80.68 363.54,79.63 364.41,78.59 365.27,77.54 366.14,77.09 367.00,76.95 367.86,76.82 368.73,76.71 369.59,76.62 370.46,76.53 371.32,76.47 372.18,76.41 373.05,76.37 373.91,76.35 374.78,76.33 375.64,76.33 376.50,76.33 377.37,76.33 378.23,76.33 379.10,76.33 379.96,76.33 380.82,76.33 381.69,76.33 382.55,76.33 383.42,76.33 384.28,76.33 385.14,76.33 386.01,76.33 386.87,76.33 387.74,76.33 388.60,76.33 389.46,76.33 390.33,76.33 391.19,76.33 392.06,76.33 392.92,76.33 393.78,76.33 394.65,76.33 395.51,76.33 396.38,76.33 397.24,76.33 398.10,76.33 398.97,76.33 399.83,76.33 400.70,76.33 401.56,76.33 402.42,76.33 403.29,76.33 404.15,76.33 405.02,76.33 405.88,76.33 406.74,76.33 407.61,76.33 408.47,76.33 409.34,76.33 410.20,76.33" fill="none" stroke="#8c8c8c" stroke-width="1.1"/>
<polyline points="237.40,232.20 246.04,221.75 254.68,211.30 263.32,200.85 271.96,190.40 280.60,179.95 289.24,169.50 297.88,159.05 306.52,148.60 315.16,138.15 323.80,127.70 332.44,117.25 341.08,106.80 349.72,96.35 358.36,85.90 367.00,75.45 375.64,75.35 384.28,75.35 392.92,75.35 401.56,75.35 410.20,75.35" fill="none" stroke="#eeea48" stroke-width="1.45" stroke-linejoin="round"/>
<rect x="445.00" y="55.60" width="211.30" height="176.60" fill="#232323" />
<line x1="442.00" y1="232.20" x2="445.00" y2="232.20" stroke="#7a7a7a" stroke-width="1.0"/>
<text x="441.80" y="235.40" font-size="7" text-anchor="end" fill="#d8d8d8" font-weight="normal" stroke="#d8d8d8" stroke-width="0.3" >0</text>
<line x1="445.00" y1="208.65" x2="656.30" y2="208.65" stroke="#6e6e6e" stroke-width="1.2"/>
<line x1="442.00" y1="208.65" x2="445.00" y2="208.65" stroke="#7a7a7a" stroke-width="1.0"/>
<text x="441.80" y="211.85" font-size="7" text-anchor="end" fill="#d8d8d8" font-weight="normal" stroke="#d8d8d8" stroke-width="0.3" >2</text>
<line x1="445.00" y1="185.11" x2="656.30" y2="185.11" stroke="#6e6e6e" stroke-width="1.2"/>
<line x1="442.00" y1="185.11" x2="445.00" y2="185.11" stroke="#7a7a7a" stroke-width="1.0"/>
<text x="441.80" y="188.31" font-size="7" text-anchor="end" fill="#d8d8d8" font-weight="normal" stroke="#d8d8d8" stroke-width="0.3" >4</text>
<line x1="445.00" y1="161.56" x2="656.30" y2="161.56" stroke="#6e6e6e" stroke-width="1.2"/>
<line x1="442.00" y1="161.56" x2="445.00" y2="161.56" stroke="#7a7a7a" stroke-width="1.0"/>
<text x="441.80" y="164.76" font-size="7" text-anchor="end" fill="#d8d8d8" font-weight="normal" stroke="#d8d8d8" stroke-width="0.3" >6</text>
<line x1="445.00" y1="138.01" x2="656.30" y2="138.01" stroke="#6e6e6e" stroke-width="1.2"/>
<line x1="442.00" y1="138.01" x2="445.00" y2="138.01" stroke="#7a7a7a" stroke-width="1.0"/>
<text x="441.80" y="141.21" font-size="7" text-anchor="end" fill="#d8d8d8" font-weight="normal" stroke="#d8d8d8" stroke-width="0.3" >8</text>
<line x1="445.00" y1="114.47" x2="656.30" y2="114.47" stroke="#6e6e6e" stroke-width="1.2"/>
<line x1="442.00" y1="114.47" x2="445.00" y2="114.47" stroke="#7a7a7a" stroke-width="1.0"/>
<text x="441.80" y="117.67" font-size="7" text-anchor="end" fill="#d8d8d8" font-weight="normal" stroke="#d8d8d8" stroke-width="0.3" >10</text>
<line x1="445.00" y1="90.92" x2="656.30" y2="90.92" stroke="#6e6e6e" stroke-width="1.2"/>
<line x1="442.00" y1="90.92" x2="445.00" y2="90.92" stroke="#7a7a7a" stroke-width="1.0"/>
<text x="441.80" y="94.12" font-size="7" text-anchor="end" fill="#d8d8d8" font-weight="normal" stroke="#d8d8d8" stroke-width="0.3" >12</text>
<line x1="445.00" y1="67.37" x2="656.30" y2="67.37" stroke="#6e6e6e" stroke-width="1.2"/>
<line x1="442.00" y1="67.37" x2="445.00" y2="67.37" stroke="#7a7a7a" stroke-width="1.0"/>
<text x="441.80" y="70.57" font-size="7" text-anchor="end" fill="#d8d8d8" font-weight="normal" stroke="#d8d8d8" stroke-width="0.3" >14</text>
<rect x="445.00" y="55.60" width="211.30" height="176.60" fill="none" stroke="#7a7a7a" stroke-width="1.4"/>
<text x="478.00" y="54.80" font-size="7.6" text-anchor="middle" fill="#e8e8e8" font-weight="normal" stroke="#e8e8e8" stroke-width="0.3" id="t_avg">Avg: 0,85</text>
<text x="545.70" y="53.00" font-size="7" text-anchor="middle" fill="#d8d8d8" font-weight="normal" stroke="#d8d8d8" stroke-width="0.3" id="t_d2k">DeltaE 2000</text>
<text x="623.70" y="54.80" font-size="7.6" text-anchor="middle" fill="#e8e8e8" font-weight="normal" stroke="#e8e8e8" stroke-width="0.3" id="t_max">Max: 3,26</text>
<rect x="446.40" y="193.94" width="7.4" height="38.26" fill="#141414"/>
<rect x="447.00" y="194.64" width="6.2" height="36.96" fill="#f4f4f4"/>
<rect x="448.60" y="194.64" width="3" height="36.96" fill="#fff" fill-opacity="0.10"/>
<rect x="447.00" y="194.64" width="6.2" height="1.2" fill="#fff" fill-opacity="0.14"/>
<rect x="455.56" y="216.78" width="7.4" height="15.42" fill="#141414"/>
<rect x="456.16" y="217.48" width="6.2" height="14.12" fill="#8c8c8c"/>
<rect x="457.76" y="217.48" width="3" height="14.12" fill="#fff" fill-opacity="0.10"/>
<rect x="456.16" y="217.48" width="6.2" height="1.2" fill="#fff" fill-opacity="0.14"/>
<rect x="464.72" y="218.78" width="7.4" height="13.42" fill="#141414"/>
<rect x="465.32" y="219.48" width="6.2" height="12.12" fill="#888888"/>
<rect x="466.92" y="219.48" width="3" height="12.12" fill="#fff" fill-opacity="0.10"/>
<rect x="465.32" y="219.48" width="6.2" height="1.2" fill="#fff" fill-opacity="0.14"/>
<rect x="473.88" y="217.84" width="7.4" height="14.36" fill="#141414"/>
<rect x="474.48" y="218.54" width="6.2" height="13.06" fill="#8a8a8a"/>
<rect x="476.08" y="218.54" width="3" height="13.06" fill="#fff" fill-opacity="0.10"/>
<rect x="474.48" y="218.54" width="6.2" height="1.2" fill="#fff" fill-opacity="0.14"/>
<rect x="483.04" y="215.96" width="7.4" height="16.24" fill="#141414"/>
<rect x="483.64" y="216.66" width="6.2" height="14.94" fill="#8e8e8e"/>
<rect x="485.24" y="216.66" width="3" height="14.94" fill="#fff" fill-opacity="0.10"/>
<rect x="483.64" y="216.66" width="6.2" height="1.2" fill="#fff" fill-opacity="0.14"/>
<rect x="492.20" y="218.78" width="7.4" height="13.42" fill="#141414"/>
<rect x="492.80" y="219.48" width="6.2" height="12.12" fill="#766c5e"/>
<rect x="494.40" y="219.48" width="3" height="12.12" fill="#fff" fill-opacity="0.10"/>
<rect x="492.80" y="219.48" width="6.2" height="1.2" fill="#fff" fill-opacity="0.14"/>
<rect x="501.36" y="227.85" width="7.4" height="4.35" fill="#141414"/>
<rect x="501.96" y="228.55" width="6.2" height="3.05" fill="#808080"/>
<rect x="503.56" y="228.55" width="3" height="3.05" fill="#fff" fill-opacity="0.10"/>
<rect x="501.96" y="228.55" width="6.2" height="1.2" fill="#fff" fill-opacity="0.14"/>
<rect x="510.52" y="225.73" width="7.4" height="6.47" fill="#141414"/>
<rect x="511.12" y="226.43" width="6.2" height="5.17" fill="#767a94"/>
<rect x="512.72" y="226.43" width="3" height="5.17" fill="#fff" fill-opacity="0.10"/>
<rect x="511.12" y="226.43" width="6.2" height="1.2" fill="#fff" fill-opacity="0.14"/>
<rect x="519.68" y="225.73" width="7.4" height="6.47" fill="#141414"/>
<rect x="520.28" y="226.43" width="6.2" height="5.17" fill="#767a64"/>
<rect x="521.88" y="226.43" width="3" height="5.17" fill="#fff" fill-opacity="0.10"/>
<rect x="520.28" y="226.43" width="6.2" height="1.2" fill="#fff" fill-opacity="0.14"/>
<rect x="528.84" y="227.26" width="7.4" height="4.94" fill="#141414"/>
<rect x="529.44" y="227.96" width="6.2" height="3.64" fill="#847a94"/>
<rect x="531.04" y="227.96" width="3" height="3.64" fill="#fff" fill-opacity="0.10"/>
<rect x="529.44" y="227.96" width="6.2" height="1.2" fill="#fff" fill-opacity="0.14"/>
<rect x="538.00" y="224.32" width="7.4" height="7.88" fill="#141414"/>
<rect x="538.60" y="225.02" width="6.2" height="6.58" fill="#7a8c8c"/>
<rect x="540.20" y="225.02" width="3" height="6.58" fill="#fff" fill-opacity="0.10"/>
<rect x="538.60" y="225.02" width="6.2" height="1.2" fill="#fff" fill-opacity="0.14"/>
<rect x="547.16" y="221.96" width="7.4" height="10.24" fill="#141414"/>
<rect x="547.76" y="222.66" width="6.2" height="8.94" fill="#968250"/>
<rect x="549.36" y="222.66" width="3" height="8.94" fill="#fff" fill-opacity="0.10"/>
<rect x="547.76" y="222.66" width="6.2" height="1.2" fill="#fff" fill-opacity="0.14"/>
<rect x="556.32" y="225.97" width="7.4" height="6.23" fill="#141414"/>
<rect x="556.92" y="226.67" width="6.2" height="4.93" fill="#6a6a94"/>
<rect x="558.52" y="226.67" width="3" height="4.93" fill="#fff" fill-opacity="0.10"/>
<rect x="556.92" y="226.67" width="6.2" height="1.2" fill="#fff" fill-opacity="0.14"/>
<rect x="565.48" y="227.97" width="7.4" height="4.23" fill="#141414"/>
<rect x="566.08" y="228.67" width="6.2" height="2.93" fill="#86706e"/>
<rect x="567.68" y="228.67" width="3" height="2.93" fill="#fff" fill-opacity="0.10"/>
<rect x="566.08" y="228.67" width="6.2" height="1.2" fill="#fff" fill-opacity="0.14"/>
<rect x="574.64" y="220.20" width="7.4" height="12.00" fill="#141414"/>
<rect x="575.24" y="220.90" width="6.2" height="10.70" fill="#6e6084"/>
<rect x="576.84" y="220.90" width="3" height="10.70" fill="#fff" fill-opacity="0.10"/>
<rect x="575.24" y="220.90" width="6.2" height="1.2" fill="#fff" fill-opacity="0.14"/>
<rect x="583.80" y="219.14" width="7.4" height="13.06" fill="#141414"/>
<rect x="584.40" y="219.84" width="6.2" height="11.76" fill="#8a9a66"/>
<rect x="586.00" y="219.84" width="3" height="11.76" fill="#fff" fill-opacity="0.10"/>
<rect x="584.40" y="219.84" width="6.2" height="1.2" fill="#fff" fill-opacity="0.14"/>
<rect x="592.96" y="224.91" width="7.4" height="7.29" fill="#141414"/>
<rect x="593.56" y="225.61" width="6.2" height="5.99" fill="#9a9058"/>
<rect x="595.16" y="225.61" width="3" height="5.99" fill="#fff" fill-opacity="0.10"/>
<rect x="593.56" y="225.61" width="6.2" height="1.2" fill="#fff" fill-opacity="0.14"/>
<rect x="602.12" y="229.15" width="7.4" height="3.05" fill="#141414"/>
<rect x="602.72" y="229.85" width="6.2" height="1.75" fill="#58588c"/>
<rect x="604.32" y="229.85" width="3" height="1.75" fill="#fff" fill-opacity="0.10"/>
<rect x="602.72" y="229.85" width="6.2" height="1.2" fill="#fff" fill-opacity="0.14"/>
<rect x="611.28" y="219.96" width="7.4" height="12.24" fill="#141414"/>
<rect x="611.88" y="220.66" width="6.2" height="10.94" fill="#86967c"/>
<rect x="613.48" y="220.66" width="3" height="10.94" fill="#fff" fill-opacity="0.10"/>
<rect x="611.88" y="220.66" width="6.2" height="1.2" fill="#fff" fill-opacity="0.14"/>
<rect x="620.44" y="227.85" width="7.4" height="4.35" fill="#141414"/>
<rect x="621.04" y="228.55" width="6.2" height="3.05" fill="#866e6e"/>
<rect x="622.64" y="228.55" width="3" height="3.05" fill="#fff" fill-opacity="0.10"/>
<rect x="621.04" y="228.55" width="6.2" height="1.2" fill="#fff" fill-opacity="0.14"/>
<rect x="629.60" y="224.55" width="7.4" height="7.65" fill="#141414"/>
<rect x="630.20" y="225.25" width="6.2" height="6.35" fill="#9c9658"/>
<rect x="631.80" y="225.25" width="3" height="6.35" fill="#fff" fill-opacity="0.10"/>
<rect x="630.20" y="225.25" width="6.2" height="1.2" fill="#fff" fill-opacity="0.14"/>
<rect x="638.76" y="227.85" width="7.4" height="4.35" fill="#141414"/>
<rect x="639.36" y="228.55" width="6.2" height="3.05" fill="#8c7684"/>
<rect x="640.96" y="228.55" width="3" height="3.05" fill="#fff" fill-opacity="0.10"/>
<rect x="639.36" y="228.55" width="6.2" height="1.2" fill="#fff" fill-opacity="0.14"/>
<rect x="647.92" y="222.91" width="7.4" height="9.29" fill="#141414"/>
<rect x="648.52" y="223.61" width="6.2" height="7.99" fill="#7896ac"/>
<rect x="650.12" y="223.61" width="3" height="7.99" fill="#fff" fill-opacity="0.10"/>
<rect x="648.52" y="223.61" width="6.2" height="1.2" fill="#fff" fill-opacity="0.14"/>
<rect x="447.0" y="213.36" width="2.4" height="18.24" fill="url(#wb)"/>
<line x1="23.60" y1="543.00" x2="26.60" y2="543.00" stroke="#7a7a7a" stroke-width="1.0"/>
<text x="23.40" y="546.40" font-size="7" text-anchor="end" fill="#d8d8d8" font-weight="normal" stroke="#d8d8d8" stroke-width="0.3" >0</text>
<line x1="26.60" y1="543.00" x2="26.60" y2="546.00" stroke="#7a7a7a" stroke-width="1.0"/>
<text x="26.60" y="554.20" font-size="7" text-anchor="middle" fill="#d8d8d8" font-weight="normal" stroke="#d8d8d8" stroke-width="0.3" >0</text>
<line x1="23.60" y1="522.53" x2="26.60" y2="522.53" stroke="#7a7a7a" stroke-width="1.0"/>
<text x="23.70" y="525.93" font-size="7.5" text-anchor="end" fill="#d8d8d8" font-weight="normal" stroke="#d8d8d8" stroke-width="0.3" >0,05</text>
<line x1="52.50" y1="543.00" x2="52.50" y2="546.00" stroke="#7a7a7a" stroke-width="1.0"/>
<text x="52.50" y="554.20" font-size="7.5" text-anchor="middle" fill="#d8d8d8" font-weight="normal" stroke="#d8d8d8" stroke-width="0.3" >0,05</text>
<line x1="23.60" y1="502.07" x2="26.60" y2="502.07" stroke="#7a7a7a" stroke-width="1.0"/>
<text x="23.70" y="505.47" font-size="7.5" text-anchor="end" fill="#d8d8d8" font-weight="normal" stroke="#d8d8d8" stroke-width="0.3" >0,1</text>
<line x1="78.40" y1="543.00" x2="78.40" y2="546.00" stroke="#7a7a7a" stroke-width="1.0"/>
<text x="78.40" y="554.20" font-size="7.5" text-anchor="middle" fill="#d8d8d8" font-weight="normal" stroke="#d8d8d8" stroke-width="0.3" >0,1</text>
<line x1="23.60" y1="481.60" x2="26.60" y2="481.60" stroke="#7a7a7a" stroke-width="1.0"/>
<text x="23.70" y="485.00" font-size="7.5" text-anchor="end" fill="#d8d8d8" font-weight="normal" stroke="#d8d8d8" stroke-width="0.3" >0,15</text>
<line x1="104.30" y1="543.00" x2="104.30" y2="546.00" stroke="#7a7a7a" stroke-width="1.0"/>
<text x="104.30" y="554.20" font-size="7.5" text-anchor="middle" fill="#d8d8d8" font-weight="normal" stroke="#d8d8d8" stroke-width="0.3" >0,15</text>
<line x1="23.60" y1="461.13" x2="26.60" y2="461.13" stroke="#7a7a7a" stroke-width="1.0"/>
<text x="23.70" y="464.53" font-size="7.5" text-anchor="end" fill="#d8d8d8" font-weight="normal" stroke="#d8d8d8" stroke-width="0.3" >0,2</text>
<line x1="130.20" y1="543.00" x2="130.20" y2="546.00" stroke="#7a7a7a" stroke-width="1.0"/>
<text x="130.20" y="554.20" font-size="7.5" text-anchor="middle" fill="#d8d8d8" font-weight="normal" stroke="#d8d8d8" stroke-width="0.3" >0,2</text>
<line x1="23.60" y1="440.67" x2="26.60" y2="440.67" stroke="#7a7a7a" stroke-width="1.0"/>
<text x="23.70" y="444.07" font-size="7.5" text-anchor="end" fill="#d8d8d8" font-weight="normal" stroke="#d8d8d8" stroke-width="0.3" >0,25</text>
<line x1="156.10" y1="543.00" x2="156.10" y2="546.00" stroke="#7a7a7a" stroke-width="1.0"/>
<text x="156.10" y="554.20" font-size="7.5" text-anchor="middle" fill="#d8d8d8" font-weight="normal" stroke="#d8d8d8" stroke-width="0.3" >0,25</text>
<line x1="23.60" y1="420.20" x2="26.60" y2="420.20" stroke="#7a7a7a" stroke-width="1.0"/>
<text x="23.70" y="423.60" font-size="7.5" text-anchor="end" fill="#d8d8d8" font-weight="normal" stroke="#d8d8d8" stroke-width="0.3" >0,3</text>
<line x1="182.00" y1="543.00" x2="182.00" y2="546.00" stroke="#7a7a7a" stroke-width="1.0"/>
<text x="182.00" y="554.20" font-size="7.5" text-anchor="middle" fill="#d8d8d8" font-weight="normal" stroke="#d8d8d8" stroke-width="0.3" >0,3</text>
<line x1="23.60" y1="399.73" x2="26.60" y2="399.73" stroke="#7a7a7a" stroke-width="1.0"/>
<text x="23.70" y="403.13" font-size="7.5" text-anchor="end" fill="#d8d8d8" font-weight="normal" stroke="#d8d8d8" stroke-width="0.3" >0,35</text>
<line x1="207.90" y1="543.00" x2="207.90" y2="546.00" stroke="#7a7a7a" stroke-width="1.0"/>
<text x="207.90" y="554.20" font-size="7.5" text-anchor="middle" fill="#d8d8d8" font-weight="normal" stroke="#d8d8d8" stroke-width="0.3" >0,35</text>
<line x1="23.60" y1="379.27" x2="26.60" y2="379.27" stroke="#7a7a7a" stroke-width="1.0"/>
<text x="23.70" y="382.67" font-size="7.5" text-anchor="end" fill="#d8d8d8" font-weight="normal" stroke="#d8d8d8" stroke-width="0.3" >0,4</text>
<line x1="233.80" y1="543.00" x2="233.80" y2="546.00" stroke="#7a7a7a" stroke-width="1.0"/>
<text x="233.80" y="554.20" font-size="7.5" text-anchor="middle" fill="#d8d8d8" font-weight="normal" stroke="#d8d8d8" stroke-width="0.3" >0,4</text>
<line x1="23.60" y1="358.80" x2="26.60" y2="358.80" stroke="#7a7a7a" stroke-width="1.0"/>
<text x="23.70" y="362.20" font-size="7.5" text-anchor="end" fill="#d8d8d8" font-weight="normal" stroke="#d8d8d8" stroke-width="0.3" >0,45</text>
<line x1="259.70" y1="543.00" x2="259.70" y2="546.00" stroke="#7a7a7a" stroke-width="1.0"/>
<text x="259.70" y="554.20" font-size="7.5" text-anchor="middle" fill="#d8d8d8" font-weight="normal" stroke="#d8d8d8" stroke-width="0.3" >0,45</text>
<line x1="23.60" y1="338.33" x2="26.60" y2="338.33" stroke="#7a7a7a" stroke-width="1.0"/>
<text x="23.70" y="341.73" font-size="7.5" text-anchor="end" fill="#d8d8d8" font-weight="normal" stroke="#d8d8d8" stroke-width="0.3" >0,5</text>
<line x1="285.60" y1="543.00" x2="285.60" y2="546.00" stroke="#7a7a7a" stroke-width="1.0"/>
<text x="285.60" y="554.20" font-size="7.5" text-anchor="middle" fill="#d8d8d8" font-weight="normal" stroke="#d8d8d8" stroke-width="0.3" >0,5</text>
<line x1="23.60" y1="317.87" x2="26.60" y2="317.87" stroke="#7a7a7a" stroke-width="1.0"/>
<text x="23.70" y="321.27" font-size="7.5" text-anchor="end" fill="#d8d8d8" font-weight="normal" stroke="#d8d8d8" stroke-width="0.3" >0,55</text>
<line x1="311.50" y1="543.00" x2="311.50" y2="546.00" stroke="#7a7a7a" stroke-width="1.0"/>
<text x="311.50" y="554.20" font-size="7.5" text-anchor="middle" fill="#d8d8d8" font-weight="normal" stroke="#d8d8d8" stroke-width="0.3" >0,55</text>
<rect x="26.60" y="297.40" width="310.80" height="245.60" fill="none" stroke="#7a7a7a" stroke-width="1.4"/>
<text x="173.90" y="294.90" font-size="7" text-anchor="middle" fill="#d8d8d8" font-weight="normal" stroke="#d8d8d8" stroke-width="0.3" id="t_cie26">CIE 1976 u'v'</text>
<rect x="52.10" y="298.80" width="6.8" height="6.8" fill="none" stroke="#ffffff" stroke-opacity="0.72" stroke-width="1.05"/>
<rect x="60.50" y="304.20" width="6.8" height="6.8" fill="none" stroke="#ffffff" stroke-opacity="0.72" stroke-width="1.05"/>
<rect x="71.30" y="311.70" width="6.8" height="6.8" fill="none" stroke="#ffffff" stroke-opacity="0.72" stroke-width="1.05"/>
<rect x="84.30" y="320.30" width="6.8" height="6.8" fill="none" stroke="#ffffff" stroke-opacity="0.72" stroke-width="1.05"/>
<rect x="101.10" y="331.40" width="6.8" height="6.8" fill="none" stroke="#ffffff" stroke-opacity="0.72" stroke-width="1.05"/>
<rect x="131.60" y="307.10" width="6.8" height="6.8" fill="none" stroke="#ffffff" stroke-opacity="0.72" stroke-width="1.05"/>
<rect x="132.20" y="313.40" width="6.8" height="6.8" fill="none" stroke="#ffffff" stroke-opacity="0.72" stroke-width="1.05"/>
<rect x="131.30" y="320.50" width="6.8" height="6.8" fill="none" stroke="#ffffff" stroke-opacity="0.72" stroke-width="1.05"/>
<rect x="130.00" y="328.30" width="6.8" height="6.8" fill="none" stroke="#ffffff" stroke-opacity="0.72" stroke-width="1.05"/>
<rect x="127.20" y="336.40" width="6.8" height="6.8" fill="none" stroke="#ffffff" stroke-opacity="0.72" stroke-width="1.05"/>
<rect x="310.90" y="327.70" width="6.8" height="6.8" fill="none" stroke="#ffffff" stroke-opacity="0.72" stroke-width="1.05"/>
<rect x="268.40" y="332.30" width="6.8" height="6.8" fill="none" stroke="#ffffff" stroke-opacity="0.72" stroke-width="1.05"/>
<rect x="225.70" y="336.90" width="6.8" height="6.8" fill="none" stroke="#ffffff" stroke-opacity="0.72" stroke-width="1.05"/>
<rect x="191.40" y="340.00" width="6.8" height="6.8" fill="none" stroke="#ffffff" stroke-opacity="0.72" stroke-width="1.05"/>
<rect x="156.70" y="344.20" width="6.8" height="6.8" fill="none" stroke="#ffffff" stroke-opacity="0.72" stroke-width="1.05"/>
<rect x="67.80" y="352.90" width="6.8" height="6.8" fill="none" stroke="#ffffff" stroke-opacity="0.72" stroke-width="1.05"/>
<rect x="78.40" y="352.50" width="6.8" height="6.8" fill="none" stroke="#ffffff" stroke-opacity="0.72" stroke-width="1.05"/>
<rect x="89.60" y="351.50" width="6.8" height="6.8" fill="none" stroke="#ffffff" stroke-opacity="0.72" stroke-width="1.05"/>
<rect x="102.20" y="349.90" width="6.8" height="6.8" fill="none" stroke="#ffffff" stroke-opacity="0.72" stroke-width="1.05"/>
<rect x="112.60" y="349.20" width="6.8" height="6.8" fill="none" stroke="#ffffff" stroke-opacity="0.72" stroke-width="1.05"/>
<rect x="105.30" y="487.90" width="6.8" height="6.8" fill="none" stroke="#ffffff" stroke-opacity="0.72" stroke-width="1.05"/>
<rect x="112.40" y="442.30" width="6.8" height="6.8" fill="none" stroke="#ffffff" stroke-opacity="0.72" stroke-width="1.05"/>
<rect x="116.80" y="409.00" width="6.8" height="6.8" fill="none" stroke="#ffffff" stroke-opacity="0.72" stroke-width="1.05"/>
<rect x="121.10" y="383.30" width="6.8" height="6.8" fill="none" stroke="#ffffff" stroke-opacity="0.72" stroke-width="1.05"/>
<rect x="123.20" y="363.00" width="6.8" height="6.8" fill="none" stroke="#ffffff" stroke-opacity="0.72" stroke-width="1.05"/>
<rect x="212.40" y="404.80" width="6.8" height="6.8" fill="none" stroke="#ffffff" stroke-opacity="0.72" stroke-width="1.05"/>
<rect x="188.50" y="388.30" width="6.8" height="6.8" fill="none" stroke="#ffffff" stroke-opacity="0.72" stroke-width="1.05"/>
<rect x="168.80" y="375.90" width="6.8" height="6.8" fill="none" stroke="#ffffff" stroke-opacity="0.72" stroke-width="1.05"/>
<rect x="151.00" y="364.10" width="6.8" height="6.8" fill="none" stroke="#ffffff" stroke-opacity="0.72" stroke-width="1.05"/>
<rect x="137.30" y="354.20" width="6.8" height="6.8" fill="none" stroke="#ffffff" stroke-opacity="0.72" stroke-width="1.05"/>
<rect x="125.30" y="347.40" width="7.0" height="7.0" fill="#f4f4f4" stroke="#2e2e2e" stroke-width="1.3"/>
<circle cx="128.80" cy="350.90" r="1.9" fill="none" stroke="#8a8a8a" stroke-width="0.9"/>
<circle cx="80.50" cy="306.90" r="2.2" fill="#000" fill-opacity="0.6" stroke="#000" stroke-opacity="0.5" stroke-width="0.9"/>
<circle cx="82.40" cy="314.30" r="2.1" fill="#6a6a6a" fill-opacity="0.85" stroke="#000" stroke-opacity="0.75" stroke-width="0.9"/>
<circle cx="91.10" cy="322.70" r="2.1" fill="#6a6a6a" fill-opacity="0.85" stroke="#000" stroke-opacity="0.75" stroke-width="0.9"/>
<circle cx="105.90" cy="333.40" r="2.1" fill="#6a6a6a" fill-opacity="0.85" stroke="#000" stroke-opacity="0.75" stroke-width="0.9"/>
<circle cx="136.90" cy="312.50" r="2.1" fill="#6a6a6a" fill-opacity="0.85" stroke="#000" stroke-opacity="0.75" stroke-width="0.9"/>
<circle cx="135.30" cy="316.50" r="2.1" fill="#6a6a6a" fill-opacity="0.85" stroke="#000" stroke-opacity="0.75" stroke-width="0.9"/>
<circle cx="134.60" cy="323.90" r="2.1" fill="#6a6a6a" fill-opacity="0.85" stroke="#000" stroke-opacity="0.75" stroke-width="0.9"/>
<circle cx="133.30" cy="331.70" r="2.1" fill="#6a6a6a" fill-opacity="0.85" stroke="#000" stroke-opacity="0.75" stroke-width="0.9"/>
<circle cx="129.30" cy="339.70" r="2.1" fill="#6a6a6a" fill-opacity="0.85" stroke="#000" stroke-opacity="0.75" stroke-width="0.9"/>
<circle cx="279.80" cy="327.10" r="2.2" fill="#000" fill-opacity="0.6" stroke="#000" stroke-opacity="0.5" stroke-width="0.9"/>
<circle cx="271.80" cy="335.70" r="2.1" fill="#6a6a6a" fill-opacity="0.85" stroke="#000" stroke-opacity="0.75" stroke-width="0.9"/>
<circle cx="229.10" cy="340.30" r="1.6" fill="#505050" stroke="#202020" stroke-width="0.7"/>
<circle cx="193.80" cy="343.40" r="2.1" fill="#6a6a6a" fill-opacity="0.85" stroke="#000" stroke-opacity="0.75" stroke-width="0.9"/>
<circle cx="160.10" cy="347.60" r="2.1" fill="#6a6a6a" fill-opacity="0.85" stroke="#000" stroke-opacity="0.75" stroke-width="0.9"/>
<circle cx="91.60" cy="354.40" r="2.1" fill="#6a6a6a" fill-opacity="0.85" stroke="#000" stroke-opacity="0.75" stroke-width="0.9"/>
<circle cx="96.00" cy="354.60" r="2.1" fill="#6a6a6a" fill-opacity="0.85" stroke="#000" stroke-opacity="0.75" stroke-width="0.9"/>
<circle cx="105.60" cy="351.40" r="2.1" fill="#6a6a6a" fill-opacity="0.85" stroke="#000" stroke-opacity="0.75" stroke-width="0.9"/>
<circle cx="117.70" cy="352.40" r="2.1" fill="#6a6a6a" fill-opacity="0.85" stroke="#000" stroke-opacity="0.75" stroke-width="0.9"/>
<circle cx="117.60" cy="480.20" r="2.2" fill="#000" fill-opacity="0.6" stroke="#000" stroke-opacity="0.5" stroke-width="0.9"/>
<circle cx="115.80" cy="444.30" r="1.6" fill="#505050" stroke="#202020" stroke-width="0.7"/>
<circle cx="120.80" cy="411.00" r="1.6" fill="#505050" stroke="#202020" stroke-width="0.7"/>
<circle cx="124.50" cy="385.70" r="2.1" fill="#6a6a6a" fill-opacity="0.85" stroke="#000" stroke-opacity="0.75" stroke-width="0.9"/>
<circle cx="126.40" cy="366.20" r="2.1" fill="#6a6a6a" fill-opacity="0.85" stroke="#000" stroke-opacity="0.75" stroke-width="0.9"/>
<circle cx="203.70" cy="400.20" r="2.2" fill="#000" fill-opacity="0.6" stroke="#000" stroke-opacity="0.5" stroke-width="0.9"/>
<circle cx="189.70" cy="393.50" r="2.1" fill="#6a6a6a" fill-opacity="0.85" stroke="#000" stroke-opacity="0.75" stroke-width="0.9"/>
<circle cx="172.20" cy="379.30" r="2.1" fill="#6a6a6a" fill-opacity="0.85" stroke="#000" stroke-opacity="0.75" stroke-width="0.9"/>
<circle cx="152.60" cy="367.70" r="2.1" fill="#6a6a6a" fill-opacity="0.85" stroke="#000" stroke-opacity="0.75" stroke-width="0.9"/>
<circle cx="140.70" cy="357.30" r="2.1" fill="#6a6a6a" fill-opacity="0.85" stroke="#000" stroke-opacity="0.75" stroke-width="0.9"/>
<rect x="244.5" y="452.5" width="90.6" height="69.4" fill="#232323"/>
<polygon points="244.5,454.5 269.5,452.5 335.1,500.9 335.1,521.9" fill="url(#ol)"/>
<polygon points="244.5,454.5 335.1,521.9 244.5,521.9" fill="url(#yl)"/>
<polyline points="244.5,452.5 335.1,452.5 335.1,521.9" fill="none" stroke="#7a7a7a" stroke-width="1.3"/>
<rect x="286.0" y="483.9" width="6.6" height="6.6" fill="none" stroke="#f4f4f4" stroke-width="1"/>
<circle cx="289.3" cy="506.4" r="2.1" fill="#707030" stroke="#222" stroke-width="0.9"/>
<text x="188.00" y="536.80" font-size="12" text-anchor="start" fill="#ececec" font-weight="normal" id="t_rgb1" textLength="134.6" lengthAdjust="spacingAndGlyphs">RGB Triplet: 126, 126, 16</text>
<line x1="368.30" y1="543.00" x2="371.30" y2="543.00" stroke="#7a7a7a" stroke-width="1.0"/>
<text x="368.10" y="546.40" font-size="7" text-anchor="end" fill="#d8d8d8" font-weight="normal" stroke="#d8d8d8" stroke-width="0.3" >0</text>
<line x1="371.30" y1="543.00" x2="371.30" y2="546.00" stroke="#7a7a7a" stroke-width="1.0"/>
<text x="371.30" y="554.20" font-size="7" text-anchor="middle" fill="#d8d8d8" font-weight="normal" stroke="#d8d8d8" stroke-width="0.3" >0</text>
<line x1="368.30" y1="522.53" x2="371.30" y2="522.53" stroke="#7a7a7a" stroke-width="1.0"/>
<text x="368.40" y="525.93" font-size="7.5" text-anchor="end" fill="#d8d8d8" font-weight="normal" stroke="#d8d8d8" stroke-width="0.3" >0,05</text>
<line x1="397.19" y1="543.00" x2="397.19" y2="546.00" stroke="#7a7a7a" stroke-width="1.0"/>
<text x="397.19" y="554.20" font-size="7.5" text-anchor="middle" fill="#d8d8d8" font-weight="normal" stroke="#d8d8d8" stroke-width="0.3" >0,05</text>
<line x1="368.30" y1="502.07" x2="371.30" y2="502.07" stroke="#7a7a7a" stroke-width="1.0"/>
<text x="368.40" y="505.47" font-size="7.5" text-anchor="end" fill="#d8d8d8" font-weight="normal" stroke="#d8d8d8" stroke-width="0.3" >0,1</text>
<line x1="423.08" y1="543.00" x2="423.08" y2="546.00" stroke="#7a7a7a" stroke-width="1.0"/>
<text x="423.08" y="554.20" font-size="7.5" text-anchor="middle" fill="#d8d8d8" font-weight="normal" stroke="#d8d8d8" stroke-width="0.3" >0,1</text>
<line x1="368.30" y1="481.60" x2="371.30" y2="481.60" stroke="#7a7a7a" stroke-width="1.0"/>
<text x="368.40" y="485.00" font-size="7.5" text-anchor="end" fill="#d8d8d8" font-weight="normal" stroke="#d8d8d8" stroke-width="0.3" >0,15</text>
<line x1="448.98" y1="543.00" x2="448.98" y2="546.00" stroke="#7a7a7a" stroke-width="1.0"/>
<text x="448.98" y="554.20" font-size="7.5" text-anchor="middle" fill="#d8d8d8" font-weight="normal" stroke="#d8d8d8" stroke-width="0.3" >0,15</text>
<line x1="368.30" y1="461.13" x2="371.30" y2="461.13" stroke="#7a7a7a" stroke-width="1.0"/>
<text x="368.40" y="464.53" font-size="7.5" text-anchor="end" fill="#d8d8d8" font-weight="normal" stroke="#d8d8d8" stroke-width="0.3" >0,2</text>
<line x1="474.87" y1="543.00" x2="474.87" y2="546.00" stroke="#7a7a7a" stroke-width="1.0"/>
<text x="474.87" y="554.20" font-size="7.5" text-anchor="middle" fill="#d8d8d8" font-weight="normal" stroke="#d8d8d8" stroke-width="0.3" >0,2</text>
<line x1="368.30" y1="440.67" x2="371.30" y2="440.67" stroke="#7a7a7a" stroke-width="1.0"/>
<text x="368.40" y="444.07" font-size="7.5" text-anchor="end" fill="#d8d8d8" font-weight="normal" stroke="#d8d8d8" stroke-width="0.3" >0,25</text>
<line x1="500.76" y1="543.00" x2="500.76" y2="546.00" stroke="#7a7a7a" stroke-width="1.0"/>
<text x="500.76" y="554.20" font-size="7.5" text-anchor="middle" fill="#d8d8d8" font-weight="normal" stroke="#d8d8d8" stroke-width="0.3" >0,25</text>
<line x1="368.30" y1="420.20" x2="371.30" y2="420.20" stroke="#7a7a7a" stroke-width="1.0"/>
<text x="368.40" y="423.60" font-size="7.5" text-anchor="end" fill="#d8d8d8" font-weight="normal" stroke="#d8d8d8" stroke-width="0.3" >0,3</text>
<line x1="526.65" y1="543.00" x2="526.65" y2="546.00" stroke="#7a7a7a" stroke-width="1.0"/>
<text x="526.65" y="554.20" font-size="7.5" text-anchor="middle" fill="#d8d8d8" font-weight="normal" stroke="#d8d8d8" stroke-width="0.3" >0,3</text>
<line x1="368.30" y1="399.73" x2="371.30" y2="399.73" stroke="#7a7a7a" stroke-width="1.0"/>
<text x="368.40" y="403.13" font-size="7.5" text-anchor="end" fill="#d8d8d8" font-weight="normal" stroke="#d8d8d8" stroke-width="0.3" >0,35</text>
<line x1="552.54" y1="543.00" x2="552.54" y2="546.00" stroke="#7a7a7a" stroke-width="1.0"/>
<text x="552.54" y="554.20" font-size="7.5" text-anchor="middle" fill="#d8d8d8" font-weight="normal" stroke="#d8d8d8" stroke-width="0.3" >0,35</text>
<line x1="368.30" y1="379.27" x2="371.30" y2="379.27" stroke="#7a7a7a" stroke-width="1.0"/>
<text x="368.40" y="382.67" font-size="7.5" text-anchor="end" fill="#d8d8d8" font-weight="normal" stroke="#d8d8d8" stroke-width="0.3" >0,4</text>
<line x1="578.43" y1="543.00" x2="578.43" y2="546.00" stroke="#7a7a7a" stroke-width="1.0"/>
<text x="578.43" y="554.20" font-size="7.5" text-anchor="middle" fill="#d8d8d8" font-weight="normal" stroke="#d8d8d8" stroke-width="0.3" >0,4</text>
<line x1="368.30" y1="358.80" x2="371.30" y2="358.80" stroke="#7a7a7a" stroke-width="1.0"/>
<text x="368.40" y="362.20" font-size="7.5" text-anchor="end" fill="#d8d8d8" font-weight="normal" stroke="#d8d8d8" stroke-width="0.3" >0,45</text>
<line x1="604.33" y1="543.00" x2="604.33" y2="546.00" stroke="#7a7a7a" stroke-width="1.0"/>
<text x="604.33" y="554.20" font-size="7.5" text-anchor="middle" fill="#d8d8d8" font-weight="normal" stroke="#d8d8d8" stroke-width="0.3" >0,45</text>
<line x1="368.30" y1="338.33" x2="371.30" y2="338.33" stroke="#7a7a7a" stroke-width="1.0"/>
<text x="368.40" y="341.73" font-size="7.5" text-anchor="end" fill="#d8d8d8" font-weight="normal" stroke="#d8d8d8" stroke-width="0.3" >0,5</text>
<line x1="630.22" y1="543.00" x2="630.22" y2="546.00" stroke="#7a7a7a" stroke-width="1.0"/>
<text x="630.22" y="554.20" font-size="7.5" text-anchor="middle" fill="#d8d8d8" font-weight="normal" stroke="#d8d8d8" stroke-width="0.3" >0,5</text>
<line x1="368.30" y1="317.87" x2="371.30" y2="317.87" stroke="#7a7a7a" stroke-width="1.0"/>
<text x="368.40" y="321.27" font-size="7.5" text-anchor="end" fill="#d8d8d8" font-weight="normal" stroke="#d8d8d8" stroke-width="0.3" >0,55</text>
<line x1="656.11" y1="543.00" x2="656.11" y2="546.00" stroke="#7a7a7a" stroke-width="1.0"/>
<text x="656.11" y="554.20" font-size="7.5" text-anchor="middle" fill="#d8d8d8" font-weight="normal" stroke="#d8d8d8" stroke-width="0.3" >0,55</text>
<rect x="371.30" y="297.40" width="310.70" height="245.60" fill="none" stroke="#7a7a7a" stroke-width="1.4"/>
<text x="518.20" y="294.90" font-size="7" text-anchor="middle" fill="#d8d8d8" font-weight="normal" stroke="#d8d8d8" stroke-width="0.3" id="t_cie371">CIE 1976 u'v'</text>
<rect x="417.80" y="302.30" width="6.8" height="6.8" fill="none" stroke="#ffffff" stroke-opacity="0.72" stroke-width="1.05"/>
<rect x="424.50" y="309.50" width="6.8" height="6.8" fill="none" stroke="#ffffff" stroke-opacity="0.72" stroke-width="1.05"/>
<rect x="433.60" y="316.20" width="6.8" height="6.8" fill="none" stroke="#ffffff" stroke-opacity="0.72" stroke-width="1.05"/>
<rect x="443.20" y="324.80" width="6.8" height="6.8" fill="none" stroke="#ffffff" stroke-opacity="0.72" stroke-width="1.05"/>
<rect x="456.10" y="334.60" width="6.8" height="6.8" fill="none" stroke="#ffffff" stroke-opacity="0.72" stroke-width="1.05"/>
<rect x="473.00" y="308.50" width="6.8" height="6.8" fill="none" stroke="#ffffff" stroke-opacity="0.72" stroke-width="1.05"/>
<rect x="472.80" y="314.10" width="6.8" height="6.8" fill="none" stroke="#ffffff" stroke-opacity="0.72" stroke-width="1.05"/>
<rect x="470.20" y="320.60" width="6.8" height="6.8" fill="none" stroke="#ffffff" stroke-opacity="0.72" stroke-width="1.05"/>
<rect x="470.00" y="327.60" width="6.8" height="6.8" fill="none" stroke="#ffffff" stroke-opacity="0.72" stroke-width="1.05"/>
<rect x="470.10" y="336.30" width="6.8" height="6.8" fill="none" stroke="#ffffff" stroke-opacity="0.72" stroke-width="1.05"/>
<rect x="624.80" y="324.20" width="6.8" height="6.8" fill="none" stroke="#ffffff" stroke-opacity="0.72" stroke-width="1.05"/>
<rect x="589.50" y="329.70" width="6.8" height="6.8" fill="none" stroke="#ffffff" stroke-opacity="0.72" stroke-width="1.05"/>
<rect x="556.40" y="334.10" width="6.8" height="6.8" fill="none" stroke="#ffffff" stroke-opacity="0.72" stroke-width="1.05"/>
<rect x="526.70" y="338.10" width="6.8" height="6.8" fill="none" stroke="#ffffff" stroke-opacity="0.72" stroke-width="1.05"/>
<rect x="496.10" y="343.30" width="6.8" height="6.8" fill="none" stroke="#ffffff" stroke-opacity="0.72" stroke-width="1.05"/>
<rect x="430.20" y="352.70" width="6.8" height="6.8" fill="none" stroke="#ffffff" stroke-opacity="0.72" stroke-width="1.05"/>
<rect x="438.10" y="352.70" width="6.8" height="6.8" fill="none" stroke="#ffffff" stroke-opacity="0.72" stroke-width="1.05"/>
<rect x="446.00" y="351.80" width="6.8" height="6.8" fill="none" stroke="#ffffff" stroke-opacity="0.72" stroke-width="1.05"/>
<rect x="453.90" y="349.60" width="6.8" height="6.8" fill="none" stroke="#ffffff" stroke-opacity="0.72" stroke-width="1.05"/>
<rect x="461.80" y="347.50" width="6.8" height="6.8" fill="none" stroke="#ffffff" stroke-opacity="0.72" stroke-width="1.05"/>
<rect x="458.80" y="474.20" width="6.8" height="6.8" fill="none" stroke="#ffffff" stroke-opacity="0.72" stroke-width="1.05"/>
<rect x="462.50" y="434.50" width="6.8" height="6.8" fill="none" stroke="#ffffff" stroke-opacity="0.72" stroke-width="1.05"/>
<rect x="464.50" y="405.30" width="6.8" height="6.8" fill="none" stroke="#ffffff" stroke-opacity="0.72" stroke-width="1.05"/>
<rect x="467.40" y="381.20" width="6.8" height="6.8" fill="none" stroke="#ffffff" stroke-opacity="0.72" stroke-width="1.05"/>
<rect x="469.70" y="362.90" width="6.8" height="6.8" fill="none" stroke="#ffffff" stroke-opacity="0.72" stroke-width="1.05"/>
<rect x="534.40" y="405.50" width="6.8" height="6.8" fill="none" stroke="#ffffff" stroke-opacity="0.72" stroke-width="1.05"/>
<rect x="518.10" y="389.80" width="6.8" height="6.8" fill="none" stroke="#ffffff" stroke-opacity="0.72" stroke-width="1.05"/>
<rect x="502.70" y="376.20" width="6.8" height="6.8" fill="none" stroke="#ffffff" stroke-opacity="0.72" stroke-width="1.05"/>
<rect x="491.20" y="365.20" width="6.8" height="6.8" fill="none" stroke="#ffffff" stroke-opacity="0.72" stroke-width="1.05"/>
<rect x="479.70" y="354.60" width="6.8" height="6.8" fill="none" stroke="#ffffff" stroke-opacity="0.72" stroke-width="1.05"/>
<rect x="469.50" y="347.50" width="7.0" height="7.0" fill="#f4f4f4" stroke="#2e2e2e" stroke-width="1.3"/>
<circle cx="473.00" cy="351.00" r="1.9" fill="none" stroke="#8a8a8a" stroke-width="0.9"/>
<circle cx="425.10" cy="307.20" r="2.1" fill="#6a6a6a" fill-opacity="0.85" stroke="#000" stroke-opacity="0.75" stroke-width="0.9"/>
<circle cx="430.10" cy="310.50" r="2.1" fill="#6a6a6a" fill-opacity="0.85" stroke="#000" stroke-opacity="0.75" stroke-width="0.9"/>
<circle cx="438.40" cy="317.60" r="2.1" fill="#6a6a6a" fill-opacity="0.85" stroke="#000" stroke-opacity="0.75" stroke-width="0.9"/>
<circle cx="448.70" cy="327.20" r="2.1" fill="#6a6a6a" fill-opacity="0.85" stroke="#000" stroke-opacity="0.75" stroke-width="0.9"/>
<circle cx="459.90" cy="336.80" r="2.1" fill="#6a6a6a" fill-opacity="0.85" stroke="#000" stroke-opacity="0.75" stroke-width="0.9"/>
<circle cx="476.60" cy="311.20" r="2.1" fill="#6a6a6a" fill-opacity="0.85" stroke="#000" stroke-opacity="0.75" stroke-width="0.9"/>
<circle cx="475.90" cy="316.50" r="2.1" fill="#6a6a6a" fill-opacity="0.85" stroke="#000" stroke-opacity="0.75" stroke-width="0.9"/>
<circle cx="473.10" cy="323.70" r="2.1" fill="#6a6a6a" fill-opacity="0.85" stroke="#000" stroke-opacity="0.75" stroke-width="0.9"/>
<circle cx="473.10" cy="330.80" r="2.1" fill="#6a6a6a" fill-opacity="0.85" stroke="#000" stroke-opacity="0.75" stroke-width="0.9"/>
<circle cx="473.50" cy="339.70" r="2.1" fill="#6a6a6a" fill-opacity="0.85" stroke="#000" stroke-opacity="0.75" stroke-width="0.9"/>
<circle cx="595.90" cy="333.10" r="2.1" fill="#6a6a6a" fill-opacity="0.85" stroke="#000" stroke-opacity="0.75" stroke-width="0.9"/>
<circle cx="558.80" cy="337.50" r="2.1" fill="#6a6a6a" fill-opacity="0.85" stroke="#000" stroke-opacity="0.75" stroke-width="0.9"/>
<circle cx="530.10" cy="341.50" r="2.1" fill="#6a6a6a" fill-opacity="0.85" stroke="#000" stroke-opacity="0.75" stroke-width="0.9"/>
<circle cx="499.30" cy="346.40" r="2.1" fill="#6a6a6a" fill-opacity="0.85" stroke="#000" stroke-opacity="0.75" stroke-width="0.9"/>
<circle cx="436.90" cy="356.00" r="2.1" fill="#6a6a6a" fill-opacity="0.85" stroke="#000" stroke-opacity="0.75" stroke-width="0.9"/>
<circle cx="444.10" cy="354.70" r="2.1" fill="#6a6a6a" fill-opacity="0.85" stroke="#000" stroke-opacity="0.75" stroke-width="0.9"/>
<circle cx="450.70" cy="354.70" r="2.1" fill="#6a6a6a" fill-opacity="0.85" stroke="#000" stroke-opacity="0.75" stroke-width="0.9"/>
<circle cx="458.00" cy="350.80" r="2.1" fill="#6a6a6a" fill-opacity="0.85" stroke="#000" stroke-opacity="0.75" stroke-width="0.9"/>
<circle cx="465.90" cy="350.00" r="2.1" fill="#6a6a6a" fill-opacity="0.85" stroke="#000" stroke-opacity="0.75" stroke-width="0.9"/>
<circle cx="462.60" cy="475.10" r="2.2" fill="#000" fill-opacity="0.6" stroke="#000" stroke-opacity="0.5" stroke-width="0.9"/>
<circle cx="466.40" cy="434.70" r="2.1" fill="#6a6a6a" fill-opacity="0.85" stroke="#000" stroke-opacity="0.75" stroke-width="0.9"/>
<circle cx="467.60" cy="407.00" r="2.1" fill="#6a6a6a" fill-opacity="0.85" stroke="#000" stroke-opacity="0.75" stroke-width="0.9"/>
<circle cx="470.80" cy="384.00" r="2.1" fill="#6a6a6a" fill-opacity="0.85" stroke="#000" stroke-opacity="0.75" stroke-width="0.9"/>
<circle cx="473.10" cy="366.20" r="2.1" fill="#6a6a6a" fill-opacity="0.85" stroke="#000" stroke-opacity="0.75" stroke-width="0.9"/>
<circle cx="536.20" cy="409.70" r="2.1" fill="#6a6a6a" fill-opacity="0.85" stroke="#000" stroke-opacity="0.75" stroke-width="0.9"/>
<circle cx="520.10" cy="393.20" r="2.1" fill="#6a6a6a" fill-opacity="0.85" stroke="#000" stroke-opacity="0.75" stroke-width="0.9"/>
<circle cx="504.50" cy="379.60" r="2.1" fill="#6a6a6a" fill-opacity="0.85" stroke="#000" stroke-opacity="0.75" stroke-width="0.9"/>
<circle cx="492.40" cy="368.10" r="2.1" fill="#6a6a6a" fill-opacity="0.85" stroke="#000" stroke-opacity="0.75" stroke-width="0.9"/>
<circle cx="481.90" cy="357.70" r="2.1" fill="#6a6a6a" fill-opacity="0.85" stroke="#000" stroke-opacity="0.75" stroke-width="0.9"/>
<rect x="589.0" y="449.5" width="90.2" height="72.0" fill="#232323"/>
<polygon points="606.0,449.5 635.0,449.5 679.2,484.5 679.2,504.5" fill="url(#ol)"/>
<polygon points="589.0,449.5 606.0,449.5 679.2,504.5 679.2,521.5 589.0,521.5" fill="url(#yr)"/>
<polyline points="589.0,449.5 679.2,449.5 679.2,521.5" fill="none" stroke="#7a7a7a" stroke-width="1.3"/>
<rect x="630.8000000000001" y="482.2" width="6.6" height="6.6" fill="none" stroke="#f4f4f4" stroke-width="1"/>
<circle cx="630.3" cy="490" r="2.1" fill="#707030" stroke="#222" stroke-width="0.9"/>
<text x="531.70" y="536.80" font-size="12" text-anchor="start" fill="#ececec" font-weight="normal" id="t_rgb2" textLength="134.8" lengthAdjust="spacingAndGlyphs">RGB Triplet: 125, 126, 54</text>
<text x="239.50" y="31.60" font-size="20" text-anchor="start" fill="#ffffff" font-weight="bold" id="t_title" textLength="187.3" lengthAdjust="spacingAndGlyphs">HDR Mode Filmmaker</text>
<text x="8.00" y="264.60" font-size="17.5" text-anchor="start" fill="#ffffff" font-weight="bold" id="t_pic" textLength="249.5" lengthAdjust="spacingAndGlyphs">Pic de luminosité : 946 cd/m²</text>
<text x="470.00" y="265.20" font-size="17.5" text-anchor="start" fill="#ffffff" font-weight="bold" id="t_de" textLength="173" lengthAdjust="spacingAndGlyphs">Delta E moyen : 0,85</text>
<text x="65.40" y="588.90" font-size="17.5" text-anchor="start" fill="#ffffff" font-weight="bold" id="t_bt" textLength="219" lengthAdjust="spacingAndGlyphs">Couverture BT2020 : 73%</text>
<text x="404.50" y="588.90" font-size="17.5" text-anchor="start" fill="#ffffff" font-weight="bold" id="t_p3" textLength="212.5" lengthAdjust="spacingAndGlyphs">Couverture DCI-P3 : 99%</text>
</svg>
</body></html>
